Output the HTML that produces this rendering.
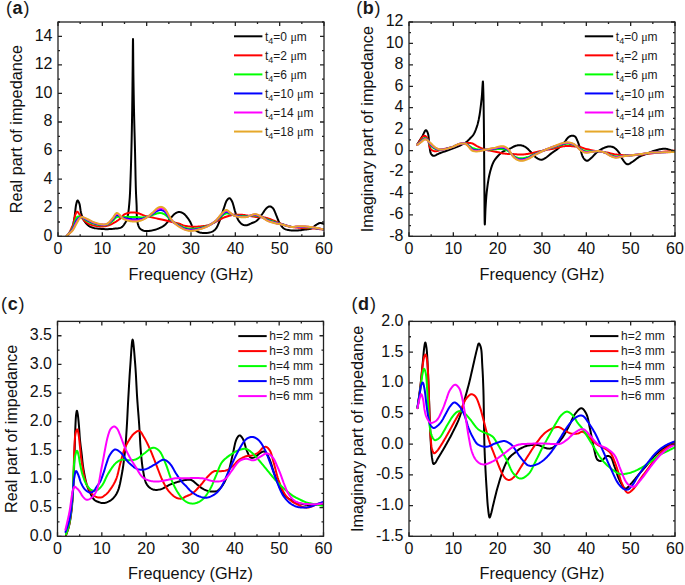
<!DOCTYPE html>
<html><head><meta charset="utf-8"><style>
html,body{margin:0;padding:0;background:#fff;}
svg{display:block;}
.tk{font-family:"Liberation Sans", sans-serif;font-size:16px;fill:#111;}
.pl{font-family:"Liberation Sans", sans-serif;font-size:18px;fill:#1a1a1a;}
.tt{font-family:"Liberation Sans", sans-serif;font-size:16.3px;fill:#111;}
.lg{font-family:"Liberation Sans", sans-serif;font-size:12px;fill:#1a1a1a;}
</style></head><body>
<svg width="685" height="585" viewBox="0 0 685 585">
<defs><clipPath id="ca"><rect x="58" y="22" width="266" height="214.3"/></clipPath><clipPath id="cb"><rect x="409" y="22" width="266" height="214.3"/></clipPath><clipPath id="cc"><rect x="57.5" y="321.4" width="266.0" height="214.89999999999998"/></clipPath><clipPath id="cd"><rect x="409" y="321.4" width="266" height="214.89999999999998"/></clipPath></defs>
<rect width="685" height="585" fill="#fff"/>
<g clip-path="url(#ca)" fill="none" stroke-width="2" stroke-linejoin="round" stroke-linecap="round">
<path d="M66.90,236.00 L67.46,235.38 L68.04,234.80 L68.63,234.23 L69.22,233.65 L69.79,233.05 L70.33,232.40 L70.84,231.69 L71.30,230.90 L71.85,229.67 L72.32,228.30 L72.73,226.82 L73.09,225.25 L73.41,223.62 L73.71,221.97 L74.01,220.32 L74.30,218.70 L74.60,216.90 L74.85,214.97 L75.07,212.98 L75.27,210.99 L75.48,209.07 L75.69,207.27 L75.92,205.66 L76.20,204.30 L76.36,203.65 L76.52,202.99 L76.68,202.36 L76.85,201.78 L77.03,201.28 L77.21,200.88 L77.40,200.61 L77.60,200.50 L77.80,200.55 L78.01,200.74 L78.23,201.03 L78.46,201.41 L78.68,201.85 L78.90,202.32 L79.11,202.82 L79.30,203.30 L79.58,204.19 L79.80,205.24 L80.00,206.40 L80.17,207.63 L80.34,208.90 L80.53,210.16 L80.74,211.37 L81.00,212.50 L81.25,213.46 L81.50,214.40 L81.76,215.33 L82.03,216.24 L82.34,217.14 L82.68,218.01 L83.06,218.87 L83.50,219.70 L84.02,220.55 L84.59,221.41 L85.21,222.25 L85.87,223.08 L86.56,223.86 L87.26,224.58 L87.98,225.23 L88.70,225.80 L89.29,226.20 L89.88,226.54 L90.47,226.83 L91.08,227.08 L91.71,227.31 L92.37,227.51 L93.06,227.71 L93.80,227.90 L94.90,228.15 L96.09,228.37 L97.35,228.56 L98.66,228.72 L100.01,228.85 L101.36,228.96 L102.70,229.04 L104.00,229.10 L105.29,229.14 L106.59,229.14 L107.90,229.13 L109.21,229.08 L110.51,229.02 L111.78,228.93 L113.01,228.83 L114.20,228.70 L115.19,228.60 L116.17,228.51 L117.14,228.41 L118.08,228.29 L118.99,228.14 L119.86,227.93 L120.66,227.66 L121.40,227.30 L121.99,226.90 L122.54,226.43 L123.04,225.91 L123.51,225.34 L123.94,224.76 L124.35,224.16 L124.73,223.57 L125.10,223.00 L125.40,222.51 L125.68,222.03 L125.94,221.55 L126.18,221.06 L126.40,220.57 L126.61,220.06 L126.81,219.54 L127.00,219.00 L127.20,218.38 L127.38,217.77 L127.53,217.14 L127.68,216.49 L127.81,215.82 L127.94,215.10 L128.07,214.33 L128.20,213.50 L128.42,211.97 L128.63,210.25 L128.84,208.39 L129.03,206.42 L129.22,204.38 L129.39,202.30 L129.55,200.23 L129.70,198.20 L129.84,196.03 L129.96,193.87 L130.07,191.69 L130.16,189.48 L130.24,187.23 L130.33,184.91 L130.41,182.50 L130.50,180.00 L130.62,176.62 L130.74,173.08 L130.86,169.40 L130.97,165.61 L131.09,161.75 L131.20,157.84 L131.30,153.91 L131.40,150.00 L131.50,145.77 L131.60,141.49 L131.69,137.18 L131.78,132.81 L131.87,128.41 L131.95,123.98 L132.03,119.51 L132.10,115.00 L132.18,110.11 L132.24,105.14 L132.31,100.10 L132.37,95.04 L132.43,89.96 L132.49,84.91 L132.54,79.92 L132.60,75.00 L132.65,69.92 L132.71,64.18 L132.76,58.20 L132.80,52.38 L132.85,47.14 L132.90,42.89 L132.95,40.04 L133.00,39.00 L133.05,40.04 L133.09,42.89 L133.14,47.14 L133.18,52.38 L133.23,58.20 L133.28,64.18 L133.34,69.92 L133.40,75.00 L133.47,79.92 L133.55,84.91 L133.63,89.96 L133.72,95.04 L133.81,100.10 L133.90,105.14 L134.00,110.11 L134.10,115.00 L134.20,119.47 L134.31,123.86 L134.42,128.19 L134.54,132.50 L134.66,136.81 L134.77,141.14 L134.89,145.53 L135.00,150.00 L135.11,155.00 L135.22,160.26 L135.33,165.65 L135.44,171.04 L135.54,176.29 L135.66,181.29 L135.77,185.90 L135.90,190.00 L135.98,192.22 L136.07,194.24 L136.15,196.12 L136.24,197.90 L136.33,199.63 L136.42,201.36 L136.51,203.14 L136.60,205.00 L136.67,207.10 L136.71,209.29 L136.73,211.54 L136.77,213.78 L136.83,215.97 L136.94,218.05 L137.12,219.98 L137.40,221.70 L137.62,222.73 L137.84,223.71 L138.09,224.64 L138.36,225.51 L138.67,226.33 L139.02,227.09 L139.43,227.78 L139.90,228.40 L140.36,228.87 L140.87,229.29 L141.41,229.67 L141.99,230.00 L142.60,230.28 L143.22,230.53 L143.86,230.73 L144.50,230.90 L145.21,231.03 L145.95,231.10 L146.70,231.12 L147.48,231.09 L148.27,231.03 L149.07,230.94 L149.88,230.82 L150.70,230.70 L151.68,230.53 L152.69,230.32 L153.73,230.07 L154.78,229.79 L155.83,229.48 L156.85,229.14 L157.85,228.78 L158.80,228.40 L159.64,228.03 L160.47,227.65 L161.27,227.25 L162.06,226.82 L162.83,226.37 L163.57,225.88 L164.30,225.36 L165.00,224.80 L165.71,224.15 L166.37,223.43 L167.01,222.66 L167.63,221.86 L168.23,221.04 L168.84,220.23 L169.46,219.45 L170.10,218.70 L170.73,217.99 L171.35,217.27 L171.99,216.54 L172.62,215.83 L173.26,215.15 L173.90,214.53 L174.55,213.97 L175.20,213.50 L175.71,213.19 L176.22,212.90 L176.73,212.64 L177.24,212.42 L177.76,212.25 L178.27,212.11 L178.79,212.03 L179.30,212.00 L179.82,212.03 L180.34,212.12 L180.86,212.26 L181.39,212.44 L181.90,212.66 L182.41,212.92 L182.91,213.20 L183.40,213.50 L183.94,213.89 L184.48,214.34 L185.01,214.84 L185.52,215.38 L186.02,215.93 L186.50,216.50 L186.96,217.06 L187.40,217.60 L187.77,218.07 L188.12,218.54 L188.45,219.00 L188.76,219.47 L189.07,219.95 L189.37,220.44 L189.68,220.96 L190.00,221.50 L190.39,222.23 L190.75,223.03 L191.10,223.87 L191.46,224.73 L191.84,225.59 L192.24,226.42 L192.69,227.20 L193.20,227.90 L193.73,228.52 L194.30,229.11 L194.90,229.68 L195.52,230.21 L196.18,230.70 L196.87,231.15 L197.57,231.55 L198.30,231.90 L199.11,232.21 L199.96,232.45 L200.85,232.65 L201.77,232.80 L202.70,232.90 L203.62,232.97 L204.52,233.00 L205.40,233.00 L206.21,232.98 L207.02,232.93 L207.83,232.84 L208.63,232.73 L209.42,232.58 L210.18,232.39 L210.91,232.16 L211.60,231.90 L212.19,231.63 L212.75,231.35 L213.28,231.03 L213.80,230.69 L214.29,230.30 L214.77,229.88 L215.24,229.42 L215.70,228.90 L216.29,228.12 L216.83,227.23 L217.35,226.26 L217.84,225.22 L218.31,224.13 L218.78,223.00 L219.24,221.85 L219.70,220.70 L220.25,219.28 L220.78,217.76 L221.31,216.17 L221.82,214.56 L222.32,212.94 L222.82,211.35 L223.31,209.83 L223.80,208.40 L224.19,207.26 L224.56,206.11 L224.92,204.98 L225.28,203.88 L225.65,202.83 L226.04,201.87 L226.45,201.02 L226.90,200.30 L227.20,199.90 L227.52,199.51 L227.85,199.14 L228.19,198.81 L228.52,198.54 L228.86,198.34 L229.19,198.22 L229.50,198.20 L229.83,198.30 L230.16,198.52 L230.48,198.85 L230.80,199.25 L231.11,199.72 L231.42,200.23 L231.71,200.76 L232.00,201.30 L232.44,202.28 L232.86,203.43 L233.24,204.71 L233.61,206.08 L233.97,207.48 L234.34,208.88 L234.71,210.24 L235.10,211.50 L235.45,212.59 L235.79,213.69 L236.12,214.78 L236.46,215.85 L236.82,216.88 L237.20,217.88 L237.63,218.82 L238.10,219.70 L238.54,220.40 L239.00,221.08 L239.49,221.74 L240.00,222.36 L240.53,222.94 L241.08,223.46 L241.63,223.92 L242.20,224.30 L242.68,224.56 L243.17,224.79 L243.68,224.97 L244.19,225.12 L244.71,225.23 L245.24,225.29 L245.77,225.32 L246.30,225.30 L246.92,225.21 L247.54,225.05 L248.18,224.81 L248.82,224.54 L249.47,224.23 L250.12,223.91 L250.76,223.59 L251.40,223.30 L252.06,223.03 L252.72,222.77 L253.38,222.51 L254.04,222.24 L254.70,221.95 L255.35,221.62 L255.98,221.24 L256.60,220.80 L257.33,220.17 L258.04,219.44 L258.73,218.64 L259.41,217.78 L260.07,216.90 L260.72,216.01 L261.37,215.13 L262.00,214.30 L262.58,213.52 L263.14,212.70 L263.69,211.87 L264.22,211.05 L264.76,210.26 L265.30,209.52 L265.84,208.86 L266.40,208.30 L266.81,207.94 L267.22,207.60 L267.63,207.27 L268.04,206.99 L268.46,206.75 L268.87,206.56 L269.29,206.44 L269.70,206.40 L270.12,206.44 L270.54,206.55 L270.97,206.72 L271.40,206.96 L271.82,207.24 L272.23,207.56 L272.63,207.92 L273.00,208.30 L273.49,208.94 L273.95,209.71 L274.37,210.57 L274.76,211.51 L275.14,212.49 L275.52,213.48 L275.90,214.46 L276.30,215.40 L276.71,216.35 L277.10,217.32 L277.48,218.30 L277.87,219.29 L278.26,220.26 L278.68,221.21 L279.12,222.13 L279.60,223.00 L280.07,223.78 L280.55,224.56 L281.04,225.33 L281.56,226.08 L282.10,226.78 L282.67,227.43 L283.27,228.00 L283.90,228.50 L284.51,228.87 L285.14,229.18 L285.80,229.43 L286.49,229.63 L287.19,229.80 L287.91,229.94 L288.65,230.07 L289.40,230.20 L290.29,230.33 L291.23,230.43 L292.19,230.50 L293.17,230.54 L294.15,230.55 L295.15,230.55 L296.13,230.53 L297.10,230.50 L298.06,230.45 L299.02,230.37 L299.98,230.26 L300.94,230.14 L301.89,230.01 L302.84,229.87 L303.78,229.73 L304.70,229.60 L305.56,229.49 L306.43,229.41 L307.29,229.32 L308.15,229.23 L308.98,229.12 L309.79,228.97 L310.57,228.77 L311.30,228.50 L311.92,228.19 L312.50,227.81 L313.05,227.38 L313.58,226.92 L314.10,226.46 L314.62,226.01 L315.15,225.58 L315.70,225.20 L316.24,224.86 L316.79,224.51 L317.34,224.16 L317.89,223.83 L318.45,223.53 L319.00,223.28 L319.55,223.10 L320.10,223.00 L320.59,222.99 L321.08,223.05 L321.57,223.17 L322.05,223.32 L322.54,223.50 L323.03,223.68 L323.51,223.86 L324.00,224.00" stroke="#000000"/>
<path d="M67.70,236.00 L68.42,234.47 L69.18,232.92 L69.95,231.37 L70.71,229.82 L71.45,228.28 L72.14,226.76 L72.76,225.26 L73.30,223.80 L73.67,222.57 L73.97,221.31 L74.21,220.04 L74.43,218.80 L74.63,217.61 L74.85,216.49 L75.10,215.48 L75.40,214.60 L75.60,214.11 L75.81,213.61 L76.03,213.13 L76.25,212.68 L76.47,212.30 L76.71,211.99 L76.95,211.79 L77.20,211.70 L77.46,211.76 L77.74,211.96 L78.02,212.26 L78.31,212.65 L78.61,213.08 L78.90,213.54 L79.20,213.99 L79.50,214.40 L79.85,214.89 L80.19,215.40 L80.53,215.94 L80.87,216.49 L81.23,217.05 L81.62,217.61 L82.04,218.16 L82.50,218.70 L83.13,219.37 L83.80,220.06 L84.51,220.75 L85.27,221.44 L86.07,222.10 L86.91,222.72 L87.78,223.29 L88.70,223.80 L89.82,224.31 L91.04,224.75 L92.33,225.14 L93.66,225.48 L95.01,225.76 L96.35,225.99 L97.65,226.17 L98.90,226.30 L99.96,226.38 L101.00,226.42 L102.03,226.42 L103.05,226.38 L104.06,226.29 L105.05,226.17 L106.03,226.01 L107.00,225.80 L107.94,225.55 L108.86,225.25 L109.77,224.90 L110.67,224.52 L111.56,224.10 L112.45,223.65 L113.32,223.18 L114.20,222.70 L115.15,222.15 L116.12,221.54 L117.10,220.89 L118.07,220.22 L119.00,219.54 L119.88,218.86 L120.69,218.21 L121.40,217.60 L121.81,217.20 L122.15,216.80 L122.45,216.39 L122.72,216.00 L123.01,215.62 L123.31,215.25 L123.67,214.91 L124.10,214.60 L124.80,214.21 L125.60,213.85 L126.49,213.53 L127.42,213.24 L128.39,212.99 L129.36,212.78 L130.30,212.61 L131.20,212.50 L131.99,212.44 L132.77,212.42 L133.54,212.44 L134.30,212.49 L135.07,212.58 L135.84,212.70 L136.62,212.84 L137.40,213.00 L138.27,213.23 L139.14,213.52 L140.01,213.85 L140.89,214.21 L141.78,214.58 L142.67,214.95 L143.58,215.29 L144.50,215.60 L145.48,215.89 L146.48,216.16 L147.48,216.41 L148.50,216.65 L149.53,216.89 L150.57,217.13 L151.63,217.36 L152.70,217.60 L153.93,217.87 L155.20,218.13 L156.49,218.39 L157.80,218.65 L159.11,218.91 L160.40,219.17 L161.67,219.43 L162.90,219.70 L163.97,219.94 L165.02,220.19 L166.04,220.44 L167.06,220.69 L168.07,220.94 L169.07,221.19 L170.08,221.44 L171.10,221.70 L172.14,221.96 L173.19,222.21 L174.25,222.47 L175.30,222.73 L176.34,222.99 L177.36,223.25 L178.35,223.52 L179.30,223.80 L180.06,224.05 L180.78,224.31 L181.47,224.58 L182.14,224.85 L182.82,225.12 L183.52,225.37 L184.24,225.60 L185.00,225.80 L185.95,226.00 L186.93,226.19 L187.96,226.35 L189.00,226.48 L190.05,226.60 L191.11,226.69 L192.17,226.76 L193.20,226.80 L194.21,226.82 L195.23,226.80 L196.24,226.76 L197.25,226.70 L198.26,226.62 L199.28,226.53 L200.29,226.42 L201.30,226.30 L202.33,226.18 L203.36,226.05 L204.39,225.91 L205.42,225.76 L206.45,225.58 L207.48,225.36 L208.49,225.11 L209.50,224.80 L210.55,224.41 L211.61,223.94 L212.66,223.43 L213.70,222.88 L214.73,222.31 L215.75,221.75 L216.74,221.20 L217.70,220.70 L218.50,220.29 L219.28,219.87 L220.04,219.46 L220.79,219.06 L221.53,218.67 L222.28,218.29 L223.03,217.93 L223.80,217.60 L224.57,217.29 L225.36,217.00 L226.16,216.73 L226.96,216.47 L227.76,216.22 L228.53,216.00 L229.28,215.79 L230.00,215.60 L230.53,215.46 L231.02,215.34 L231.49,215.22 L231.96,215.12 L232.43,215.02 L232.92,214.94 L233.43,214.86 L234.00,214.80 L234.88,214.73 L235.84,214.68 L236.86,214.65 L237.92,214.64 L239.00,214.65 L240.08,214.68 L241.16,214.73 L242.20,214.80 L243.24,214.90 L244.28,215.04 L245.33,215.20 L246.37,215.39 L247.41,215.58 L248.43,215.76 L249.43,215.94 L250.40,216.10 L251.21,216.23 L251.99,216.35 L252.74,216.47 L253.49,216.59 L254.23,216.70 L254.99,216.81 L255.78,216.91 L256.60,217.00 L257.62,217.08 L258.67,217.13 L259.76,217.15 L260.87,217.18 L261.99,217.22 L263.10,217.29 L264.21,217.41 L265.30,217.60 L266.42,217.87 L267.55,218.22 L268.67,218.61 L269.80,219.04 L270.91,219.48 L272.00,219.94 L273.07,220.38 L274.10,220.80 L274.96,221.15 L275.78,221.50 L276.57,221.86 L277.35,222.21 L278.14,222.56 L278.95,222.91 L279.80,223.26 L280.70,223.60 L281.92,224.04 L283.22,224.49 L284.56,224.95 L285.95,225.40 L287.37,225.83 L288.79,226.24 L290.21,226.59 L291.60,226.90 L292.96,227.14 L294.33,227.34 L295.71,227.50 L297.09,227.62 L298.47,227.73 L299.85,227.82 L301.22,227.91 L302.60,228.00 L303.97,228.09 L305.33,228.15 L306.70,228.20 L308.07,228.25 L309.43,228.29 L310.79,228.35 L312.15,228.41 L313.50,228.50 L314.82,228.61 L316.14,228.73 L317.45,228.87 L318.76,229.01 L320.07,229.16 L321.38,229.31 L322.69,229.46 L324.00,229.60" stroke="#ff0000"/>
<path d="M66.80,235.71 L67.56,235.14 L68.30,234.50 L69.07,233.51 L69.80,232.42 L70.56,231.36 L71.30,230.26 L72.07,229.04 L72.80,227.71 L73.57,225.77 L74.30,223.67 L75.02,221.38 L75.80,219.26 L76.50,217.92 L77.30,216.94 L78.03,216.59 L78.80,216.48 L79.55,216.54 L80.30,216.75 L81.06,217.09 L81.80,217.49 L82.55,217.94 L83.30,218.41 L84.05,218.92 L84.80,219.45 L85.55,219.94 L86.30,220.42 L87.05,220.86 L87.80,221.28 L88.55,221.67 L89.30,222.06 L90.05,222.41 L90.80,222.75 L91.55,223.06 L92.30,223.35 L93.05,223.61 L93.80,223.85 L94.55,224.07 L95.30,224.27 L96.05,224.46 L96.80,224.63 L97.55,224.79 L98.30,224.93 L99.05,225.06 L99.80,225.17 L100.55,225.26 L101.30,225.32 L102.05,225.36 L102.80,225.37 L103.55,225.37 L104.30,225.33 L105.05,225.25 L105.80,225.13 L106.56,224.94 L107.30,224.68 L108.06,224.32 L108.80,223.89 L109.56,223.36 L110.30,222.79 L111.05,222.19 L111.80,221.57 L112.56,220.91 L113.30,220.22 L114.05,219.44 L114.80,218.65 L115.53,217.92 L116.30,217.32 L117.04,217.01 L117.80,216.84 L118.55,216.86 L119.30,216.96 L120.05,217.08 L120.80,217.20 L121.55,217.29 L122.30,217.31 L123.05,217.15 L123.80,216.97 L124.55,216.92 L125.30,216.90 L126.05,216.88 L126.80,216.87 L127.55,216.87 L128.30,216.87 L129.05,216.87 L129.80,216.88 L130.55,216.88 L131.30,216.89 L132.05,216.91 L132.80,216.93 L133.55,216.96 L134.30,217.00 L135.05,217.04 L135.80,217.08 L136.55,217.12 L137.30,217.16 L138.05,217.20 L138.80,217.25 L139.55,217.30 L140.30,217.35 L141.05,217.38 L141.80,217.39 L142.55,217.39 L143.30,217.35 L144.05,217.29 L144.80,217.20 L145.55,217.09 L146.30,216.95 L147.05,216.79 L147.80,216.62 L148.55,216.41 L149.30,216.18 L150.05,215.94 L150.80,215.69 L151.55,215.44 L152.30,215.18 L153.05,214.92 L153.80,214.65 L154.55,214.36 L155.30,214.06 L156.05,213.77 L156.80,213.52 L157.55,213.33 L158.30,213.19 L159.05,213.09 L159.80,213.04 L160.55,213.05 L161.30,213.12 L162.05,213.28 L162.80,213.52 L163.56,213.82 L164.30,214.19 L165.06,214.64 L165.80,215.17 L166.56,215.87 L167.30,216.63 L168.05,217.42 L168.80,218.20 L169.55,218.91 L170.30,219.61 L171.05,220.31 L171.80,220.97 L172.54,221.54 L173.30,222.08 L174.05,222.55 L174.80,222.99 L175.55,223.41 L176.30,223.81 L177.05,224.20 L177.80,224.57 L178.55,224.94 L179.30,225.30 L180.05,225.66 L180.80,226.03 L181.55,226.39 L182.30,226.74 L183.05,227.07 L183.80,227.37 L184.55,227.63 L185.30,227.87 L186.05,228.07 L186.80,228.24 L187.55,228.40 L188.30,228.53 L189.05,228.63 L189.80,228.71 L190.55,228.77 L191.30,228.80 L192.05,228.81 L192.80,228.79 L193.55,228.75 L194.30,228.70 L195.05,228.62 L195.80,228.53 L196.55,228.43 L197.30,228.32 L198.05,228.19 L198.80,228.06 L199.55,227.91 L200.30,227.77 L201.05,227.61 L201.80,227.44 L202.55,227.27 L203.30,227.09 L204.05,226.91 L204.80,226.70 L205.55,226.48 L206.30,226.25 L207.05,225.99 L207.80,225.71 L208.55,225.41 L209.30,225.08 L210.05,224.73 L210.80,224.35 L211.55,223.93 L212.30,223.50 L213.05,223.04 L213.80,222.55 L214.55,222.05 L215.30,221.52 L216.05,220.97 L216.80,220.38 L217.55,219.75 L218.30,219.09 L219.05,218.39 L219.80,217.70 L220.55,217.04 L221.30,216.40 L222.05,215.82 L222.80,215.27 L223.54,214.73 L224.30,214.24 L225.04,213.81 L225.80,213.49 L226.55,213.33 L227.30,213.30 L228.05,213.45 L228.80,213.68 L229.55,213.90 L230.30,214.13 L231.05,214.36 L231.80,214.59 L232.55,214.83 L233.30,215.04 L234.05,215.21 L234.80,215.34 L235.55,215.44 L236.30,215.54 L237.05,215.62 L237.80,215.69 L238.55,215.76 L239.30,215.82 L240.05,215.88 L240.80,215.94 L241.55,216.00 L242.30,216.05 L243.05,216.10 L243.80,216.15 L244.55,216.19 L245.30,216.22 L246.05,216.24 L246.80,216.22 L247.55,216.17 L248.30,216.09 L249.05,215.99 L249.80,215.88 L250.55,215.78 L251.30,215.69 L252.05,215.61 L252.80,215.54 L253.55,215.47 L254.30,215.44 L255.05,215.46 L255.80,215.52 L256.55,215.65 L257.30,215.82 L258.05,216.00 L258.80,216.21 L259.55,216.42 L260.30,216.64 L261.05,216.86 L261.80,217.09 L262.55,217.37 L263.30,217.66 L264.05,217.98 L264.80,218.31 L265.55,218.65 L266.30,218.99 L267.05,219.31 L267.80,219.62 L268.55,219.92 L269.30,220.21 L270.05,220.49 L270.80,220.76 L271.55,221.03 L272.30,221.29 L273.05,221.55 L273.80,221.80 L274.55,222.05 L275.30,222.29 L276.05,222.53 L276.80,222.78 L277.55,223.01 L278.30,223.25 L279.05,223.47 L279.80,223.69 L280.55,223.90 L281.30,224.10 L282.05,224.31 L282.80,224.52 L283.55,224.75 L284.30,224.97 L285.05,225.20 L285.80,225.44 L286.55,225.67 L287.30,225.89 L288.05,226.11 L288.80,226.32 L289.55,226.50 L290.30,226.67 L291.05,226.81 L291.80,226.92 L292.55,227.00 L293.30,227.05 L294.05,227.06 L294.80,227.06 L295.55,227.05 L296.30,227.03 L297.05,227.01 L297.80,227.00 L298.55,227.01 L299.30,227.02 L300.05,227.03 L300.80,227.05 L301.55,227.07 L302.30,227.10 L303.05,227.13 L303.80,227.16 L304.55,227.20 L305.30,227.25 L306.05,227.29 L306.80,227.34 L307.55,227.39 L308.30,227.45 L309.05,227.51 L309.80,227.58 L310.55,227.64 L311.30,227.72 L312.05,227.79 L312.80,227.87 L313.55,227.96 L314.30,228.05 L315.05,228.14 L315.80,228.25 L316.55,228.35 L317.30,228.46 L318.05,228.58 L318.80,228.69 L319.55,228.81 L320.30,228.93 L321.05,229.05 L321.80,229.16 L322.55,229.28 L323.30,229.40" stroke="#00ff00"/>
<path d="M66.80,235.57 L67.56,235.00 L68.30,234.39 L69.06,233.62 L69.80,232.80 L70.56,231.97 L71.30,231.10 L72.07,230.10 L72.80,228.98 L73.57,227.42 L74.30,225.73 L75.04,223.87 L75.80,222.07 L76.52,220.73 L77.30,219.56 L78.02,218.71 L78.80,218.02 L79.53,217.60 L80.30,217.34 L81.05,217.26 L81.80,217.31 L82.56,217.52 L83.30,217.84 L84.05,218.23 L84.80,218.66 L85.55,219.08 L86.30,219.50 L87.05,219.88 L87.80,220.26 L88.55,220.66 L89.30,221.04 L90.05,221.42 L90.80,221.79 L91.55,222.13 L92.30,222.46 L93.05,222.75 L93.80,223.03 L94.55,223.27 L95.30,223.50 L96.05,223.71 L96.80,223.92 L97.55,224.10 L98.30,224.28 L99.05,224.43 L99.80,224.57 L100.55,224.69 L101.30,224.77 L102.05,224.83 L102.80,224.86 L103.55,224.88 L104.30,224.86 L105.05,224.80 L105.80,224.67 L106.56,224.46 L107.30,224.16 L108.06,223.72 L108.80,223.20 L109.56,222.55 L110.30,221.85 L111.05,221.12 L111.80,220.36 L112.56,219.57 L113.30,218.73 L114.05,217.76 L114.80,216.80 L115.52,215.93 L116.30,215.28 L117.04,215.05 L117.80,215.06 L118.56,215.35 L119.30,215.78 L120.05,216.24 L120.80,216.74 L121.54,217.24 L122.30,217.67 L123.04,217.89 L123.80,218.05 L124.55,218.21 L125.30,218.36 L126.05,218.48 L126.80,218.59 L127.55,218.70 L128.30,218.80 L129.05,218.89 L129.80,218.97 L130.55,219.04 L131.30,219.10 L132.05,219.15 L132.80,219.19 L133.55,219.22 L134.30,219.25 L135.05,219.26 L135.80,219.27 L136.55,219.26 L137.30,219.25 L138.05,219.22 L138.80,219.17 L139.55,219.12 L140.30,219.04 L141.05,218.93 L141.80,218.80 L142.55,218.63 L143.30,218.44 L144.05,218.21 L144.80,217.96 L145.55,217.68 L146.30,217.37 L147.05,217.04 L147.80,216.68 L148.55,216.28 L149.30,215.85 L150.05,215.40 L150.80,214.94 L151.55,214.48 L152.30,214.02 L153.05,213.55 L153.80,213.06 L154.55,212.53 L155.30,212.01 L156.04,211.51 L156.80,211.05 L157.54,210.70 L158.30,210.42 L159.05,210.19 L159.80,210.04 L160.55,209.98 L161.30,210.01 L162.06,210.17 L162.80,210.44 L163.56,210.81 L164.30,211.28 L165.07,211.87 L165.80,212.57 L166.56,213.53 L167.30,214.58 L168.05,215.66 L168.80,216.74 L169.55,217.72 L170.30,218.67 L171.04,219.61 L171.80,220.51 L172.54,221.28 L173.30,221.99 L174.04,222.61 L174.80,223.18 L175.55,223.72 L176.30,224.23 L177.05,224.71 L177.80,225.17 L178.55,225.62 L179.30,226.05 L180.05,226.47 L180.80,226.88 L181.55,227.28 L182.30,227.65 L183.05,228.00 L183.80,228.33 L184.55,228.61 L185.30,228.87 L186.05,229.09 L186.80,229.28 L187.55,229.45 L188.30,229.59 L189.05,229.70 L189.80,229.78 L190.55,229.83 L191.30,229.85 L192.05,229.83 L192.80,229.79 L193.55,229.73 L194.30,229.64 L195.05,229.53 L195.80,229.41 L196.55,229.27 L197.30,229.12 L198.05,228.96 L198.80,228.80 L199.55,228.62 L200.30,228.44 L201.05,228.25 L201.80,228.05 L202.55,227.83 L203.30,227.61 L204.05,227.38 L204.80,227.13 L205.55,226.86 L206.30,226.57 L207.05,226.26 L207.80,225.93 L208.55,225.57 L209.30,225.19 L210.05,224.79 L210.80,224.37 L211.55,223.91 L212.30,223.44 L213.05,222.94 L213.80,222.42 L214.55,221.87 L215.30,221.29 L216.06,220.66 L216.80,219.99 L217.56,219.23 L218.30,218.43 L219.05,217.59 L219.80,216.75 L220.54,215.96 L221.30,215.20 L222.05,214.53 L222.80,213.89 L223.54,213.25 L224.30,212.65 L225.04,212.16 L225.80,211.81 L226.55,211.70 L227.30,211.77 L228.06,212.11 L228.80,212.56 L229.55,212.99 L230.30,213.43 L231.05,213.87 L231.80,214.32 L232.55,214.74 L233.30,215.12 L234.05,215.41 L234.80,215.64 L235.55,215.82 L236.30,215.97 L237.05,216.10 L237.80,216.21 L238.55,216.31 L239.30,216.40 L240.05,216.48 L240.80,216.55 L241.55,216.62 L242.30,216.67 L243.05,216.71 L243.80,216.74 L244.55,216.75 L245.30,216.73 L246.05,216.69 L246.80,216.60 L247.55,216.46 L248.30,216.27 L249.05,216.05 L249.80,215.81 L250.55,215.61 L251.30,215.41 L252.05,215.23 L252.80,215.07 L253.55,214.91 L254.30,214.80 L255.05,214.78 L255.80,214.83 L256.55,214.98 L257.30,215.19 L258.05,215.45 L258.80,215.75 L259.55,216.05 L260.30,216.38 L261.05,216.70 L261.80,217.04 L262.55,217.42 L263.30,217.83 L264.05,218.27 L264.80,218.71 L265.55,219.14 L266.30,219.56 L267.05,219.93 L267.80,220.28 L268.55,220.60 L269.30,220.89 L270.05,221.16 L270.80,221.42 L271.55,221.67 L272.30,221.91 L273.05,222.14 L273.80,222.36 L274.55,222.58 L275.30,222.79 L276.05,222.99 L276.80,223.18 L277.55,223.37 L278.30,223.55 L279.05,223.73 L279.80,223.90 L280.55,224.08 L281.30,224.25 L282.05,224.43 L282.80,224.61 L283.55,224.81 L284.30,225.03 L285.05,225.25 L285.80,225.48 L286.55,225.71 L287.30,225.93 L288.05,226.15 L288.80,226.35 L289.55,226.54 L290.30,226.70 L291.05,226.82 L291.80,226.92 L292.55,226.96 L293.30,226.97 L294.05,226.94 L294.80,226.89 L295.55,226.83 L296.30,226.76 L297.05,226.71 L297.80,226.66 L298.55,226.64 L299.30,226.64 L300.05,226.63 L300.80,226.63 L301.55,226.64 L302.30,226.65 L303.05,226.68 L303.80,226.71 L304.55,226.75 L305.30,226.79 L306.05,226.85 L306.80,226.91 L307.55,226.98 L308.30,227.05 L309.05,227.13 L309.80,227.21 L310.55,227.30 L311.30,227.39 L312.05,227.48 L312.80,227.58 L313.55,227.68 L314.30,227.79 L315.05,227.90 L315.80,228.02 L316.55,228.14 L317.30,228.27 L318.05,228.40 L318.80,228.53 L319.55,228.66 L320.30,228.80 L321.05,228.93 L321.80,229.07 L322.55,229.20 L323.30,229.33" stroke="#0000ff"/>
<path d="M66.80,235.48 L67.55,234.91 L68.30,234.32 L69.05,233.69 L69.80,233.03 L70.56,232.34 L71.30,231.60 L72.07,230.73 L72.80,229.75 L73.57,228.42 L74.30,226.97 L75.05,225.36 L75.80,223.76 L76.54,222.40 L77.30,221.13 L78.03,219.98 L78.80,218.95 L79.53,218.24 L80.30,217.70 L81.04,217.36 L81.80,217.21 L82.55,217.28 L83.30,217.50 L84.05,217.82 L84.80,218.19 L85.55,218.56 L86.30,218.94 L87.05,219.30 L87.80,219.66 L88.55,220.04 L89.30,220.44 L90.05,220.83 L90.80,221.21 L91.55,221.58 L92.30,221.93 L93.05,222.24 L93.80,222.53 L94.55,222.79 L95.30,223.03 L96.05,223.27 L96.80,223.49 L97.55,223.69 L98.30,223.89 L99.05,224.06 L99.80,224.21 L100.55,224.34 L101.30,224.45 L102.05,224.52 L102.80,224.56 L103.55,224.59 L104.30,224.58 L105.05,224.52 L105.80,224.39 L106.56,224.17 L107.30,223.85 L108.06,223.37 L108.80,222.78 L109.56,222.06 L110.30,221.29 L111.05,220.47 L111.80,219.63 L112.56,218.76 L113.30,217.84 L114.05,216.76 L114.80,215.69 L115.52,214.74 L116.30,214.05 L117.04,213.89 L117.80,214.00 L118.57,214.44 L119.30,215.07 L120.06,215.75 L120.80,216.46 L121.54,217.21 L122.30,217.88 L123.04,218.34 L123.80,218.70 L124.55,218.99 L125.30,219.23 L126.05,219.44 L126.80,219.63 L127.55,219.80 L128.30,219.95 L129.05,220.09 L129.80,220.22 L130.55,220.33 L131.30,220.42 L132.05,220.49 L132.80,220.54 L133.55,220.58 L134.30,220.60 L135.05,220.60 L135.80,220.58 L136.55,220.55 L137.30,220.50 L138.05,220.43 L138.80,220.33 L139.55,220.21 L140.30,220.05 L141.05,219.86 L141.80,219.64 L142.55,219.38 L143.30,219.09 L144.05,218.76 L144.80,218.41 L145.55,218.03 L146.30,217.63 L147.05,217.19 L147.80,216.72 L148.55,216.20 L149.30,215.65 L150.05,215.08 L150.80,214.50 L151.55,213.91 L152.30,213.32 L153.05,212.72 L153.80,212.11 L154.55,211.44 L155.30,210.78 L156.04,210.15 L156.80,209.57 L157.54,209.12 L158.30,208.75 L159.04,208.45 L159.80,208.24 L160.55,208.13 L161.30,208.14 L162.06,208.30 L162.80,208.59 L163.56,209.00 L164.30,209.53 L165.07,210.21 L165.80,211.01 L166.57,212.13 L167.30,213.34 L168.05,214.61 L168.80,215.86 L169.54,217.00 L170.30,218.10 L171.04,219.20 L171.80,220.24 L172.54,221.13 L173.30,221.95 L174.04,222.65 L174.80,223.30 L175.55,223.90 L176.30,224.48 L177.05,225.01 L177.80,225.53 L178.55,226.02 L179.30,226.50 L180.05,226.96 L180.80,227.39 L181.55,227.81 L182.30,228.20 L183.05,228.56 L183.80,228.90 L184.55,229.20 L185.30,229.47 L186.05,229.70 L186.80,229.91 L187.55,230.09 L188.30,230.23 L189.05,230.34 L189.80,230.42 L190.55,230.47 L191.30,230.48 L192.05,230.45 L192.80,230.39 L193.55,230.31 L194.30,230.20 L195.05,230.08 L195.80,229.94 L196.55,229.78 L197.30,229.61 L198.05,229.43 L198.80,229.24 L199.55,229.05 L200.30,228.84 L201.05,228.63 L201.80,228.41 L202.55,228.17 L203.30,227.92 L204.05,227.66 L204.80,227.38 L205.55,227.08 L206.30,226.76 L207.05,226.42 L207.80,226.05 L208.55,225.67 L209.30,225.26 L210.05,224.83 L210.80,224.38 L211.55,223.90 L212.30,223.41 L213.05,222.88 L213.80,222.34 L214.55,221.76 L215.30,221.15 L216.06,220.47 L216.80,219.75 L217.56,218.92 L218.30,218.04 L219.05,217.11 L219.80,216.19 L220.54,215.32 L221.30,214.48 L222.04,213.76 L222.80,213.06 L223.54,212.36 L224.30,211.70 L225.04,211.17 L225.80,210.80 L226.55,210.72 L227.30,210.85 L228.06,211.30 L228.80,211.89 L229.55,212.44 L230.30,213.01 L231.05,213.58 L231.80,214.15 L232.54,214.69 L233.30,215.17 L234.04,215.53 L234.80,215.82 L235.55,216.05 L236.30,216.23 L237.05,216.39 L237.80,216.53 L238.55,216.65 L239.30,216.75 L240.05,216.84 L240.80,216.92 L241.55,216.99 L242.30,217.04 L243.05,217.08 L243.80,217.09 L244.55,217.08 L245.30,217.04 L246.05,216.96 L246.80,216.83 L247.55,216.63 L248.30,216.37 L249.05,216.08 L249.80,215.78 L250.55,215.50 L251.30,215.25 L252.05,215.01 L252.80,214.79 L253.55,214.58 L254.30,214.42 L255.05,214.37 L255.80,214.42 L256.55,214.58 L257.30,214.82 L258.05,215.13 L258.80,215.47 L259.55,215.84 L260.30,216.22 L261.05,216.60 L261.80,217.00 L262.55,217.46 L263.30,217.94 L264.05,218.44 L264.80,218.95 L265.55,219.44 L266.30,219.90 L267.05,220.31 L267.80,220.68 L268.55,221.00 L269.30,221.30 L270.05,221.57 L270.80,221.82 L271.55,222.05 L272.30,222.27 L273.05,222.49 L273.80,222.70 L274.55,222.90 L275.30,223.09 L276.05,223.26 L276.80,223.43 L277.55,223.59 L278.30,223.74 L279.05,223.89 L279.80,224.03 L280.55,224.18 L281.30,224.33 L282.05,224.49 L282.80,224.66 L283.55,224.85 L284.30,225.06 L285.05,225.28 L285.80,225.50 L286.55,225.73 L287.30,225.96 L288.05,226.17 L288.80,226.38 L289.55,226.56 L290.30,226.71 L291.05,226.83 L291.80,226.91 L292.55,226.94 L293.30,226.93 L294.05,226.87 L294.80,226.79 L295.55,226.70 L296.30,226.61 L297.05,226.53 L297.80,226.46 L298.55,226.43 L299.30,226.41 L300.05,226.39 L300.80,226.38 L301.55,226.38 L302.30,226.39 L303.05,226.41 L303.80,226.44 L304.55,226.47 L305.30,226.52 L306.05,226.58 L306.80,226.65 L307.55,226.73 L308.30,226.81 L309.05,226.90 L309.80,226.99 L310.55,227.09 L311.30,227.19 L312.05,227.30 L312.80,227.41 L313.55,227.52 L314.30,227.63 L315.05,227.76 L315.80,227.88 L316.55,228.02 L317.30,228.15 L318.05,228.29 L318.80,228.43 L319.55,228.58 L320.30,228.72 L321.05,228.86 L321.80,229.01 L322.55,229.15 L323.30,229.29" stroke="#ff00ff"/>
<path d="M66.70,235.50 L67.41,234.94 L68.14,234.40 L68.87,233.86 L69.61,233.33 L70.32,232.77 L71.02,232.19 L71.68,231.57 L72.30,230.90 L72.91,230.11 L73.47,229.26 L74.00,228.35 L74.50,227.42 L74.98,226.47 L75.46,225.54 L75.92,224.65 L76.40,223.80 L76.80,223.10 L77.19,222.39 L77.57,221.68 L77.94,220.99 L78.32,220.33 L78.70,219.72 L79.09,219.17 L79.50,218.70 L79.79,218.40 L80.08,218.13 L80.38,217.87 L80.67,217.64 L80.98,217.44 L81.30,217.29 L81.64,217.17 L82.00,217.10 L82.49,217.10 L83.02,217.19 L83.57,217.36 L84.15,217.58 L84.74,217.85 L85.35,218.13 L85.97,218.42 L86.60,218.70 L87.42,219.07 L88.28,219.49 L89.16,219.96 L90.06,220.44 L90.98,220.92 L91.91,221.39 L92.85,221.82 L93.80,222.20 L94.80,222.56 L95.84,222.90 L96.90,223.24 L97.97,223.54 L99.03,223.81 L100.07,224.03 L101.06,224.20 L102.00,224.30 L102.68,224.35 L103.35,224.38 L103.99,224.40 L104.61,224.38 L105.22,224.32 L105.82,224.21 L106.41,224.04 L107.00,223.80 L107.70,223.40 L108.38,222.88 L109.04,222.27 L109.69,221.59 L110.33,220.87 L110.96,220.13 L111.59,219.40 L112.20,218.70 L112.81,217.95 L113.41,217.08 L114.01,216.16 L114.59,215.26 L115.16,214.43 L115.72,213.73 L116.27,213.24 L116.80,213.00 L117.13,213.00 L117.44,213.09 L117.75,213.25 L118.06,213.47 L118.36,213.74 L118.67,214.02 L118.98,214.32 L119.30,214.60 L119.75,215.02 L120.19,215.52 L120.63,216.07 L121.09,216.64 L121.56,217.22 L122.04,217.77 L122.56,218.27 L123.10,218.70 L123.67,219.06 L124.27,219.37 L124.89,219.65 L125.53,219.90 L126.18,220.13 L126.85,220.33 L127.52,220.52 L128.20,220.70 L128.93,220.88 L129.67,221.03 L130.44,221.17 L131.21,221.28 L131.98,221.38 L132.76,221.44 L133.53,221.49 L134.30,221.50 L135.06,221.49 L135.83,221.46 L136.60,221.41 L137.37,221.33 L138.13,221.22 L138.89,221.08 L139.65,220.91 L140.40,220.70 L141.19,220.43 L141.98,220.13 L142.77,219.78 L143.55,219.40 L144.32,218.98 L145.09,218.54 L145.85,218.08 L146.60,217.60 L147.39,217.05 L148.18,216.45 L148.96,215.82 L149.72,215.16 L150.48,214.48 L151.23,213.81 L151.97,213.14 L152.70,212.50 L153.37,211.89 L154.02,211.25 L154.66,210.60 L155.30,209.96 L155.93,209.35 L156.56,208.78 L157.18,208.30 L157.80,207.90 L158.26,207.66 L158.71,207.44 L159.17,207.25 L159.62,207.09 L160.07,206.97 L160.52,206.90 L160.96,206.87 L161.40,206.90 L161.86,206.99 L162.33,207.14 L162.79,207.35 L163.25,207.60 L163.70,207.90 L164.14,208.24 L164.58,208.60 L165.00,209.00 L165.55,209.62 L166.07,210.35 L166.57,211.17 L167.05,212.05 L167.53,212.96 L168.01,213.87 L168.50,214.76 L169.00,215.60 L169.49,216.39 L169.97,217.18 L170.44,217.96 L170.93,218.75 L171.42,219.51 L171.94,220.27 L172.50,221.00 L173.10,221.70 L173.78,222.41 L174.50,223.11 L175.26,223.79 L176.05,224.44 L176.86,225.08 L177.67,225.68 L178.49,226.26 L179.30,226.80 L180.04,227.28 L180.80,227.73 L181.56,228.17 L182.32,228.58 L183.09,228.96 L183.86,229.31 L184.63,229.62 L185.40,229.90 L186.10,230.12 L186.79,230.32 L187.49,230.49 L188.18,230.64 L188.88,230.75 L189.60,230.84 L190.34,230.88 L191.10,230.90 L192.06,230.86 L193.05,230.77 L194.08,230.62 L195.12,230.43 L196.17,230.20 L197.23,229.95 L198.27,229.68 L199.30,229.40 L200.34,229.10 L201.38,228.79 L202.41,228.45 L203.44,228.08 L204.47,227.69 L205.49,227.26 L206.50,226.80 L207.50,226.30 L208.56,225.73 L209.63,225.11 L210.70,224.45 L211.76,223.76 L212.79,223.04 L213.80,222.28 L214.77,221.50 L215.70,220.70 L216.55,219.86 L217.36,218.95 L218.14,217.99 L218.88,217.02 L219.61,216.05 L220.34,215.13 L221.06,214.27 L221.80,213.50 L222.39,212.93 L222.97,212.33 L223.56,211.75 L224.14,211.21 L224.72,210.73 L225.29,210.35 L225.85,210.10 L226.40,210.00 L226.87,210.06 L227.32,210.25 L227.77,210.54 L228.22,210.90 L228.66,211.31 L229.10,211.73 L229.55,212.13 L230.00,212.50 L230.48,212.88 L230.96,213.28 L231.43,213.70 L231.90,214.13 L232.39,214.54 L232.90,214.93 L233.43,215.29 L234.00,215.60 L234.69,215.90 L235.42,216.16 L236.19,216.38 L236.98,216.58 L237.79,216.74 L238.60,216.88 L239.41,217.00 L240.20,217.10 L240.97,217.18 L241.74,217.25 L242.52,217.30 L243.29,217.33 L244.06,217.32 L244.83,217.29 L245.57,217.21 L246.30,217.10 L246.97,216.94 L247.63,216.72 L248.28,216.45 L248.92,216.16 L249.55,215.87 L250.17,215.58 L250.79,215.32 L251.40,215.10 L251.93,214.92 L252.44,214.74 L252.94,214.55 L253.44,214.38 L253.94,214.24 L254.45,214.14 L254.97,214.09 L255.50,214.10 L256.15,214.20 L256.82,214.40 L257.51,214.66 L258.20,214.98 L258.89,215.33 L259.60,215.72 L260.30,216.11 L261.00,216.50 L261.80,216.97 L262.60,217.51 L263.40,218.08 L264.20,218.67 L265.02,219.26 L265.83,219.83 L266.66,220.35 L267.50,220.80 L268.30,221.17 L269.09,221.49 L269.90,221.79 L270.71,222.05 L271.53,222.30 L272.37,222.54 L273.22,222.77 L274.10,223.00 L275.12,223.25 L276.18,223.47 L277.27,223.68 L278.37,223.87 L279.48,224.06 L280.59,224.26 L281.70,224.47 L282.80,224.70 L283.91,224.97 L285.03,225.29 L286.15,225.63 L287.27,225.97 L288.39,226.28 L289.48,226.56 L290.56,226.77 L291.60,226.90 L292.47,226.93 L293.31,226.90 L294.14,226.82 L294.96,226.71 L295.77,226.58 L296.57,226.46 L297.38,226.36 L298.20,226.30 L299.01,226.27 L299.81,226.24 L300.60,226.22 L301.39,226.21 L302.19,226.21 L303.01,226.23 L303.84,226.25 L304.70,226.30 L305.73,226.38 L306.79,226.48 L307.87,226.60 L308.97,226.73 L310.09,226.89 L311.22,227.05 L312.36,227.22 L313.50,227.40 L314.77,227.61 L316.06,227.84 L317.37,228.09 L318.70,228.35 L320.02,228.61 L321.35,228.88 L322.68,229.14 L324.00,229.40" stroke="#e6a82a"/>
</g>
<rect x="58" y="22" width="266" height="214.3" fill="none" stroke="#222" stroke-width="1.3"/>
<path d="M58.00,236.3v-4M58.00,22v4M80.17,236.3v-2M80.17,22v2M102.33,236.3v-4M102.33,22v4M124.50,236.3v-2M124.50,22v2M146.67,236.3v-4M146.67,22v4M168.83,236.3v-2M168.83,22v2M191.00,236.3v-4M191.00,22v4M213.17,236.3v-2M213.17,22v2M235.33,236.3v-4M235.33,22v4M257.50,236.3v-2M257.50,22v2M279.67,236.3v-4M279.67,22v4M301.83,236.3v-2M301.83,22v2M324.00,236.3v-4M324.00,22v4M58,236.30h4M324,236.30h-4M58,222.01h2M324,222.01h-2M58,207.73h4M324,207.73h-4M58,193.44h2M324,193.44h-2M58,179.15h4M324,179.15h-4M58,164.87h2M324,164.87h-2M58,150.58h4M324,150.58h-4M58,136.29h2M324,136.29h-2M58,122.01h4M324,122.01h-4M58,107.72h2M324,107.72h-2M58,93.43h4M324,93.43h-4M58,79.15h2M324,79.15h-2M58,64.86h4M324,64.86h-4M58,50.57h2M324,50.57h-2M58,36.29h4M324,36.29h-4M58,22.00h2M324,22.00h-2" stroke="#222" stroke-width="1.3" fill="none"/>
<text x="58.00" y="253.80" text-anchor="middle" class="tk">0</text>
<text x="102.33" y="253.80" text-anchor="middle" class="tk">10</text>
<text x="146.67" y="253.80" text-anchor="middle" class="tk">20</text>
<text x="191.00" y="253.80" text-anchor="middle" class="tk">30</text>
<text x="235.33" y="253.80" text-anchor="middle" class="tk">40</text>
<text x="279.67" y="253.80" text-anchor="middle" class="tk">50</text>
<text x="324.00" y="253.80" text-anchor="middle" class="tk">60</text>
<text x="52.50" y="240.70" text-anchor="end" class="tk">0</text>
<text x="52.50" y="212.13" text-anchor="end" class="tk">2</text>
<text x="52.50" y="183.55" text-anchor="end" class="tk">4</text>
<text x="52.50" y="154.98" text-anchor="end" class="tk">6</text>
<text x="52.50" y="126.41" text-anchor="end" class="tk">8</text>
<text x="52.50" y="97.83" text-anchor="end" class="tk">10</text>
<text x="52.50" y="69.26" text-anchor="end" class="tk">12</text>
<text x="52.50" y="40.69" text-anchor="end" class="tk">14</text>
<text x="191.00" y="279.60" text-anchor="middle" class="tt">Frequency (GHz)</text>
<text transform="translate(21.90,129.15) rotate(-90)" text-anchor="middle" class="tt">Real part of impedance</text>
<text x="6.00" y="13.70" class="pl">(<tspan dx="0.6" font-weight="bold">a</tspan><tspan dx="0.8">)</tspan></text>
<line x1="234" y1="36.30" x2="262.4" y2="36.30" stroke="#000000" stroke-width="2"/>
<text x="265" y="40.60" class="lg">t<tspan font-size="9" dy="3">4</tspan><tspan dy="-3">=0 </tspan><tspan font-family="Liberation Serif">&#956;</tspan>m</text>
<line x1="234" y1="55.35" x2="262.4" y2="55.35" stroke="#ff0000" stroke-width="2"/>
<text x="265" y="59.65" class="lg">t<tspan font-size="9" dy="3">4</tspan><tspan dy="-3">=2 </tspan><tspan font-family="Liberation Serif">&#956;</tspan>m</text>
<line x1="234" y1="74.40" x2="262.4" y2="74.40" stroke="#00ff00" stroke-width="2"/>
<text x="265" y="78.70" class="lg">t<tspan font-size="9" dy="3">4</tspan><tspan dy="-3">=6 </tspan><tspan font-family="Liberation Serif">&#956;</tspan>m</text>
<line x1="234" y1="93.45" x2="262.4" y2="93.45" stroke="#0000ff" stroke-width="2"/>
<text x="265" y="97.75" class="lg">t<tspan font-size="9" dy="3">4</tspan><tspan dy="-3">=10 </tspan><tspan font-family="Liberation Serif">&#956;</tspan>m</text>
<line x1="234" y1="112.50" x2="262.4" y2="112.50" stroke="#ff00ff" stroke-width="2"/>
<text x="265" y="116.80" class="lg">t<tspan font-size="9" dy="3">4</tspan><tspan dy="-3">=14 </tspan><tspan font-family="Liberation Serif">&#956;</tspan>m</text>
<line x1="234" y1="131.55" x2="262.4" y2="131.55" stroke="#e6a82a" stroke-width="2"/>
<text x="265" y="135.85" class="lg">t<tspan font-size="9" dy="3">4</tspan><tspan dy="-3">=18 </tspan><tspan font-family="Liberation Serif">&#956;</tspan>m</text>
<g clip-path="url(#cb)" fill="none" stroke-width="2" stroke-linejoin="round" stroke-linecap="round">
<path d="M417.20,144.50 L417.84,143.47 L418.50,142.42 L419.15,141.37 L419.81,140.33 L420.46,139.29 L421.09,138.27 L421.71,137.27 L422.30,136.30 L422.79,135.41 L423.27,134.43 L423.74,133.42 L424.20,132.44 L424.65,131.57 L425.08,130.86 L425.50,130.38 L425.90,130.20 L426.18,130.27 L426.45,130.47 L426.72,130.79 L426.98,131.20 L427.23,131.68 L427.47,132.20 L427.69,132.75 L427.90,133.30 L428.22,134.44 L428.46,135.81 L428.64,137.36 L428.79,139.03 L428.92,140.73 L429.06,142.43 L429.21,144.04 L429.40,145.50 L429.56,146.65 L429.71,147.81 L429.85,148.96 L429.99,150.08 L430.17,151.14 L430.38,152.11 L430.66,152.97 L431.00,153.70 L431.25,154.10 L431.51,154.46 L431.79,154.80 L432.08,155.10 L432.40,155.35 L432.74,155.56 L433.11,155.71 L433.50,155.80 L434.12,155.79 L434.80,155.62 L435.53,155.32 L436.31,154.93 L437.12,154.48 L437.96,154.02 L438.83,153.58 L439.70,153.20 L440.85,152.77 L442.07,152.33 L443.34,151.90 L444.64,151.45 L445.97,151.00 L447.29,150.54 L448.61,150.07 L449.90,149.60 L451.20,149.11 L452.52,148.62 L453.86,148.11 L455.18,147.60 L456.49,147.08 L457.75,146.56 L458.96,146.03 L460.10,145.50 L460.96,145.08 L461.80,144.65 L462.60,144.23 L463.38,143.80 L464.12,143.37 L464.84,142.92 L465.54,142.47 L466.20,142.00 L466.74,141.59 L467.25,141.17 L467.74,140.74 L468.20,140.31 L468.66,139.87 L469.11,139.42 L469.55,138.96 L470.00,138.50 L470.46,138.04 L470.92,137.58 L471.37,137.12 L471.82,136.66 L472.25,136.17 L472.68,135.65 L473.10,135.10 L473.50,134.50 L474.00,133.65 L474.49,132.72 L474.95,131.73 L475.40,130.69 L475.83,129.61 L476.24,128.51 L476.63,127.41 L477.00,126.30 L477.38,125.08 L477.73,123.83 L478.05,122.54 L478.35,121.24 L478.64,119.93 L478.90,118.61 L479.16,117.30 L479.40,116.00 L479.62,114.73 L479.82,113.45 L480.01,112.18 L480.18,110.91 L480.34,109.63 L480.49,108.36 L480.65,107.08 L480.80,105.80 L480.96,104.51 L481.11,103.22 L481.26,101.93 L481.40,100.63 L481.54,99.34 L481.67,98.05 L481.79,96.77 L481.90,95.50 L482.00,94.27 L482.08,93.02 L482.16,91.76 L482.23,90.51 L482.30,89.29 L482.36,88.12 L482.43,87.02 L482.50,86.00 L482.55,85.30 L482.60,84.55 L482.66,83.79 L482.71,83.08 L482.76,82.45 L482.81,81.95 L482.85,81.62 L482.90,81.50 L482.96,81.74 L483.02,82.39 L483.07,83.38 L483.12,84.62 L483.17,86.03 L483.21,87.51 L483.26,89.00 L483.30,90.40 L483.36,92.44 L483.42,94.60 L483.47,96.89 L483.52,99.29 L483.57,101.81 L483.61,104.43 L483.66,107.17 L483.70,110.00 L483.76,114.32 L483.82,119.01 L483.87,123.97 L483.92,129.12 L483.97,134.38 L484.01,139.67 L484.06,144.90 L484.10,150.00 L484.14,155.02 L484.18,160.07 L484.21,165.13 L484.25,170.18 L484.28,175.22 L484.32,180.21 L484.36,185.14 L484.40,190.00 L484.44,194.91 L484.47,200.42 L484.50,206.16 L484.54,211.72 L484.58,216.73 L484.64,220.78 L484.71,223.51 L484.80,224.50 L484.88,223.98 L484.96,222.57 L485.04,220.47 L485.13,217.88 L485.24,215.03 L485.35,212.11 L485.47,209.33 L485.60,206.90 L485.74,204.75 L485.87,202.60 L486.02,200.46 L486.17,198.33 L486.34,196.19 L486.53,194.06 L486.75,191.93 L487.00,189.80 L487.28,187.63 L487.57,185.44 L487.88,183.23 L488.21,181.03 L488.58,178.86 L488.98,176.73 L489.42,174.67 L489.90,172.70 L490.33,171.07 L490.78,169.47 L491.24,167.90 L491.73,166.37 L492.26,164.89 L492.85,163.47 L493.49,162.10 L494.20,160.80 L494.92,159.67 L495.73,158.57 L496.60,157.50 L497.50,156.48 L498.41,155.52 L499.31,154.63 L500.18,153.82 L501.00,153.10 L501.52,152.67 L502.02,152.28 L502.51,151.94 L502.99,151.62 L503.47,151.33 L503.96,151.05 L504.47,150.78 L505.00,150.50 L505.60,150.21 L506.22,149.95 L506.85,149.71 L507.50,149.48 L508.16,149.25 L508.81,149.01 L509.46,148.77 L510.10,148.50 L510.74,148.20 L511.38,147.87 L512.01,147.52 L512.64,147.17 L513.27,146.83 L513.91,146.52 L514.55,146.23 L515.20,146.00 L515.83,145.81 L516.46,145.63 L517.10,145.48 L517.74,145.35 L518.39,145.25 L519.03,145.19 L519.67,145.17 L520.30,145.20 L520.95,145.28 L521.60,145.41 L522.25,145.59 L522.89,145.80 L523.53,146.05 L524.17,146.34 L524.79,146.65 L525.40,147.00 L526.07,147.44 L526.73,147.94 L527.37,148.50 L528.00,149.09 L528.63,149.70 L529.25,150.34 L529.88,150.97 L530.50,151.60 L531.15,152.28 L531.79,153.02 L532.41,153.77 L533.04,154.54 L533.68,155.28 L534.33,155.99 L535.00,156.64 L535.70,157.20 L536.36,157.66 L537.05,158.11 L537.76,158.53 L538.48,158.91 L539.20,159.23 L539.92,159.48 L540.62,159.64 L541.30,159.70 L541.90,159.65 L542.48,159.52 L543.06,159.31 L543.64,159.05 L544.20,158.74 L544.77,158.40 L545.33,158.05 L545.90,157.70 L546.54,157.28 L547.16,156.82 L547.78,156.32 L548.40,155.79 L549.02,155.24 L549.66,154.69 L550.32,154.14 L551.00,153.60 L551.83,152.99 L552.70,152.38 L553.61,151.76 L554.52,151.14 L555.45,150.50 L556.36,149.86 L557.25,149.19 L558.10,148.50 L558.93,147.78 L559.75,147.04 L560.56,146.28 L561.35,145.50 L562.13,144.71 L562.88,143.93 L563.61,143.16 L564.30,142.40 L564.87,141.73 L565.40,141.03 L565.90,140.32 L566.39,139.63 L566.88,138.95 L567.37,138.33 L567.87,137.77 L568.40,137.30 L568.82,136.99 L569.26,136.70 L569.69,136.44 L570.14,136.21 L570.58,136.02 L571.03,135.87 L571.47,135.76 L571.90,135.70 L572.30,135.68 L572.71,135.70 L573.12,135.74 L573.53,135.82 L573.92,135.94 L574.31,136.09 L574.67,136.28 L575.00,136.50 L575.35,136.82 L575.66,137.19 L575.94,137.63 L576.20,138.10 L576.45,138.62 L576.69,139.16 L576.94,139.72 L577.20,140.30 L577.58,141.16 L577.96,142.10 L578.34,143.11 L578.71,144.16 L579.08,145.24 L579.46,146.34 L579.83,147.43 L580.20,148.50 L580.57,149.66 L580.92,150.89 L581.26,152.15 L581.60,153.42 L581.96,154.64 L582.36,155.78 L582.80,156.81 L583.30,157.70 L583.69,158.26 L584.10,158.80 L584.54,159.32 L584.99,159.78 L585.45,160.18 L585.93,160.49 L586.41,160.71 L586.90,160.80 L587.44,160.74 L588.00,160.53 L588.58,160.18 L589.16,159.75 L589.75,159.25 L590.34,158.72 L590.93,158.19 L591.50,157.70 L592.14,157.14 L592.76,156.52 L593.38,155.86 L594.00,155.19 L594.63,154.51 L595.26,153.84 L595.92,153.20 L596.60,152.60 L597.31,152.02 L598.05,151.45 L598.80,150.90 L599.56,150.36 L600.34,149.84 L601.12,149.36 L601.91,148.91 L602.70,148.50 L603.45,148.14 L604.21,147.80 L604.98,147.48 L605.75,147.18 L606.53,146.93 L607.30,146.73 L608.06,146.58 L608.80,146.50 L609.46,146.48 L610.12,146.49 L610.77,146.55 L611.42,146.64 L612.06,146.78 L612.68,146.97 L613.30,147.21 L613.90,147.50 L614.60,147.93 L615.29,148.45 L615.97,149.05 L616.63,149.71 L617.27,150.42 L617.88,151.14 L618.46,151.88 L619.00,152.60 L619.47,153.31 L619.89,154.06 L620.26,154.84 L620.61,155.63 L620.96,156.42 L621.33,157.20 L621.73,157.97 L622.20,158.70 L622.75,159.50 L623.33,160.37 L623.94,161.26 L624.59,162.12 L625.25,162.90 L625.92,163.56 L626.61,164.04 L627.30,164.30 L627.90,164.32 L628.52,164.19 L629.14,163.93 L629.78,163.57 L630.42,163.14 L631.07,162.69 L631.73,162.23 L632.40,161.80 L633.25,161.25 L634.12,160.63 L635.00,159.95 L635.90,159.25 L636.80,158.54 L637.71,157.87 L638.61,157.24 L639.50,156.70 L640.28,156.29 L641.05,155.93 L641.83,155.59 L642.60,155.29 L643.38,154.99 L644.15,154.70 L644.93,154.41 L645.70,154.10 L646.46,153.78 L647.21,153.46 L647.96,153.13 L648.72,152.81 L649.47,152.50 L650.23,152.19 L651.01,151.89 L651.80,151.60 L652.66,151.30 L653.54,151.01 L654.43,150.71 L655.33,150.43 L656.24,150.17 L657.14,149.92 L658.03,149.70 L658.90,149.50 L659.69,149.33 L660.49,149.17 L661.28,149.02 L662.06,148.89 L662.84,148.78 L663.60,148.71 L664.36,148.68 L665.10,148.70 L665.77,148.77 L666.42,148.88 L667.06,149.03 L667.70,149.21 L668.33,149.41 L668.95,149.61 L669.58,149.81 L670.20,150.00 L670.81,150.18 L671.41,150.36 L672.01,150.55 L672.61,150.74 L673.21,150.93 L673.80,151.12 L674.40,151.31 L675.00,151.50" stroke="#000000"/>
<path d="M417.20,144.50 L418.10,143.30 L419.03,141.94 L419.97,140.52 L420.90,139.13 L421.81,137.87 L422.70,136.83 L423.53,136.11 L424.30,135.80 L424.74,135.82 L425.16,135.97 L425.57,136.22 L425.96,136.56 L426.34,136.96 L426.71,137.41 L427.06,137.90 L427.40,138.40 L427.88,139.37 L428.26,140.61 L428.59,142.02 L428.88,143.51 L429.19,145.00 L429.54,146.41 L429.96,147.64 L430.50,148.60 L430.92,149.11 L431.35,149.57 L431.82,149.98 L432.30,150.33 L432.82,150.63 L433.35,150.87 L433.91,151.06 L434.50,151.20 L435.27,151.26 L436.10,151.19 L436.97,151.01 L437.87,150.76 L438.80,150.47 L439.76,150.16 L440.72,149.86 L441.70,149.60 L442.89,149.33 L444.13,149.04 L445.40,148.76 L446.70,148.46 L448.01,148.14 L449.32,147.81 L450.62,147.47 L451.90,147.10 L453.20,146.68 L454.54,146.20 L455.88,145.68 L457.22,145.15 L458.52,144.65 L459.79,144.19 L460.98,143.79 L462.10,143.50 L462.81,143.35 L463.48,143.24 L464.13,143.15 L464.74,143.09 L465.35,143.04 L465.96,143.02 L466.57,143.00 L467.20,143.00 L467.85,143.00 L468.51,143.00 L469.17,143.02 L469.83,143.05 L470.49,143.11 L471.14,143.20 L471.78,143.33 L472.40,143.50 L473.01,143.73 L473.58,144.02 L474.14,144.35 L474.69,144.71 L475.25,145.09 L475.83,145.47 L476.44,145.85 L477.10,146.20 L478.03,146.65 L479.03,147.12 L480.08,147.59 L481.16,148.06 L482.27,148.52 L483.39,148.95 L484.50,149.35 L485.60,149.70 L486.66,149.99 L487.71,150.24 L488.77,150.45 L489.84,150.64 L490.91,150.81 L491.99,150.99 L493.09,151.18 L494.20,151.40 L495.44,151.67 L496.71,151.97 L497.99,152.27 L499.29,152.59 L500.59,152.89 L501.88,153.16 L503.15,153.41 L504.40,153.60 L505.53,153.73 L506.65,153.83 L507.76,153.89 L508.86,153.94 L509.95,153.97 L511.04,154.01 L512.12,154.05 L513.20,154.10 L514.23,154.17 L515.25,154.26 L516.26,154.35 L517.27,154.44 L518.28,154.52 L519.28,154.58 L520.29,154.61 L521.30,154.60 L522.32,154.55 L523.35,154.47 L524.38,154.37 L525.40,154.24 L526.43,154.10 L527.45,153.94 L528.48,153.77 L529.50,153.60 L530.53,153.41 L531.55,153.21 L532.58,152.98 L533.60,152.75 L534.63,152.51 L535.65,152.27 L536.68,152.03 L537.70,151.80 L538.73,151.57 L539.75,151.34 L540.78,151.11 L541.80,150.88 L542.83,150.65 L543.85,150.43 L544.88,150.21 L545.90,150.00 L546.91,149.80 L547.93,149.62 L548.94,149.44 L549.95,149.26 L550.96,149.08 L551.98,148.90 L552.99,148.71 L554.00,148.50 L555.03,148.26 L556.07,148.00 L557.12,147.72 L558.17,147.44 L559.20,147.17 L560.22,146.91 L561.23,146.69 L562.20,146.50 L563.01,146.37 L563.80,146.25 L564.57,146.15 L565.34,146.06 L566.09,145.99 L566.85,145.94 L567.62,145.91 L568.40,145.90 L569.23,145.92 L570.09,145.98 L570.96,146.07 L571.83,146.17 L572.69,146.27 L573.51,146.37 L574.29,146.45 L575.00,146.50 L575.45,146.51 L575.85,146.50 L576.22,146.47 L576.59,146.45 L576.95,146.43 L577.33,146.43 L577.74,146.45 L578.20,146.50 L579.03,146.67 L579.95,146.92 L580.93,147.24 L581.96,147.59 L583.03,147.97 L584.11,148.34 L585.21,148.69 L586.30,149.00 L587.52,149.30 L588.78,149.59 L590.06,149.87 L591.37,150.13 L592.68,150.39 L593.99,150.63 L595.30,150.87 L596.60,151.10 L597.88,151.31 L599.15,151.50 L600.43,151.68 L601.70,151.86 L602.98,152.03 L604.25,152.20 L605.53,152.39 L606.80,152.60 L608.07,152.84 L609.32,153.10 L610.57,153.37 L611.82,153.65 L613.08,153.92 L614.36,154.18 L615.66,154.41 L617.00,154.60 L618.54,154.78 L620.11,154.93 L621.71,155.05 L623.34,155.15 L624.98,155.22 L626.65,155.27 L628.32,155.30 L630.00,155.30 L631.82,155.27 L633.68,155.20 L635.55,155.10 L637.44,154.98 L639.33,154.83 L641.23,154.66 L643.12,154.48 L645.00,154.30 L646.88,154.10 L648.75,153.87 L650.63,153.61 L652.50,153.35 L654.38,153.08 L656.25,152.81 L658.12,152.55 L660.00,152.30 L661.87,152.07 L663.75,151.84 L665.62,151.61 L667.50,151.39 L669.37,151.17 L671.25,150.95 L673.12,150.72 L675.00,150.50" stroke="#ff0000"/>
<path d="M417.20,144.80 L417.95,144.06 L418.70,143.31 L419.45,142.52 L420.20,141.74 L420.95,140.98 L421.70,140.23 L422.44,139.48 L423.20,138.81 L423.94,138.31 L424.70,138.04 L425.46,138.14 L426.20,138.48 L426.98,139.09 L427.70,139.94 L428.47,141.47 L429.20,143.12 L429.93,144.35 L430.70,145.43 L431.43,146.21 L432.20,146.90 L432.94,147.53 L433.70,148.08 L434.44,148.54 L435.20,148.91 L435.94,149.16 L436.70,149.35 L437.45,149.49 L438.20,149.59 L438.95,149.64 L439.70,149.67 L440.45,149.66 L441.20,149.63 L441.95,149.58 L442.70,149.49 L443.45,149.38 L444.20,149.24 L444.95,149.08 L445.70,148.91 L446.45,148.72 L447.20,148.52 L447.95,148.31 L448.70,148.09 L449.45,147.87 L450.20,147.64 L450.95,147.40 L451.70,147.16 L452.45,146.91 L453.20,146.63 L453.95,146.33 L454.70,146.01 L455.45,145.67 L456.20,145.33 L456.95,145.00 L457.70,144.68 L458.45,144.38 L459.20,144.11 L459.95,143.88 L460.70,143.70 L461.45,143.55 L462.20,143.43 L462.95,143.36 L463.70,143.33 L464.45,143.36 L465.20,143.47 L465.96,143.71 L466.70,144.04 L467.46,144.45 L468.20,144.92 L468.95,145.49 L469.70,146.09 L470.44,146.68 L471.20,147.23 L471.94,147.61 L472.70,147.94 L473.45,148.23 L474.20,148.50 L474.95,148.76 L475.70,148.99 L476.45,149.18 L477.20,149.34 L477.95,149.45 L478.70,149.54 L479.45,149.61 L480.20,149.65 L480.95,149.68 L481.70,149.70 L482.45,149.71 L483.20,149.71 L483.95,149.71 L484.70,149.70 L485.45,149.70 L486.20,149.69 L486.95,149.68 L487.70,149.65 L488.45,149.62 L489.20,149.58 L489.95,149.54 L490.70,149.49 L491.45,149.44 L492.20,149.40 L492.95,149.36 L493.70,149.32 L494.45,149.29 L495.20,149.25 L495.95,149.19 L496.70,149.14 L497.45,149.08 L498.20,149.02 L498.95,148.97 L499.70,148.94 L500.45,148.92 L501.20,148.93 L501.95,148.97 L502.70,149.05 L503.45,149.18 L504.20,149.36 L504.95,149.57 L505.70,149.83 L506.45,150.13 L507.20,150.48 L507.96,150.89 L508.70,151.36 L509.46,151.99 L510.20,152.69 L510.95,153.46 L511.70,154.24 L512.44,154.96 L513.20,155.61 L513.94,156.12 L514.70,156.55 L515.45,156.93 L516.20,157.26 L516.95,157.55 L517.70,157.81 L518.45,158.02 L519.20,158.18 L519.95,158.29 L520.70,158.34 L521.45,158.34 L522.20,158.29 L522.95,158.20 L523.70,158.07 L524.45,157.91 L525.20,157.73 L525.95,157.54 L526.70,157.33 L527.45,157.11 L528.20,156.87 L528.95,156.61 L529.70,156.32 L530.45,156.01 L531.20,155.68 L531.95,155.35 L532.70,155.00 L533.45,154.65 L534.20,154.31 L534.95,153.98 L535.70,153.66 L536.45,153.35 L537.20,153.05 L537.95,152.75 L538.70,152.45 L539.45,152.15 L540.20,151.85 L540.95,151.55 L541.70,151.26 L542.45,150.97 L543.20,150.69 L543.95,150.41 L544.70,150.13 L545.45,149.86 L546.20,149.60 L546.95,149.34 L547.70,149.09 L548.45,148.85 L549.20,148.61 L549.95,148.37 L550.70,148.14 L551.45,147.91 L552.20,147.68 L552.95,147.44 L553.70,147.21 L554.45,146.97 L555.20,146.73 L555.95,146.49 L556.70,146.24 L557.45,145.98 L558.20,145.72 L558.95,145.47 L559.70,145.22 L560.45,144.98 L561.20,144.76 L561.95,144.56 L562.70,144.38 L563.45,144.23 L564.20,144.10 L564.95,143.99 L565.70,143.90 L566.45,143.83 L567.20,143.79 L567.95,143.79 L568.70,143.82 L569.45,143.90 L570.20,144.01 L570.95,144.16 L571.70,144.34 L572.45,144.55 L573.20,144.78 L573.95,145.05 L574.70,145.36 L575.46,145.73 L576.20,146.14 L576.95,146.61 L577.70,147.12 L578.45,147.65 L579.20,148.17 L579.95,148.64 L580.70,149.08 L581.45,149.50 L582.20,149.88 L582.95,150.24 L583.70,150.55 L584.45,150.81 L585.20,151.02 L585.95,151.16 L586.70,151.25 L587.45,151.30 L588.20,151.31 L588.95,151.31 L589.70,151.29 L590.45,151.26 L591.20,151.24 L591.95,151.23 L592.70,151.22 L593.45,151.21 L594.20,151.20 L594.95,151.17 L595.70,151.15 L596.45,151.14 L597.20,151.15 L597.95,151.18 L598.70,151.24 L599.45,151.33 L600.20,151.43 L600.95,151.56 L601.70,151.71 L602.45,151.87 L603.20,152.05 L603.95,152.25 L604.70,152.47 L605.45,152.73 L606.20,153.01 L606.95,153.34 L607.70,153.69 L608.45,154.04 L609.20,154.40 L609.95,154.72 L610.70,155.02 L611.45,155.29 L612.20,155.54 L612.95,155.77 L613.70,155.98 L614.45,156.16 L615.20,156.30 L615.95,156.39 L616.70,156.43 L617.45,156.41 L618.20,156.35 L618.95,156.26 L619.70,156.16 L620.45,156.08 L621.20,156.02 L621.95,155.96 L622.70,155.91 L623.45,155.86 L624.20,155.80 L624.95,155.75 L625.70,155.70 L626.45,155.64 L627.20,155.59 L627.95,155.53 L628.70,155.47 L629.45,155.41 L630.20,155.35 L630.95,155.29 L631.70,155.22 L632.45,155.16 L633.20,155.09 L633.95,155.02 L634.70,154.95 L635.45,154.88 L636.20,154.81 L636.95,154.74 L637.70,154.66 L638.45,154.58 L639.20,154.50 L639.95,154.41 L640.70,154.33 L641.45,154.23 L642.20,154.14 L642.95,154.04 L643.70,153.94 L644.45,153.83 L645.20,153.73 L645.95,153.62 L646.70,153.51 L647.45,153.41 L648.20,153.31 L648.95,153.21 L649.70,153.12 L650.45,153.04 L651.20,152.96 L651.95,152.89 L652.70,152.82 L653.45,152.76 L654.20,152.71 L654.95,152.66 L655.70,152.61 L656.45,152.57 L657.20,152.53 L657.95,152.49 L658.70,152.44 L659.45,152.40 L660.20,152.36 L660.95,152.31 L661.70,152.26 L662.45,152.22 L663.20,152.17 L663.95,152.12 L664.70,152.07 L665.45,152.02 L666.20,151.97 L666.95,151.92 L667.70,151.88 L668.45,151.83 L669.20,151.78 L669.95,151.73 L670.70,151.68 L671.45,151.63 L672.20,151.58 L672.95,151.53 L673.70,151.48" stroke="#00ff00"/>
<path d="M417.20,144.90 L417.95,144.25 L418.70,143.60 L419.45,142.93 L420.20,142.26 L420.95,141.61 L421.70,140.97 L422.44,140.27 L423.20,139.62 L423.94,139.10 L424.70,138.77 L425.45,138.80 L426.20,139.04 L426.98,139.56 L427.70,140.26 L428.46,141.34 L429.20,142.48 L429.94,143.42 L430.70,144.29 L431.44,145.06 L432.20,145.79 L432.94,146.47 L433.70,147.11 L434.44,147.66 L435.20,148.13 L435.94,148.48 L436.70,148.77 L437.45,149.02 L438.20,149.23 L438.95,149.39 L439.70,149.50 L440.45,149.57 L441.20,149.60 L441.95,149.59 L442.70,149.53 L443.45,149.44 L444.20,149.31 L444.95,149.16 L445.70,148.98 L446.45,148.79 L447.20,148.58 L447.95,148.36 L448.70,148.13 L449.45,147.90 L450.20,147.65 L450.95,147.41 L451.70,147.17 L452.45,146.90 L453.20,146.62 L453.95,146.30 L454.70,145.97 L455.45,145.62 L456.20,145.26 L456.95,144.91 L457.70,144.58 L458.45,144.28 L459.20,144.01 L459.95,143.80 L460.70,143.64 L461.45,143.51 L462.20,143.42 L462.95,143.37 L463.70,143.37 L464.46,143.44 L465.20,143.60 L465.96,143.94 L466.70,144.38 L467.46,144.93 L468.20,145.56 L468.95,146.32 L469.70,147.11 L470.44,147.88 L471.20,148.56 L471.94,149.03 L472.70,149.39 L473.45,149.66 L474.20,149.87 L474.95,150.04 L475.70,150.19 L476.45,150.29 L477.20,150.37 L477.95,150.40 L478.70,150.40 L479.45,150.37 L480.20,150.32 L480.95,150.25 L481.70,150.17 L482.45,150.08 L483.20,149.99 L483.95,149.89 L484.70,149.80 L485.45,149.72 L486.20,149.64 L486.95,149.55 L487.70,149.46 L488.45,149.36 L489.20,149.26 L489.95,149.16 L490.70,149.06 L491.45,148.96 L492.20,148.86 L492.95,148.76 L493.70,148.66 L494.45,148.56 L495.20,148.46 L495.95,148.33 L496.70,148.19 L497.45,148.06 L498.20,147.92 L498.95,147.80 L499.70,147.69 L500.45,147.61 L501.20,147.56 L501.95,147.56 L502.70,147.62 L503.45,147.76 L504.20,147.95 L504.96,148.21 L505.70,148.52 L506.46,148.91 L507.20,149.36 L507.96,149.88 L508.70,150.50 L509.46,151.34 L510.20,152.26 L510.95,153.29 L511.70,154.31 L512.44,155.26 L513.20,156.12 L513.94,156.77 L514.70,157.34 L515.44,157.81 L516.20,158.23 L516.94,158.60 L517.70,158.92 L518.45,159.18 L519.20,159.38 L519.95,159.51 L520.70,159.59 L521.45,159.59 L522.20,159.53 L522.95,159.43 L523.70,159.28 L524.45,159.09 L525.20,158.89 L525.95,158.66 L526.70,158.41 L527.45,158.16 L528.20,157.89 L528.95,157.58 L529.70,157.24 L530.45,156.87 L531.20,156.49 L531.95,156.09 L532.70,155.68 L533.45,155.28 L534.20,154.88 L534.95,154.50 L535.70,154.13 L536.45,153.78 L537.20,153.43 L537.95,153.08 L538.70,152.74 L539.45,152.39 L540.20,152.05 L540.95,151.71 L541.70,151.38 L542.45,151.05 L543.20,150.72 L543.95,150.40 L544.70,150.09 L545.45,149.78 L546.20,149.48 L546.95,149.19 L547.70,148.90 L548.45,148.62 L549.20,148.35 L549.95,148.08 L550.70,147.81 L551.45,147.55 L552.20,147.28 L552.95,147.02 L553.70,146.76 L554.45,146.50 L555.20,146.24 L555.95,145.97 L556.70,145.70 L557.45,145.43 L558.20,145.15 L558.95,144.88 L559.70,144.61 L560.45,144.35 L561.20,144.11 L561.95,143.89 L562.70,143.70 L563.45,143.54 L564.20,143.40 L564.95,143.28 L565.70,143.18 L566.45,143.12 L567.20,143.08 L567.95,143.08 L568.70,143.12 L569.45,143.22 L570.20,143.35 L570.95,143.53 L571.70,143.74 L572.45,143.98 L573.20,144.26 L573.96,144.59 L574.70,144.98 L575.46,145.47 L576.20,146.02 L576.95,146.67 L577.70,147.34 L578.45,148.02 L579.20,148.66 L579.94,149.21 L580.70,149.72 L581.45,150.19 L582.20,150.62 L582.94,151.00 L583.70,151.34 L584.45,151.60 L585.20,151.80 L585.95,151.92 L586.70,151.97 L587.45,151.97 L588.20,151.93 L588.95,151.87 L589.70,151.79 L590.45,151.70 L591.20,151.62 L591.95,151.56 L592.70,151.50 L593.45,151.44 L594.20,151.37 L594.95,151.30 L595.70,151.22 L596.45,151.17 L597.20,151.13 L597.95,151.14 L598.70,151.17 L599.45,151.25 L600.20,151.36 L600.95,151.50 L601.70,151.66 L602.45,151.84 L603.20,152.05 L603.95,152.28 L604.70,152.53 L605.45,152.84 L606.20,153.19 L606.95,153.58 L607.70,154.00 L608.45,154.42 L609.20,154.84 L609.95,155.22 L610.70,155.57 L611.45,155.87 L612.20,156.14 L612.95,156.40 L613.70,156.63 L614.45,156.82 L615.20,156.96 L615.95,157.04 L616.70,157.06 L617.45,157.00 L618.20,156.88 L618.95,156.74 L619.70,156.59 L620.45,156.46 L621.20,156.35 L621.95,156.26 L622.70,156.17 L623.45,156.09 L624.20,156.01 L624.95,155.93 L625.70,155.85 L626.45,155.77 L627.20,155.69 L627.95,155.61 L628.70,155.53 L629.45,155.44 L630.20,155.36 L630.95,155.28 L631.70,155.21 L632.45,155.13 L633.20,155.05 L633.95,154.97 L634.70,154.89 L635.45,154.81 L636.20,154.73 L636.95,154.64 L637.70,154.56 L638.45,154.47 L639.20,154.38 L639.95,154.29 L640.70,154.20 L641.45,154.10 L642.20,153.99 L642.95,153.88 L643.70,153.77 L644.45,153.66 L645.20,153.54 L645.95,153.43 L646.70,153.31 L647.45,153.20 L648.20,153.10 L648.95,153.00 L649.70,152.91 L650.45,152.83 L651.20,152.76 L651.95,152.70 L652.70,152.65 L653.45,152.61 L654.20,152.58 L654.95,152.55 L655.70,152.52 L656.45,152.50 L657.20,152.48 L657.95,152.46 L658.70,152.44 L659.45,152.41 L660.20,152.39 L660.95,152.36 L661.70,152.32 L662.45,152.29 L663.20,152.26 L663.95,152.22 L664.70,152.19 L665.45,152.15 L666.20,152.12 L666.95,152.08 L667.70,152.05 L668.45,152.01 L669.20,151.97 L669.95,151.94 L670.70,151.90 L671.45,151.87 L672.20,151.83 L672.95,151.80 L673.70,151.76" stroke="#0000ff"/>
<path d="M417.20,144.95 L417.95,144.35 L418.70,143.74 L419.45,143.13 L420.20,142.52 L420.95,141.93 L421.70,141.33 L422.45,140.66 L423.20,140.03 L423.94,139.50 L424.70,139.14 L425.45,139.12 L426.20,139.32 L426.97,139.79 L427.70,140.43 L428.46,141.27 L429.20,142.16 L429.95,142.95 L430.70,143.72 L431.45,144.48 L432.20,145.23 L432.94,145.95 L433.70,146.63 L434.44,147.22 L435.20,147.73 L435.94,148.14 L436.70,148.49 L437.45,148.79 L438.20,149.05 L438.95,149.26 L439.70,149.42 L440.45,149.52 L441.20,149.58 L441.95,149.59 L442.70,149.55 L443.45,149.47 L444.20,149.35 L444.95,149.20 L445.70,149.02 L446.45,148.82 L447.20,148.61 L447.95,148.39 L448.70,148.15 L449.45,147.91 L450.20,147.66 L450.95,147.42 L451.70,147.17 L452.45,146.90 L453.20,146.61 L453.95,146.29 L454.70,145.95 L455.45,145.59 L456.20,145.22 L456.95,144.87 L457.70,144.53 L458.45,144.23 L459.20,143.96 L459.95,143.76 L460.70,143.60 L461.45,143.48 L462.20,143.41 L462.95,143.37 L463.70,143.39 L464.46,143.48 L465.20,143.67 L465.96,144.05 L466.70,144.55 L467.46,145.18 L468.20,145.89 L468.95,146.73 L469.70,147.61 L470.44,148.47 L471.20,149.23 L471.93,149.73 L472.70,150.11 L473.44,150.37 L474.20,150.55 L474.95,150.69 L475.70,150.78 L476.45,150.85 L477.20,150.88 L477.95,150.87 L478.70,150.83 L479.45,150.75 L480.20,150.65 L480.95,150.53 L481.70,150.40 L482.45,150.27 L483.20,150.12 L483.95,149.98 L484.70,149.85 L485.45,149.73 L486.20,149.61 L486.95,149.48 L487.70,149.36 L488.45,149.23 L489.20,149.11 L489.95,148.98 L490.70,148.85 L491.45,148.72 L492.20,148.59 L492.95,148.46 L493.70,148.33 L494.45,148.20 L495.20,148.06 L495.95,147.90 L496.70,147.72 L497.45,147.54 L498.20,147.37 L498.95,147.21 L499.70,147.07 L500.45,146.95 L501.20,146.88 L501.95,146.86 L502.70,146.91 L503.45,147.05 L504.20,147.25 L504.96,147.53 L505.70,147.87 L506.46,148.30 L507.20,148.79 L507.97,149.38 L508.70,150.07 L509.47,151.01 L510.20,152.04 L510.95,153.20 L511.70,154.35 L512.43,155.41 L513.20,156.37 L513.93,157.10 L514.70,157.73 L515.44,158.25 L516.20,158.72 L516.94,159.12 L517.70,159.47 L518.45,159.76 L519.20,159.98 L519.95,160.13 L520.70,160.21 L521.45,160.21 L522.20,160.15 L522.95,160.04 L523.70,159.88 L524.45,159.69 L525.20,159.46 L525.95,159.22 L526.70,158.96 L527.45,158.69 L528.20,158.40 L528.95,158.07 L529.70,157.70 L530.45,157.30 L531.20,156.89 L531.95,156.46 L532.70,156.02 L533.45,155.59 L534.20,155.16 L534.95,154.76 L535.70,154.37 L536.45,153.99 L537.20,153.62 L537.95,153.25 L538.70,152.88 L539.45,152.52 L540.20,152.15 L540.95,151.79 L541.70,151.44 L542.45,151.09 L543.20,150.74 L543.95,150.40 L544.70,150.07 L545.45,149.74 L546.20,149.42 L546.95,149.11 L547.70,148.81 L548.45,148.51 L549.20,148.22 L549.95,147.93 L550.70,147.64 L551.45,147.36 L552.20,147.09 L552.95,146.81 L553.70,146.53 L554.45,146.26 L555.20,145.99 L555.95,145.71 L556.70,145.44 L557.45,145.15 L558.20,144.87 L558.95,144.58 L559.70,144.31 L560.45,144.04 L561.20,143.79 L561.95,143.56 L562.70,143.36 L563.45,143.19 L564.20,143.05 L564.95,142.93 L565.70,142.83 L566.45,142.76 L567.20,142.73 L567.95,142.73 L568.70,142.78 L569.45,142.88 L570.20,143.02 L570.95,143.21 L571.70,143.44 L572.45,143.70 L573.20,144.00 L573.96,144.37 L574.70,144.80 L575.46,145.35 L576.20,145.97 L576.95,146.70 L577.70,147.45 L578.44,148.20 L579.20,148.90 L579.94,149.50 L580.70,150.04 L581.44,150.53 L582.20,150.99 L582.94,151.38 L583.70,151.73 L584.45,151.99 L585.20,152.19 L585.95,152.29 L586.70,152.33 L587.45,152.30 L588.20,152.24 L588.95,152.15 L589.70,152.03 L590.45,151.92 L591.20,151.81 L591.95,151.72 L592.70,151.64 L593.45,151.55 L594.20,151.46 L594.95,151.36 L595.70,151.26 L596.45,151.18 L597.20,151.12 L597.95,151.11 L598.70,151.14 L599.45,151.21 L600.20,151.32 L600.95,151.46 L601.70,151.63 L602.45,151.83 L603.20,152.05 L603.95,152.29 L604.70,152.57 L605.45,152.90 L606.20,153.27 L606.95,153.70 L607.70,154.15 L608.45,154.61 L609.20,155.06 L609.95,155.46 L610.70,155.84 L611.45,156.15 L612.20,156.44 L612.95,156.71 L613.70,156.95 L614.45,157.15 L615.20,157.29 L615.95,157.37 L616.70,157.37 L617.45,157.29 L618.20,157.15 L618.95,156.98 L619.70,156.80 L620.45,156.65 L621.20,156.52 L621.95,156.41 L622.70,156.31 L623.45,156.21 L624.20,156.11 L624.95,156.01 L625.70,155.92 L626.45,155.83 L627.20,155.74 L627.95,155.64 L628.70,155.55 L629.45,155.46 L630.20,155.37 L630.95,155.28 L631.70,155.20 L632.45,155.11 L633.20,155.03 L633.95,154.94 L634.70,154.86 L635.45,154.77 L636.20,154.69 L636.95,154.60 L637.70,154.51 L638.45,154.42 L639.20,154.33 L639.95,154.23 L640.70,154.14 L641.45,154.03 L642.20,153.92 L642.95,153.81 L643.70,153.69 L644.45,153.57 L645.20,153.45 L645.95,153.33 L646.70,153.21 L647.45,153.10 L648.20,153.00 L648.95,152.90 L649.70,152.81 L650.45,152.73 L651.20,152.67 L651.95,152.61 L652.70,152.57 L653.45,152.54 L654.20,152.51 L654.95,152.49 L655.70,152.47 L656.45,152.46 L657.20,152.45 L657.95,152.44 L658.70,152.43 L659.45,152.42 L660.20,152.40 L660.95,152.38 L661.70,152.35 L662.45,152.33 L663.20,152.30 L663.95,152.27 L664.70,152.24 L665.45,152.22 L666.20,152.19 L666.95,152.16 L667.70,152.13 L668.45,152.10 L669.20,152.07 L669.95,152.04 L670.70,152.01 L671.45,151.99 L672.20,151.96 L672.95,151.93 L673.70,151.90" stroke="#ff00ff"/>
<path d="M417.20,145.00 L417.71,144.62 L418.22,144.24 L418.74,143.86 L419.25,143.48 L419.76,143.10 L420.27,142.73 L420.79,142.36 L421.30,142.00 L421.80,141.63 L422.30,141.21 L422.80,140.78 L423.29,140.36 L423.79,139.98 L424.29,139.68 L424.80,139.48 L425.30,139.40 L425.81,139.46 L426.31,139.65 L426.81,139.93 L427.31,140.28 L427.82,140.69 L428.34,141.13 L428.86,141.57 L429.40,142.00 L430.12,142.61 L430.87,143.31 L431.62,144.07 L432.39,144.87 L433.17,145.65 L433.97,146.39 L434.78,147.05 L435.60,147.60 L436.32,148.00 L437.04,148.37 L437.77,148.70 L438.51,148.99 L439.26,149.22 L440.04,149.41 L440.85,149.53 L441.70,149.60 L442.86,149.57 L444.09,149.40 L445.39,149.13 L446.72,148.78 L448.06,148.38 L449.39,147.95 L450.67,147.51 L451.90,147.10 L452.98,146.70 L454.04,146.23 L455.09,145.73 L456.12,145.23 L457.13,144.74 L458.11,144.30 L459.07,143.95 L460.00,143.70 L460.69,143.57 L461.38,143.47 L462.06,143.41 L462.72,143.38 L463.36,143.39 L463.98,143.44 L464.56,143.55 L465.10,143.70 L465.52,143.88 L465.91,144.10 L466.28,144.36 L466.62,144.65 L466.96,144.97 L467.29,145.30 L467.64,145.65 L468.00,146.00 L468.47,146.50 L468.94,147.09 L469.41,147.72 L469.88,148.37 L470.37,149.00 L470.88,149.59 L471.42,150.10 L472.00,150.50 L472.56,150.78 L473.15,150.99 L473.76,151.15 L474.39,151.27 L475.03,151.34 L475.70,151.38 L476.39,151.40 L477.10,151.40 L478.06,151.34 L479.07,151.20 L480.13,151.00 L481.21,150.76 L482.32,150.49 L483.42,150.21 L484.52,149.94 L485.60,149.70 L486.67,149.48 L487.75,149.25 L488.82,149.03 L489.90,148.80 L490.98,148.57 L492.05,148.35 L493.13,148.12 L494.20,147.90 L495.28,147.65 L496.38,147.34 L497.49,147.02 L498.60,146.71 L499.69,146.44 L500.74,146.25 L501.75,146.16 L502.70,146.20 L503.43,146.33 L504.12,146.52 L504.79,146.77 L505.43,147.07 L506.06,147.43 L506.67,147.83 L507.29,148.29 L507.90,148.80 L508.72,149.66 L509.51,150.72 L510.26,151.93 L511.01,153.21 L511.76,154.50 L512.54,155.72 L513.34,156.81 L514.20,157.70 L514.91,158.29 L515.64,158.83 L516.38,159.32 L517.14,159.75 L517.91,160.12 L518.69,160.43 L519.49,160.65 L520.30,160.80 L521.16,160.85 L522.04,160.80 L522.93,160.66 L523.84,160.45 L524.76,160.19 L525.68,159.88 L526.59,159.54 L527.50,159.20 L528.51,158.77 L529.52,158.26 L530.53,157.69 L531.53,157.09 L532.55,156.46 L533.58,155.82 L534.63,155.20 L535.70,154.60 L536.92,153.96 L538.16,153.31 L539.43,152.65 L540.71,151.99 L542.01,151.35 L543.31,150.71 L544.61,150.09 L545.90,149.50 L547.18,148.94 L548.48,148.38 L549.79,147.84 L551.10,147.32 L552.40,146.81 L553.67,146.32 L554.91,145.85 L556.10,145.40 L557.05,145.03 L557.98,144.67 L558.89,144.31 L559.78,143.97 L560.66,143.65 L561.52,143.36 L562.37,143.11 L563.20,142.90 L563.89,142.76 L564.56,142.63 L565.23,142.53 L565.89,142.45 L566.53,142.40 L567.17,142.37 L567.79,142.37 L568.40,142.40 L568.93,142.45 L569.46,142.54 L569.98,142.64 L570.50,142.77 L570.99,142.91 L571.48,143.06 L571.95,143.23 L572.40,143.40 L572.77,143.55 L573.11,143.70 L573.44,143.86 L573.76,144.02 L574.08,144.21 L574.41,144.41 L574.74,144.64 L575.10,144.90 L575.68,145.39 L576.28,145.99 L576.90,146.67 L577.54,147.38 L578.19,148.11 L578.85,148.81 L579.52,149.45 L580.20,150.00 L580.80,150.43 L581.41,150.85 L582.02,151.25 L582.64,151.61 L583.27,151.93 L583.93,152.21 L584.60,152.44 L585.30,152.60 L586.13,152.69 L587.01,152.68 L587.91,152.59 L588.84,152.44 L589.78,152.27 L590.71,152.09 L591.62,151.92 L592.50,151.80 L593.29,151.70 L594.06,151.57 L594.83,151.44 L595.59,151.31 L596.34,151.20 L597.09,151.12 L597.84,151.08 L598.60,151.10 L599.37,151.17 L600.14,151.28 L600.91,151.42 L601.67,151.60 L602.44,151.81 L603.20,152.05 L603.95,152.31 L604.70,152.60 L605.49,152.96 L606.28,153.40 L607.06,153.89 L607.84,154.40 L608.61,154.91 L609.38,155.39 L610.14,155.83 L610.90,156.20 L611.55,156.48 L612.19,156.74 L612.83,156.98 L613.46,157.20 L614.09,157.39 L614.73,157.54 L615.36,157.64 L616.00,157.70 L616.63,157.69 L617.24,157.62 L617.85,157.50 L618.47,157.35 L619.09,157.18 L619.74,157.00 L620.40,156.84 L621.10,156.70 L622.02,156.55 L622.98,156.40 L623.97,156.24 L625.00,156.10 L626.04,155.95 L627.11,155.80 L628.20,155.65 L629.30,155.50 L630.62,155.33 L631.99,155.15 L633.39,154.98 L634.82,154.81 L636.26,154.64 L637.69,154.46 L639.11,154.28 L640.50,154.10 L641.81,153.91 L643.11,153.71 L644.40,153.49 L645.68,153.28 L646.96,153.07 L648.24,152.89 L649.52,152.73 L650.80,152.60 L652.06,152.51 L653.31,152.46 L654.55,152.44 L655.80,152.43 L657.06,152.43 L658.34,152.43 L659.65,152.42 L661.00,152.40 L662.64,152.36 L664.34,152.31 L666.09,152.26 L667.86,152.21 L669.65,152.16 L671.45,152.10 L673.23,152.05 L675.00,152.00" stroke="#e6a82a"/>
</g>
<rect x="409" y="22" width="266" height="214.3" fill="none" stroke="#222" stroke-width="1.3"/>
<path d="M409.00,236.3v-4M409.00,22v4M431.17,236.3v-2M431.17,22v2M453.33,236.3v-4M453.33,22v4M475.50,236.3v-2M475.50,22v2M497.67,236.3v-4M497.67,22v4M519.83,236.3v-2M519.83,22v2M542.00,236.3v-4M542.00,22v4M564.17,236.3v-2M564.17,22v2M586.33,236.3v-4M586.33,22v4M608.50,236.3v-2M608.50,22v2M630.67,236.3v-4M630.67,22v4M652.83,236.3v-2M652.83,22v2M675.00,236.3v-4M675.00,22v4M409,236.30h4M675,236.30h-4M409,225.59h2M675,225.59h-2M409,214.87h4M675,214.87h-4M409,204.16h2M675,204.16h-2M409,193.44h4M675,193.44h-4M409,182.73h2M675,182.73h-2M409,172.01h4M675,172.01h-4M409,161.30h2M675,161.30h-2M409,150.58h4M675,150.58h-4M409,139.87h2M675,139.87h-2M409,129.15h4M675,129.15h-4M409,118.44h2M675,118.44h-2M409,107.72h4M675,107.72h-4M409,97.00h2M675,97.00h-2M409,86.29h4M675,86.29h-4M409,75.57h2M675,75.57h-2M409,64.86h4M675,64.86h-4M409,54.15h2M675,54.15h-2M409,43.43h4M675,43.43h-4M409,32.72h2M675,32.72h-2M409,22.00h4M675,22.00h-4" stroke="#222" stroke-width="1.3" fill="none"/>
<text x="409.00" y="253.80" text-anchor="middle" class="tk">0</text>
<text x="453.33" y="253.80" text-anchor="middle" class="tk">10</text>
<text x="497.67" y="253.80" text-anchor="middle" class="tk">20</text>
<text x="542.00" y="253.80" text-anchor="middle" class="tk">30</text>
<text x="586.33" y="253.80" text-anchor="middle" class="tk">40</text>
<text x="630.67" y="253.80" text-anchor="middle" class="tk">50</text>
<text x="675.00" y="253.80" text-anchor="middle" class="tk">60</text>
<text x="403.50" y="240.70" text-anchor="end" class="tk">-8</text>
<text x="403.50" y="219.27" text-anchor="end" class="tk">-6</text>
<text x="403.50" y="197.84" text-anchor="end" class="tk">-4</text>
<text x="403.50" y="176.41" text-anchor="end" class="tk">-2</text>
<text x="403.50" y="154.98" text-anchor="end" class="tk">0</text>
<text x="403.50" y="133.55" text-anchor="end" class="tk">2</text>
<text x="403.50" y="112.12" text-anchor="end" class="tk">4</text>
<text x="403.50" y="90.69" text-anchor="end" class="tk">6</text>
<text x="403.50" y="69.26" text-anchor="end" class="tk">8</text>
<text x="403.50" y="47.83" text-anchor="end" class="tk">10</text>
<text x="403.50" y="26.40" text-anchor="end" class="tk">12</text>
<text x="542.00" y="279.60" text-anchor="middle" class="tt">Frequency (GHz)</text>
<text transform="translate(372.90,129.15) rotate(-90)" text-anchor="middle" class="tt">Imaginary part of impedance</text>
<text x="356.20" y="13.70" class="pl">(<tspan dx="0.6" font-weight="bold">b</tspan><tspan dx="0.8">)</tspan></text>
<line x1="584.8" y1="36.30" x2="613.1999999999999" y2="36.30" stroke="#000000" stroke-width="2"/>
<text x="615.8" y="40.60" class="lg">t<tspan font-size="9" dy="3">4</tspan><tspan dy="-3">=0 </tspan><tspan font-family="Liberation Serif">&#956;</tspan>m</text>
<line x1="584.8" y1="55.35" x2="613.1999999999999" y2="55.35" stroke="#ff0000" stroke-width="2"/>
<text x="615.8" y="59.65" class="lg">t<tspan font-size="9" dy="3">4</tspan><tspan dy="-3">=2 </tspan><tspan font-family="Liberation Serif">&#956;</tspan>m</text>
<line x1="584.8" y1="74.40" x2="613.1999999999999" y2="74.40" stroke="#00ff00" stroke-width="2"/>
<text x="615.8" y="78.70" class="lg">t<tspan font-size="9" dy="3">4</tspan><tspan dy="-3">=6 </tspan><tspan font-family="Liberation Serif">&#956;</tspan>m</text>
<line x1="584.8" y1="93.45" x2="613.1999999999999" y2="93.45" stroke="#0000ff" stroke-width="2"/>
<text x="615.8" y="97.75" class="lg">t<tspan font-size="9" dy="3">4</tspan><tspan dy="-3">=10 </tspan><tspan font-family="Liberation Serif">&#956;</tspan>m</text>
<line x1="584.8" y1="112.50" x2="613.1999999999999" y2="112.50" stroke="#ff00ff" stroke-width="2"/>
<text x="615.8" y="116.80" class="lg">t<tspan font-size="9" dy="3">4</tspan><tspan dy="-3">=14 </tspan><tspan font-family="Liberation Serif">&#956;</tspan>m</text>
<line x1="584.8" y1="131.55" x2="613.1999999999999" y2="131.55" stroke="#e6a82a" stroke-width="2"/>
<text x="615.8" y="135.85" class="lg">t<tspan font-size="9" dy="3">4</tspan><tspan dy="-3">=18 </tspan><tspan font-family="Liberation Serif">&#956;</tspan>m</text>
<g clip-path="url(#cc)" fill="none" stroke-width="2" stroke-linejoin="round" stroke-linecap="round">
<path d="M66.00,535.20 L66.32,534.30 L66.64,533.41 L66.97,532.52 L67.30,531.63 L67.62,530.74 L67.93,529.84 L68.23,528.92 L68.50,528.00 L68.76,527.04 L69.00,526.08 L69.22,525.11 L69.43,524.14 L69.63,523.15 L69.82,522.13 L70.01,521.08 L70.20,520.00 L70.43,518.63 L70.65,517.22 L70.86,515.76 L71.06,514.27 L71.26,512.74 L71.45,511.18 L71.63,509.60 L71.80,508.00 L71.99,506.13 L72.16,504.22 L72.31,502.28 L72.46,500.31 L72.60,498.29 L72.74,496.23 L72.87,494.14 L73.00,492.00 L73.15,489.43 L73.29,486.78 L73.42,484.07 L73.54,481.31 L73.66,478.51 L73.78,475.68 L73.89,472.84 L74.00,470.00 L74.11,466.94 L74.22,463.81 L74.32,460.65 L74.42,457.46 L74.51,454.29 L74.61,451.13 L74.70,448.03 L74.80,445.00 L74.89,442.23 L74.97,439.44 L75.05,436.65 L75.13,433.90 L75.21,431.23 L75.30,428.66 L75.39,426.24 L75.50,424.00 L75.57,422.54 L75.65,421.11 L75.72,419.73 L75.80,418.42 L75.88,417.18 L75.97,416.02 L76.08,414.96 L76.20,414.00 L76.28,413.47 L76.36,412.92 L76.44,412.39 L76.53,411.89 L76.62,411.45 L76.71,411.11 L76.81,410.88 L76.90,410.80 L77.00,410.88 L77.10,411.11 L77.20,411.45 L77.30,411.88 L77.40,412.38 L77.51,412.92 L77.61,413.47 L77.70,414.00 L77.86,414.97 L78.00,416.05 L78.15,417.24 L78.28,418.50 L78.41,419.83 L78.54,421.20 L78.67,422.60 L78.80,424.00 L78.96,425.83 L79.10,427.76 L79.24,429.76 L79.38,431.82 L79.52,433.90 L79.66,435.97 L79.82,438.02 L80.00,440.00 L80.19,441.85 L80.39,443.69 L80.61,445.53 L80.83,447.35 L81.06,449.15 L81.28,450.93 L81.50,452.68 L81.70,454.40 L81.87,455.92 L82.03,457.41 L82.18,458.88 L82.33,460.34 L82.48,461.78 L82.64,463.20 L82.81,464.60 L83.00,466.00 L83.19,467.28 L83.38,468.54 L83.58,469.79 L83.79,471.03 L84.01,472.26 L84.23,473.48 L84.46,474.69 L84.70,475.90 L84.93,477.07 L85.17,478.25 L85.41,479.42 L85.65,480.59 L85.91,481.73 L86.19,482.86 L86.48,483.95 L86.80,485.00 L87.09,485.87 L87.39,486.70 L87.70,487.51 L88.02,488.30 L88.36,489.08 L88.71,489.87 L89.09,490.67 L89.50,491.50 L90.00,492.54 L90.53,493.66 L91.09,494.81 L91.67,495.97 L92.29,497.08 L92.93,498.12 L93.60,499.04 L94.30,499.80 L94.85,500.27 L95.43,500.66 L96.02,501.00 L96.63,501.30 L97.25,501.55 L97.88,501.78 L98.49,501.99 L99.10,502.20 L99.64,502.39 L100.17,502.58 L100.70,502.75 L101.23,502.90 L101.77,503.01 L102.32,503.09 L102.90,503.12 L103.50,503.10 L104.38,502.98 L105.33,502.76 L106.33,502.47 L107.35,502.10 L108.37,501.66 L109.37,501.16 L110.32,500.60 L111.20,500.00 L112.09,499.29 L112.95,498.50 L113.76,497.65 L114.54,496.72 L115.29,495.73 L116.00,494.66 L116.67,493.52 L117.30,492.30 L118.10,490.44 L118.81,488.36 L119.43,486.12 L119.99,483.76 L120.50,481.30 L120.98,478.79 L121.44,476.28 L121.90,473.80 L122.40,471.05 L122.85,468.22 L123.28,465.33 L123.67,462.40 L124.03,459.46 L124.38,456.54 L124.70,453.64 L125.00,450.80 L125.26,448.18 L125.50,445.63 L125.70,443.12 L125.89,440.61 L126.07,438.08 L126.24,435.48 L126.42,432.80 L126.60,430.00 L126.82,426.37 L127.04,422.59 L127.25,418.69 L127.45,414.69 L127.65,410.63 L127.86,406.54 L128.07,402.45 L128.30,398.40 L128.54,394.15 L128.79,389.81 L129.04,385.43 L129.30,381.03 L129.56,376.67 L129.83,372.38 L130.11,368.21 L130.40,364.20 L130.65,360.59 L130.91,356.61 L131.18,352.52 L131.45,348.57 L131.73,345.05 L132.01,342.20 L132.30,340.29 L132.60,339.60 L132.91,340.29 L133.24,342.19 L133.58,345.04 L133.93,348.57 L134.27,352.51 L134.60,356.61 L134.91,360.59 L135.20,364.20 L135.50,368.23 L135.77,372.45 L136.02,376.80 L136.25,381.21 L136.48,385.64 L136.71,390.02 L136.94,394.29 L137.20,398.40 L137.44,401.89 L137.69,405.30 L137.95,408.64 L138.21,411.93 L138.47,415.20 L138.72,418.46 L138.97,421.72 L139.20,425.00 L139.41,428.27 L139.60,431.55 L139.78,434.85 L139.96,438.13 L140.14,441.39 L140.33,444.59 L140.55,447.74 L140.80,450.80 L141.03,453.45 L141.26,456.07 L141.50,458.66 L141.75,461.21 L142.03,463.70 L142.34,466.14 L142.69,468.51 L143.10,470.80 L143.46,472.72 L143.81,474.64 L144.17,476.54 L144.57,478.39 L145.02,480.15 L145.54,481.80 L146.16,483.29 L146.90,484.60 L147.53,485.47 L148.21,486.27 L148.94,487.00 L149.72,487.66 L150.53,488.25 L151.37,488.75 L152.23,489.17 L153.10,489.50 L153.99,489.73 L154.91,489.86 L155.86,489.91 L156.84,489.88 L157.83,489.79 L158.82,489.63 L159.82,489.44 L160.80,489.20 L161.93,488.83 L163.07,488.34 L164.21,487.75 L165.36,487.10 L166.52,486.42 L167.67,485.76 L168.83,485.14 L170.00,484.60 L171.15,484.14 L172.32,483.70 L173.51,483.28 L174.69,482.88 L175.86,482.50 L177.01,482.15 L178.13,481.81 L179.20,481.50 L180.03,481.26 L180.83,481.03 L181.61,480.80 L182.38,480.60 L183.13,480.41 L183.88,480.25 L184.64,480.11 L185.40,480.00 L186.13,479.91 L186.87,479.81 L187.60,479.73 L188.34,479.68 L189.06,479.67 L189.78,479.70 L190.50,479.81 L191.20,480.00 L191.99,480.34 L192.77,480.80 L193.53,481.37 L194.28,481.99 L195.03,482.66 L195.78,483.34 L196.54,483.99 L197.30,484.60 L198.06,485.19 L198.81,485.81 L199.56,486.43 L200.31,487.05 L201.07,487.65 L201.85,488.21 L202.66,488.74 L203.50,489.20 L204.40,489.63 L205.35,490.02 L206.32,490.38 L207.31,490.71 L208.31,490.99 L209.30,491.21 L210.26,491.39 L211.20,491.50 L212.00,491.56 L212.79,491.61 L213.57,491.62 L214.35,491.59 L215.11,491.50 L215.86,491.35 L216.59,491.12 L217.30,490.80 L218.16,490.27 L219.00,489.58 L219.82,488.78 L220.61,487.88 L221.38,486.90 L222.12,485.88 L222.83,484.84 L223.50,483.80 L224.20,482.63 L224.84,481.42 L225.44,480.16 L226.01,478.85 L226.55,477.49 L227.07,476.08 L227.58,474.62 L228.10,473.10 L228.75,471.03 L229.36,468.82 L229.95,466.48 L230.52,464.08 L231.07,461.65 L231.62,459.23 L232.16,456.87 L232.70,454.60 L233.18,452.53 L233.62,450.39 L234.05,448.24 L234.48,446.12 L234.92,444.11 L235.40,442.24 L235.92,440.59 L236.50,439.20 L236.85,438.51 L237.22,437.84 L237.60,437.21 L237.99,436.63 L238.39,436.14 L238.80,435.76 L239.20,435.50 L239.60,435.40 L239.98,435.46 L240.37,435.65 L240.77,435.96 L241.17,436.36 L241.57,436.83 L241.96,437.36 L242.33,437.93 L242.70,438.50 L243.29,439.64 L243.83,441.05 L244.34,442.64 L244.83,444.34 L245.32,446.09 L245.82,447.79 L246.34,449.39 L246.90,450.80 L247.35,451.84 L247.78,452.90 L248.22,453.96 L248.67,454.96 L249.14,455.87 L249.65,456.66 L250.20,457.28 L250.80,457.70 L251.31,457.87 L251.86,457.93 L252.44,457.89 L253.04,457.78 L253.65,457.61 L254.25,457.39 L254.84,457.15 L255.40,456.90 L256.00,456.56 L256.58,456.12 L257.15,455.61 L257.71,455.06 L258.27,454.50 L258.83,453.97 L259.40,453.49 L260.00,453.10 L260.56,452.78 L261.14,452.44 L261.74,452.11 L262.33,451.82 L262.93,451.58 L263.51,451.44 L264.07,451.40 L264.60,451.50 L265.26,451.86 L265.89,452.45 L266.49,453.24 L267.06,454.17 L267.62,455.20 L268.16,456.30 L268.68,457.41 L269.20,458.50 L269.85,459.98 L270.46,461.61 L271.03,463.33 L271.58,465.13 L272.12,466.96 L272.66,468.79 L273.22,470.58 L273.80,472.30 L274.36,473.88 L274.92,475.46 L275.47,477.02 L276.03,478.57 L276.61,480.11 L277.20,481.63 L277.83,483.12 L278.50,484.60 L279.17,486.04 L279.84,487.50 L280.53,488.95 L281.25,490.38 L282.00,491.77 L282.81,493.08 L283.67,494.30 L284.60,495.40 L285.49,496.28 L286.45,497.08 L287.45,497.82 L288.49,498.49 L289.56,499.12 L290.64,499.71 L291.72,500.26 L292.80,500.80 L293.84,501.29 L294.90,501.74 L295.97,502.16 L297.05,502.54 L298.13,502.89 L299.22,503.22 L300.31,503.52 L301.40,503.80 L302.46,504.05 L303.53,504.28 L304.61,504.49 L305.69,504.67 L306.77,504.83 L307.83,504.95 L308.88,505.04 L309.90,505.10 L310.80,505.12 L311.68,505.09 L312.54,505.04 L313.40,504.97 L314.25,504.88 L315.10,504.78 L315.95,504.69 L316.80,504.60 L317.64,504.51 L318.48,504.42 L319.32,504.32 L320.16,504.22 L320.99,504.11 L321.83,504.01 L322.66,503.90 L323.50,503.80" stroke="#000000"/>
<path d="M66.00,534.60 L66.32,533.72 L66.65,532.84 L66.98,531.97 L67.31,531.10 L67.63,530.22 L67.94,529.33 L68.23,528.43 L68.50,527.50 L68.76,526.49 L69.00,525.48 L69.23,524.46 L69.44,523.42 L69.63,522.36 L69.82,521.28 L70.01,520.16 L70.20,519.00 L70.43,517.52 L70.65,515.98 L70.86,514.39 L71.06,512.76 L71.26,511.10 L71.45,509.41 L71.63,507.71 L71.80,506.00 L71.98,504.11 L72.15,502.20 L72.32,500.28 L72.47,498.33 L72.61,496.34 L72.75,494.29 L72.88,492.18 L73.00,490.00 L73.14,487.13 L73.25,484.10 L73.35,480.95 L73.44,477.73 L73.53,474.48 L73.61,471.25 L73.70,468.07 L73.80,465.00 L73.89,462.18 L73.98,459.33 L74.06,456.48 L74.15,453.67 L74.24,450.93 L74.35,448.30 L74.46,445.81 L74.60,443.50 L74.69,441.97 L74.78,440.48 L74.86,439.04 L74.95,437.66 L75.06,436.35 L75.20,435.13 L75.38,434.01 L75.60,433.00 L75.77,432.40 L75.96,431.78 L76.17,431.17 L76.39,430.61 L76.61,430.12 L76.83,429.74 L77.02,429.49 L77.20,429.40 L77.32,429.46 L77.43,429.61 L77.53,429.85 L77.63,430.14 L77.73,430.47 L77.82,430.82 L77.91,431.17 L78.00,431.50 L78.12,431.96 L78.23,432.45 L78.33,432.97 L78.43,433.51 L78.52,434.09 L78.61,434.69 L78.70,435.33 L78.80,436.00 L78.95,437.14 L79.11,438.41 L79.26,439.77 L79.41,441.20 L79.56,442.66 L79.71,444.14 L79.86,445.59 L80.00,447.00 L80.14,448.38 L80.27,449.78 L80.40,451.17 L80.53,452.57 L80.66,453.96 L80.79,455.33 L80.94,456.68 L81.10,458.00 L81.26,459.17 L81.42,460.32 L81.59,461.45 L81.76,462.56 L81.94,463.67 L82.13,464.78 L82.31,465.88 L82.50,467.00 L82.69,468.13 L82.87,469.26 L83.06,470.40 L83.25,471.54 L83.45,472.67 L83.65,473.78 L83.87,474.86 L84.10,475.90 L84.31,476.78 L84.53,477.64 L84.75,478.49 L84.98,479.32 L85.22,480.13 L85.47,480.93 L85.73,481.72 L86.00,482.50 L86.25,483.20 L86.50,483.89 L86.76,484.56 L87.02,485.22 L87.30,485.87 L87.61,486.54 L87.94,487.21 L88.30,487.90 L88.78,488.79 L89.31,489.74 L89.88,490.72 L90.47,491.69 L91.10,492.64 L91.75,493.53 L92.42,494.33 L93.10,495.00 L93.66,495.46 L94.24,495.87 L94.84,496.23 L95.45,496.55 L96.07,496.83 L96.69,497.06 L97.30,497.25 L97.90,497.40 L98.43,497.49 L98.96,497.55 L99.50,497.57 L100.04,497.55 L100.56,497.51 L101.07,497.44 L101.55,497.33 L102.00,497.20 L102.36,497.06 L102.68,496.89 L102.99,496.70 L103.29,496.48 L103.58,496.25 L103.88,496.01 L104.18,495.76 L104.50,495.50 L104.92,495.18 L105.35,494.85 L105.79,494.51 L106.23,494.15 L106.68,493.76 L107.15,493.33 L107.62,492.84 L108.10,492.30 L109.00,491.19 L109.97,489.90 L111.00,488.44 L112.04,486.87 L113.08,485.20 L114.07,483.48 L114.99,481.74 L115.80,480.00 L116.57,478.05 L117.23,476.00 L117.81,473.89 L118.34,471.72 L118.84,469.53 L119.33,467.35 L119.84,465.20 L120.40,463.10 L120.95,461.12 L121.48,459.12 L122.00,457.12 L122.53,455.14 L123.08,453.20 L123.66,451.30 L124.30,449.46 L125.00,447.70 L125.69,446.19 L126.43,444.68 L127.23,443.20 L128.04,441.77 L128.87,440.40 L129.68,439.12 L130.46,437.95 L131.20,436.90 L131.64,436.30 L132.05,435.74 L132.46,435.23 L132.85,434.75 L133.26,434.31 L133.68,433.89 L134.12,433.49 L134.60,433.10 L135.12,432.69 L135.68,432.26 L136.27,431.84 L136.87,431.44 L137.48,431.11 L138.07,430.88 L138.65,430.76 L139.20,430.80 L139.83,431.08 L140.43,431.58 L141.01,432.26 L141.57,433.08 L142.12,433.99 L142.67,434.96 L143.23,435.95 L143.80,436.90 L144.58,438.20 L145.36,439.61 L146.15,441.10 L146.93,442.65 L147.71,444.26 L148.49,445.90 L149.25,447.55 L150.00,449.20 L150.81,451.03 L151.60,452.91 L152.38,454.83 L153.15,456.77 L153.91,458.74 L154.67,460.70 L155.43,462.66 L156.20,464.60 L156.96,466.55 L157.71,468.52 L158.44,470.51 L159.19,472.50 L159.93,474.46 L160.70,476.37 L161.48,478.23 L162.30,480.00 L163.02,481.49 L163.74,482.95 L164.46,484.37 L165.20,485.76 L165.97,487.10 L166.76,488.39 L167.61,489.63 L168.50,490.80 L169.37,491.84 L170.28,492.88 L171.23,493.88 L172.21,494.84 L173.21,495.72 L174.21,496.51 L175.21,497.17 L176.20,497.70 L176.97,498.01 L177.78,498.26 L178.60,498.44 L179.41,498.57 L180.20,498.63 L180.96,498.64 L181.67,498.60 L182.30,498.50 L182.69,498.39 L183.04,498.24 L183.35,498.06 L183.64,497.85 L183.94,497.62 L184.25,497.38 L184.60,497.14 L185.00,496.90 L185.78,496.51 L186.66,496.12 L187.63,495.71 L188.65,495.27 L189.69,494.80 L190.74,494.28 L191.75,493.72 L192.70,493.10 L193.71,492.32 L194.71,491.45 L195.68,490.52 L196.64,489.54 L197.58,488.52 L198.52,487.48 L199.46,486.44 L200.40,485.40 L201.38,484.28 L202.36,483.10 L203.32,481.89 L204.29,480.66 L205.24,479.45 L206.20,478.29 L207.15,477.20 L208.10,476.20 L208.86,475.43 L209.61,474.67 L210.36,473.93 L211.10,473.23 L211.85,472.59 L212.61,472.03 L213.39,471.56 L214.20,471.20 L214.94,471.01 L215.70,470.93 L216.47,470.93 L217.26,471.00 L218.05,471.08 L218.84,471.17 L219.62,471.21 L220.40,471.20 L221.17,471.15 L221.94,471.10 L222.71,471.05 L223.48,470.98 L224.25,470.87 L225.01,470.74 L225.76,470.55 L226.50,470.30 L227.30,469.95 L228.10,469.54 L228.89,469.07 L229.67,468.55 L230.44,468.00 L231.20,467.41 L231.95,466.81 L232.70,466.20 L233.48,465.50 L234.23,464.72 L234.97,463.91 L235.70,463.07 L236.43,462.23 L237.19,461.43 L237.97,460.68 L238.80,460.00 L239.66,459.40 L240.56,458.82 L241.49,458.28 L242.43,457.77 L243.39,457.30 L244.34,456.88 L245.28,456.51 L246.20,456.20 L246.98,456.00 L247.75,455.89 L248.52,455.82 L249.28,455.79 L250.04,455.75 L250.80,455.69 L251.55,455.58 L252.30,455.40 L253.10,455.13 L253.90,454.83 L254.71,454.48 L255.51,454.10 L256.30,453.69 L257.06,453.25 L257.80,452.78 L258.50,452.30 L259.14,451.77 L259.75,451.17 L260.34,450.51 L260.90,449.84 L261.45,449.20 L262.00,448.60 L262.54,448.09 L263.10,447.70 L263.49,447.48 L263.89,447.28 L264.28,447.11 L264.67,446.97 L265.05,446.87 L265.44,446.82 L265.82,446.83 L266.20,446.90 L266.70,447.10 L267.19,447.41 L267.69,447.81 L268.18,448.30 L268.66,448.85 L269.13,449.47 L269.58,450.12 L270.00,450.80 L270.59,451.96 L271.12,453.29 L271.60,454.76 L272.04,456.35 L272.47,458.00 L272.89,459.70 L273.33,461.41 L273.80,463.10 L274.36,465.10 L274.91,467.18 L275.46,469.33 L276.01,471.51 L276.58,473.70 L277.18,475.86 L277.82,477.97 L278.50,480.00 L279.17,481.85 L279.85,483.71 L280.56,485.55 L281.30,487.36 L282.07,489.11 L282.87,490.78 L283.72,492.35 L284.60,493.80 L285.33,494.86 L286.09,495.86 L286.86,496.80 L287.66,497.68 L288.49,498.52 L289.33,499.31 L290.20,500.07 L291.10,500.80 L292.00,501.46 L292.93,502.08 L293.89,502.66 L294.87,503.20 L295.86,503.71 L296.85,504.20 L297.83,504.66 L298.80,505.10 L299.67,505.50 L300.55,505.91 L301.44,506.30 L302.31,506.67 L303.18,507.00 L304.04,507.27 L304.88,507.48 L305.70,507.60 L306.37,507.64 L307.01,507.62 L307.65,507.56 L308.28,507.45 L308.90,507.32 L309.52,507.16 L310.16,506.99 L310.80,506.80 L311.53,506.55 L312.27,506.25 L313.01,505.90 L313.75,505.53 L314.50,505.16 L315.25,504.80 L316.02,504.47 L316.80,504.20 L317.61,503.97 L318.43,503.78 L319.27,503.61 L320.11,503.46 L320.96,503.33 L321.81,503.19 L322.66,503.05 L323.50,502.90" stroke="#ff0000"/>
<path d="M66.00,534.30 L66.32,533.39 L66.65,532.50 L66.98,531.60 L67.31,530.71 L67.63,529.80 L67.94,528.89 L68.23,527.96 L68.50,527.00 L68.77,525.94 L69.01,524.87 L69.23,523.78 L69.44,522.67 L69.63,521.55 L69.82,520.40 L70.01,519.21 L70.20,518.00 L70.43,516.50 L70.64,514.94 L70.85,513.35 L71.06,511.71 L71.25,510.05 L71.44,508.37 L71.63,506.69 L71.80,505.00 L71.98,503.20 L72.15,501.39 L72.31,499.57 L72.47,497.73 L72.61,495.86 L72.75,493.95 L72.88,492.00 L73.00,490.00 L73.12,487.51 L73.20,484.87 L73.27,482.15 L73.33,479.38 L73.39,476.63 L73.47,473.95 L73.56,471.39 L73.70,469.00 L73.82,467.25 L73.93,465.53 L74.06,463.85 L74.19,462.23 L74.35,460.67 L74.53,459.19 L74.74,457.80 L75.00,456.50 L75.21,455.59 L75.44,454.64 L75.70,453.68 L75.96,452.79 L76.23,452.00 L76.50,451.37 L76.76,450.95 L77.00,450.80 L77.20,450.91 L77.40,451.22 L77.59,451.68 L77.79,452.27 L77.97,452.93 L78.16,453.63 L78.33,454.34 L78.50,455.00 L78.72,455.94 L78.91,456.95 L79.08,458.03 L79.24,459.16 L79.40,460.32 L79.58,461.51 L79.77,462.70 L80.00,463.90 L80.29,465.33 L80.60,466.82 L80.92,468.35 L81.26,469.90 L81.63,471.45 L82.02,472.98 L82.45,474.47 L82.90,475.90 L83.34,477.19 L83.80,478.49 L84.28,479.78 L84.79,481.04 L85.32,482.26 L85.88,483.42 L86.47,484.50 L87.10,485.50 L87.63,486.26 L88.19,487.01 L88.76,487.72 L89.36,488.39 L89.97,489.00 L90.60,489.53 L91.24,489.97 L91.90,490.30 L92.47,490.50 L93.06,490.64 L93.67,490.73 L94.28,490.75 L94.90,490.72 L95.51,490.64 L96.11,490.49 L96.70,490.30 L97.40,489.97 L98.08,489.55 L98.76,489.03 L99.43,488.43 L100.09,487.77 L100.74,487.05 L101.37,486.29 L102.00,485.50 L102.81,484.32 L103.58,482.97 L104.31,481.51 L105.03,479.96 L105.75,478.38 L106.49,476.79 L107.27,475.26 L108.10,473.80 L108.98,472.37 L109.89,470.89 L110.84,469.41 L111.80,467.95 L112.78,466.56 L113.78,465.26 L114.79,464.10 L115.80,463.10 L116.54,462.47 L117.28,461.89 L118.04,461.37 L118.79,460.91 L119.56,460.51 L120.33,460.17 L121.11,459.90 L121.90,459.70 L122.65,459.61 L123.40,459.62 L124.16,459.72 L124.92,459.86 L125.70,460.02 L126.48,460.17 L127.28,460.27 L128.10,460.30 L129.07,460.28 L130.07,460.25 L131.10,460.20 L132.14,460.11 L133.19,459.98 L134.22,459.79 L135.23,459.53 L136.20,459.20 L137.20,458.74 L138.16,458.16 L139.09,457.50 L140.01,456.78 L140.93,456.03 L141.86,455.26 L142.82,454.51 L143.80,453.80 L144.92,452.97 L146.09,452.03 L147.29,451.03 L148.49,450.06 L149.69,449.17 L150.87,448.44 L152.01,447.92 L153.10,447.70 L153.92,447.72 L154.73,447.88 L155.53,448.15 L156.31,448.53 L157.06,449.00 L157.80,449.54 L158.51,450.14 L159.20,450.80 L160.12,451.88 L160.97,453.17 L161.77,454.63 L162.53,456.22 L163.26,457.91 L163.97,459.64 L164.68,461.39 L165.40,463.10 L166.21,465.09 L166.97,467.18 L167.72,469.35 L168.45,471.55 L169.18,473.75 L169.93,475.92 L170.69,478.01 L171.50,480.00 L172.23,481.67 L172.97,483.32 L173.72,484.93 L174.48,486.51 L175.26,488.04 L176.05,489.52 L176.87,490.94 L177.70,492.30 L178.42,493.41 L179.15,494.50 L179.90,495.56 L180.66,496.57 L181.43,497.54 L182.21,498.44 L183.00,499.26 L183.80,500.00 L184.43,500.52 L185.06,501.00 L185.71,501.43 L186.35,501.82 L187.00,502.18 L187.66,502.49 L188.33,502.77 L189.00,503.00 L189.63,503.19 L190.26,503.35 L190.89,503.48 L191.53,503.57 L192.18,503.62 L192.84,503.63 L193.51,503.59 L194.20,503.50 L195.11,503.31 L196.07,503.05 L197.05,502.71 L198.05,502.30 L199.05,501.83 L200.03,501.28 L200.99,500.67 L201.90,500.00 L202.97,499.07 L204.00,498.00 L205.01,496.82 L205.99,495.55 L206.94,494.21 L207.86,492.82 L208.74,491.41 L209.60,490.00 L210.49,488.42 L211.32,486.76 L212.10,485.05 L212.85,483.29 L213.59,481.51 L214.31,479.73 L215.05,477.95 L215.80,476.20 L216.54,474.42 L217.25,472.59 L217.94,470.73 L218.64,468.88 L219.36,467.07 L220.13,465.35 L220.97,463.75 L221.90,462.30 L222.74,461.23 L223.64,460.24 L224.59,459.32 L225.56,458.46 L226.56,457.66 L227.58,456.89 L228.59,456.14 L229.60,455.40 L230.55,454.72 L231.54,454.06 L232.54,453.42 L233.55,452.81 L234.54,452.24 L235.51,451.70 L236.43,451.22 L237.30,450.80 L237.87,450.54 L238.41,450.30 L238.93,450.08 L239.44,449.89 L239.94,449.72 L240.45,449.56 L240.96,449.43 L241.50,449.30 L242.07,449.17 L242.64,449.04 L243.23,448.92 L243.82,448.82 L244.41,448.76 L245.01,448.74 L245.60,448.78 L246.20,448.90 L246.95,449.16 L247.71,449.53 L248.47,449.99 L249.23,450.53 L250.00,451.13 L250.76,451.77 L251.53,452.43 L252.30,453.10 L253.26,453.98 L254.22,454.94 L255.19,455.96 L256.15,457.04 L257.12,458.15 L258.09,459.27 L259.05,460.40 L260.00,461.50 L260.97,462.63 L261.94,463.78 L262.90,464.94 L263.86,466.11 L264.82,467.29 L265.78,468.46 L266.74,469.64 L267.70,470.80 L268.65,471.96 L269.60,473.11 L270.54,474.27 L271.48,475.43 L272.43,476.58 L273.40,477.73 L274.38,478.87 L275.40,480.00 L276.50,481.18 L277.62,482.38 L278.78,483.58 L279.95,484.76 L281.13,485.93 L282.30,487.07 L283.46,488.16 L284.60,489.20 L285.59,490.08 L286.58,490.94 L287.57,491.77 L288.56,492.58 L289.53,493.36 L290.49,494.09 L291.41,494.77 L292.30,495.40 L292.93,495.82 L293.52,496.21 L294.09,496.56 L294.65,496.89 L295.22,497.21 L295.81,497.53 L296.43,497.85 L297.10,498.20 L298.05,498.69 L299.06,499.20 L300.12,499.72 L301.22,500.24 L302.34,500.75 L303.47,501.24 L304.60,501.69 L305.70,502.10 L306.75,502.44 L307.80,502.75 L308.85,503.03 L309.91,503.28 L310.97,503.52 L312.04,503.75 L313.11,503.97 L314.20,504.20 L315.34,504.44 L316.49,504.66 L317.65,504.87 L318.82,505.08 L319.99,505.28 L321.16,505.49 L322.33,505.69 L323.50,505.90" stroke="#00ff00"/>
<path d="M65.50,532.00 L65.82,531.13 L66.14,530.27 L66.46,529.42 L66.78,528.56 L67.10,527.70 L67.41,526.82 L67.71,525.92 L68.00,525.00 L68.31,523.95 L68.61,522.88 L68.90,521.79 L69.19,520.69 L69.46,519.56 L69.72,518.40 L69.97,517.22 L70.20,516.00 L70.46,514.49 L70.69,512.93 L70.90,511.31 L71.09,509.66 L71.28,507.99 L71.45,506.31 L71.63,504.64 L71.80,503.00 L71.97,501.37 L72.13,499.74 L72.28,498.10 L72.42,496.47 L72.56,494.84 L72.71,493.21 L72.85,491.60 L73.00,490.00 L73.14,488.45 L73.26,486.89 L73.38,485.31 L73.51,483.75 L73.64,482.23 L73.80,480.75 L73.98,479.33 L74.20,478.00 L74.39,476.95 L74.59,475.82 L74.81,474.68 L75.04,473.60 L75.28,472.63 L75.54,471.85 L75.81,471.32 L76.10,471.10 L76.34,471.17 L76.59,471.42 L76.85,471.81 L77.12,472.31 L77.39,472.88 L77.67,473.50 L77.94,474.11 L78.20,474.70 L78.56,475.58 L78.91,476.58 L79.25,477.65 L79.59,478.78 L79.93,479.91 L80.29,481.03 L80.68,482.11 L81.10,483.10 L81.49,483.93 L81.89,484.75 L82.30,485.56 L82.73,486.34 L83.18,487.09 L83.66,487.81 L84.16,488.48 L84.70,489.10 L85.23,489.65 L85.81,490.19 L86.41,490.71 L87.03,491.19 L87.66,491.61 L88.29,491.97 L88.91,492.24 L89.50,492.40 L89.96,492.46 L90.42,492.46 L90.88,492.41 L91.34,492.32 L91.79,492.18 L92.23,491.99 L92.67,491.77 L93.10,491.50 L93.70,491.00 L94.29,490.35 L94.87,489.59 L95.43,488.75 L95.98,487.88 L96.51,487.02 L97.02,486.21 L97.50,485.50 L97.85,485.03 L98.18,484.61 L98.50,484.21 L98.80,483.82 L99.10,483.42 L99.40,482.99 L99.70,482.53 L100.00,482.00 L100.46,481.09 L100.91,480.07 L101.36,478.97 L101.80,477.80 L102.24,476.60 L102.67,475.38 L103.09,474.17 L103.50,473.00 L103.90,471.82 L104.28,470.63 L104.65,469.43 L105.01,468.22 L105.38,467.02 L105.74,465.82 L106.11,464.65 L106.50,463.50 L106.86,462.44 L107.19,461.38 L107.53,460.32 L107.87,459.28 L108.24,458.26 L108.64,457.27 L109.09,456.31 L109.60,455.40 L110.16,454.51 L110.76,453.57 L111.41,452.62 L112.10,451.73 L112.81,450.92 L113.53,450.25 L114.27,449.76 L115.00,449.50 L115.65,449.48 L116.32,449.61 L117.00,449.88 L117.69,450.26 L118.39,450.71 L119.07,451.22 L119.75,451.76 L120.40,452.30 L121.21,453.06 L122.02,453.97 L122.81,454.97 L123.60,456.04 L124.36,457.12 L125.10,458.17 L125.81,459.14 L126.50,460.00 L126.96,460.55 L127.39,461.05 L127.79,461.53 L128.18,461.98 L128.58,462.43 L129.01,462.87 L129.48,463.33 L130.00,463.80 L130.79,464.50 L131.66,465.26 L132.60,466.05 L133.58,466.83 L134.60,467.58 L135.64,468.24 L136.67,468.79 L137.70,469.20 L138.63,469.45 L139.57,469.61 L140.53,469.70 L141.49,469.72 L142.46,469.67 L143.44,469.57 L144.42,469.41 L145.40,469.20 L146.53,468.86 L147.68,468.40 L148.83,467.85 L149.98,467.22 L151.14,466.56 L152.30,465.88 L153.45,465.22 L154.60,464.60 L155.77,463.93 L156.95,463.15 L158.14,462.32 L159.33,461.51 L160.50,460.77 L161.64,460.19 L162.75,459.81 L163.80,459.70 L164.65,459.83 L165.48,460.11 L166.28,460.54 L167.06,461.07 L167.82,461.68 L168.56,462.36 L169.29,463.07 L170.00,463.80 L170.86,464.80 L171.67,465.94 L172.44,467.20 L173.19,468.53 L173.93,469.89 L174.67,471.24 L175.42,472.56 L176.20,473.80 L176.96,474.93 L177.73,476.08 L178.51,477.22 L179.30,478.35 L180.08,479.43 L180.84,480.47 L181.58,481.43 L182.30,482.30 L182.78,482.85 L183.25,483.34 L183.70,483.79 L184.15,484.22 L184.59,484.64 L185.05,485.06 L185.51,485.51 L186.00,486.00 L186.60,486.64 L187.20,487.32 L187.81,488.03 L188.44,488.75 L189.09,489.47 L189.76,490.18 L190.46,490.86 L191.20,491.50 L192.05,492.17 L192.94,492.84 L193.87,493.50 L194.83,494.13 L195.81,494.73 L196.81,495.28 L197.81,495.77 L198.80,496.20 L199.74,496.55 L200.69,496.88 L201.66,497.16 L202.63,497.40 L203.60,497.59 L204.58,497.70 L205.54,497.74 L206.50,497.70 L207.48,497.56 L208.48,497.32 L209.48,497.01 L210.47,496.62 L211.44,496.18 L212.39,495.68 L213.32,495.15 L214.20,494.60 L215.06,494.00 L215.90,493.36 L216.70,492.67 L217.48,491.94 L218.24,491.16 L218.97,490.32 L219.69,489.44 L220.40,488.50 L221.25,487.22 L222.06,485.81 L222.83,484.30 L223.58,482.73 L224.31,481.10 L225.03,479.46 L225.76,477.81 L226.50,476.20 L227.28,474.50 L228.06,472.77 L228.83,471.02 L229.60,469.25 L230.37,467.48 L231.14,465.73 L231.92,464.00 L232.70,462.30 L233.44,460.71 L234.18,459.13 L234.91,457.57 L235.64,456.02 L236.39,454.48 L237.17,452.97 L237.96,451.47 L238.80,450.00 L239.65,448.53 L240.52,447.01 L241.41,445.47 L242.32,443.97 L243.26,442.55 L244.21,441.25 L245.20,440.12 L246.20,439.20 L246.93,438.67 L247.68,438.19 L248.44,437.79 L249.21,437.45 L249.99,437.19 L250.76,437.00 L251.54,436.91 L252.30,436.90 L253.09,437.00 L253.88,437.20 L254.68,437.49 L255.48,437.87 L256.27,438.32 L257.04,438.83 L257.78,439.40 L258.50,440.00 L259.36,440.85 L260.18,441.81 L260.97,442.89 L261.73,444.04 L262.47,445.27 L263.19,446.55 L263.90,447.87 L264.60,449.20 L265.44,450.90 L266.26,452.71 L267.04,454.61 L267.81,456.56 L268.56,458.56 L269.31,460.59 L270.05,462.60 L270.80,464.60 L271.58,466.68 L272.33,468.81 L273.08,470.95 L273.83,473.11 L274.58,475.26 L275.34,477.39 L276.11,479.47 L276.90,481.50 L277.63,483.35 L278.35,485.20 L279.07,487.04 L279.80,488.85 L280.56,490.61 L281.36,492.30 L282.20,493.90 L283.10,495.40 L283.91,496.59 L284.75,497.74 L285.62,498.84 L286.53,499.88 L287.45,500.86 L288.39,501.78 L289.34,502.63 L290.30,503.40 L291.11,503.99 L291.94,504.52 L292.78,505.01 L293.63,505.45 L294.49,505.85 L295.35,506.21 L296.22,506.52 L297.10,506.80 L297.95,507.03 L298.81,507.21 L299.68,507.35 L300.56,507.46 L301.44,507.53 L302.30,507.58 L303.16,507.60 L304.00,507.60 L304.76,507.58 L305.51,507.53 L306.25,507.47 L306.99,507.37 L307.72,507.26 L308.44,507.13 L309.17,506.97 L309.90,506.80 L310.65,506.59 L311.39,506.36 L312.13,506.09 L312.86,505.81 L313.60,505.51 L314.35,505.21 L315.12,504.90 L315.90,504.60 L316.81,504.26 L317.74,503.91 L318.69,503.54 L319.64,503.18 L320.61,502.81 L321.58,502.44 L322.54,502.07 L323.50,501.70" stroke="#0000ff"/>
<path d="M65.40,529.80 L65.66,528.71 L65.93,527.62 L66.19,526.54 L66.45,525.46 L66.72,524.37 L66.98,523.27 L67.24,522.15 L67.50,521.00 L67.79,519.69 L68.09,518.35 L68.39,516.99 L68.69,515.61 L68.99,514.22 L69.27,512.82 L69.54,511.41 L69.80,510.00 L70.05,508.51 L70.28,506.98 L70.49,505.43 L70.70,503.87 L70.90,502.33 L71.10,500.83 L71.30,499.38 L71.50,498.00 L71.66,496.93 L71.80,495.88 L71.93,494.85 L72.07,493.85 L72.21,492.88 L72.38,491.96 L72.57,491.10 L72.80,490.30 L72.98,489.73 L73.18,489.14 L73.39,488.57 L73.60,488.02 L73.83,487.54 L74.08,487.14 L74.33,486.85 L74.60,486.70 L74.82,486.69 L75.04,486.77 L75.28,486.91 L75.52,487.10 L75.76,487.32 L76.01,487.55 L76.26,487.79 L76.50,488.00 L76.78,488.24 L77.06,488.48 L77.34,488.73 L77.62,489.00 L77.90,489.28 L78.19,489.59 L78.49,489.93 L78.80,490.30 L79.33,491.02 L79.88,491.88 L80.46,492.85 L81.05,493.86 L81.65,494.87 L82.27,495.83 L82.88,496.69 L83.50,497.40 L83.94,497.84 L84.37,498.26 L84.81,498.65 L85.25,499.01 L85.69,499.31 L86.15,499.55 L86.62,499.72 L87.10,499.80 L87.67,499.78 L88.26,499.64 L88.88,499.42 L89.50,499.11 L90.13,498.74 L90.74,498.33 L91.34,497.87 L91.90,497.40 L92.58,496.77 L93.23,496.07 L93.86,495.30 L94.47,494.46 L95.06,493.55 L95.62,492.55 L96.17,491.47 L96.70,490.30 L97.53,488.03 L98.25,485.41 L98.91,482.51 L99.51,479.39 L100.09,476.12 L100.67,472.79 L101.26,469.46 L101.90,466.20 L102.66,462.38 L103.43,458.24 L104.21,453.95 L105.00,449.64 L105.79,445.48 L106.57,441.61 L107.34,438.20 L108.10,435.40 L108.45,434.25 L108.79,433.19 L109.11,432.21 L109.44,431.32 L109.78,430.50 L110.14,429.76 L110.55,429.10 L111.00,428.50 L111.36,428.11 L111.74,427.73 L112.14,427.39 L112.56,427.09 L112.98,426.84 L113.40,426.65 L113.81,426.53 L114.20,426.50 L114.57,426.56 L114.93,426.69 L115.30,426.89 L115.66,427.15 L116.01,427.45 L116.36,427.79 L116.69,428.14 L117.00,428.50 L117.38,429.00 L117.72,429.55 L118.04,430.15 L118.34,430.79 L118.63,431.48 L118.94,432.22 L119.25,432.99 L119.60,433.80 L120.20,435.23 L120.83,436.86 L121.49,438.63 L122.18,440.49 L122.88,442.38 L123.59,444.24 L124.30,446.04 L125.00,447.70 L125.60,449.04 L126.20,450.34 L126.81,451.60 L127.42,452.83 L128.04,454.05 L128.67,455.26 L129.32,456.47 L130.00,457.70 L130.72,458.97 L131.47,460.23 L132.24,461.49 L133.03,462.75 L133.82,464.00 L134.62,465.24 L135.41,466.48 L136.20,467.70 L136.94,468.91 L137.65,470.15 L138.36,471.41 L139.07,472.65 L139.81,473.84 L140.58,474.97 L141.40,476.00 L142.30,476.90 L143.16,477.60 L144.06,478.23 L145.01,478.80 L145.99,479.30 L146.98,479.75 L147.99,480.15 L149.00,480.50 L150.00,480.80 L150.94,481.04 L151.88,481.23 L152.83,481.36 L153.78,481.45 L154.75,481.51 L155.72,481.53 L156.70,481.53 L157.70,481.50 L158.81,481.43 L159.94,481.30 L161.09,481.12 L162.25,480.92 L163.41,480.69 L164.58,480.45 L165.74,480.22 L166.90,480.00 L168.06,479.78 L169.23,479.52 L170.39,479.26 L171.56,479.00 L172.72,478.75 L173.89,478.52 L175.05,478.33 L176.20,478.20 L177.31,478.13 L178.41,478.11 L179.50,478.12 L180.60,478.16 L181.69,478.21 L182.79,478.26 L183.89,478.29 L185.00,478.30 L186.14,478.28 L187.28,478.23 L188.43,478.18 L189.58,478.13 L190.74,478.07 L191.89,478.03 L193.05,478.00 L194.20,478.00 L195.37,478.01 L196.55,478.02 L197.73,478.04 L198.91,478.07 L200.09,478.13 L201.25,478.21 L202.39,478.33 L203.50,478.50 L204.51,478.71 L205.49,478.99 L206.45,479.30 L207.40,479.64 L208.34,479.98 L209.29,480.30 L210.24,480.58 L211.20,480.80 L212.15,480.98 L213.12,481.16 L214.09,481.32 L215.05,481.45 L216.02,481.54 L216.97,481.59 L217.90,481.58 L218.80,481.50 L219.62,481.37 L220.43,481.21 L221.23,481.00 L222.02,480.75 L222.79,480.45 L223.54,480.09 L224.28,479.68 L225.00,479.20 L225.85,478.50 L226.66,477.66 L227.45,476.73 L228.21,475.72 L228.96,474.66 L229.70,473.59 L230.45,472.52 L231.20,471.50 L231.98,470.44 L232.77,469.32 L233.57,468.17 L234.35,467.03 L235.12,465.91 L235.88,464.87 L236.60,463.92 L237.30,463.10 L237.72,462.64 L238.10,462.23 L238.47,461.84 L238.84,461.49 L239.21,461.16 L239.61,460.85 L240.03,460.57 L240.50,460.30 L241.11,460.00 L241.76,459.73 L242.45,459.48 L243.17,459.27 L243.91,459.09 L244.67,458.95 L245.43,458.85 L246.20,458.80 L247.10,458.86 L248.05,459.05 L249.02,459.34 L250.00,459.66 L250.98,459.97 L251.95,460.21 L252.90,460.34 L253.80,460.30 L254.62,460.10 L255.41,459.78 L256.18,459.36 L256.94,458.89 L257.69,458.37 L258.45,457.85 L259.21,457.35 L260.00,456.90 L260.85,456.42 L261.72,455.86 L262.60,455.29 L263.49,454.72 L264.37,454.22 L265.24,453.82 L266.08,453.57 L266.90,453.50 L267.62,453.60 L268.33,453.82 L269.03,454.14 L269.71,454.56 L270.38,455.06 L271.04,455.62 L271.68,456.24 L272.30,456.90 L273.18,458.01 L274.01,459.32 L274.81,460.80 L275.58,462.40 L276.33,464.08 L277.06,465.80 L277.78,467.52 L278.50,469.20 L279.28,471.04 L280.03,472.97 L280.77,474.96 L281.49,476.96 L282.20,478.95 L282.91,480.89 L283.60,482.75 L284.30,484.50 L284.84,485.82 L285.35,487.10 L285.84,488.34 L286.34,489.54 L286.84,490.71 L287.38,491.84 L287.96,492.94 L288.60,494.00 L289.24,494.97 L289.90,495.93 L290.60,496.87 L291.32,497.78 L292.07,498.64 L292.85,499.44 L293.66,500.16 L294.50,500.80 L295.28,501.30 L296.10,501.73 L296.94,502.10 L297.80,502.42 L298.68,502.70 L299.57,502.95 L300.48,503.18 L301.40,503.40 L302.42,503.60 L303.47,503.77 L304.54,503.89 L305.63,503.98 L306.73,504.05 L307.81,504.11 L308.87,504.15 L309.90,504.20 L310.80,504.24 L311.68,504.27 L312.54,504.29 L313.40,504.29 L314.25,504.29 L315.10,504.27 L315.95,504.24 L316.80,504.20 L317.64,504.14 L318.48,504.06 L319.32,503.96 L320.16,503.85 L320.99,503.73 L321.83,503.62 L322.66,503.51 L323.50,503.40" stroke="#ff00ff"/>
</g>
<rect x="57.5" y="321.4" width="266.0" height="214.89999999999998" fill="none" stroke="#222" stroke-width="1.3"/>
<path d="M57.50,536.3v-4M57.50,321.4v4M79.67,536.3v-2M79.67,321.4v2M101.83,536.3v-4M101.83,321.4v4M124.00,536.3v-2M124.00,321.4v2M146.17,536.3v-4M146.17,321.4v4M168.33,536.3v-2M168.33,321.4v2M190.50,536.3v-4M190.50,321.4v4M212.67,536.3v-2M212.67,321.4v2M234.83,536.3v-4M234.83,321.4v4M257.00,536.3v-2M257.00,321.4v2M279.17,536.3v-4M279.17,321.4v4M301.33,536.3v-2M301.33,321.4v2M323.50,536.3v-4M323.50,321.4v4M57.5,536.30h4M323.5,536.30h-4M57.5,521.97h2M323.5,521.97h-2M57.5,507.65h4M323.5,507.65h-4M57.5,493.32h2M323.5,493.32h-2M57.5,478.99h4M323.5,478.99h-4M57.5,464.67h2M323.5,464.67h-2M57.5,450.34h4M323.5,450.34h-4M57.5,436.01h2M323.5,436.01h-2M57.5,421.69h4M323.5,421.69h-4M57.5,407.36h2M323.5,407.36h-2M57.5,393.03h4M323.5,393.03h-4M57.5,378.71h2M323.5,378.71h-2M57.5,364.38h4M323.5,364.38h-4M57.5,350.05h2M323.5,350.05h-2M57.5,335.73h4M323.5,335.73h-4M57.5,321.40h2M323.5,321.40h-2" stroke="#222" stroke-width="1.3" fill="none"/>
<text x="57.50" y="553.80" text-anchor="middle" class="tk">0</text>
<text x="101.83" y="553.80" text-anchor="middle" class="tk">10</text>
<text x="146.17" y="553.80" text-anchor="middle" class="tk">20</text>
<text x="190.50" y="553.80" text-anchor="middle" class="tk">30</text>
<text x="234.83" y="553.80" text-anchor="middle" class="tk">40</text>
<text x="279.17" y="553.80" text-anchor="middle" class="tk">50</text>
<text x="323.50" y="553.80" text-anchor="middle" class="tk">60</text>
<text x="52.00" y="540.70" text-anchor="end" class="tk">0.0</text>
<text x="52.00" y="512.05" text-anchor="end" class="tk">0.5</text>
<text x="52.00" y="483.39" text-anchor="end" class="tk">1.0</text>
<text x="52.00" y="454.74" text-anchor="end" class="tk">1.5</text>
<text x="52.00" y="426.09" text-anchor="end" class="tk">2.0</text>
<text x="52.00" y="397.43" text-anchor="end" class="tk">2.5</text>
<text x="52.00" y="368.78" text-anchor="end" class="tk">3.0</text>
<text x="52.00" y="340.13" text-anchor="end" class="tk">3.5</text>
<text x="190.50" y="579.00" text-anchor="middle" class="tt">Frequency (GHz)</text>
<text transform="translate(16.80,428.85) rotate(-90)" text-anchor="middle" class="tt">Real part of impedance</text>
<text x="1.10" y="309.70" class="pl">(<tspan dx="0.6" font-weight="bold">c</tspan><tspan dx="0.8">)</tspan></text>
<line x1="238.3" y1="336.10" x2="266.7" y2="336.10" stroke="#000000" stroke-width="2"/>
<text x="269.3" y="340.40" class="lg">h=2 mm</text>
<line x1="238.3" y1="351.10" x2="266.7" y2="351.10" stroke="#ff0000" stroke-width="2"/>
<text x="269.3" y="355.40" class="lg">h=3 mm</text>
<line x1="238.3" y1="366.10" x2="266.7" y2="366.10" stroke="#00ff00" stroke-width="2"/>
<text x="269.3" y="370.40" class="lg">h=4 mm</text>
<line x1="238.3" y1="381.10" x2="266.7" y2="381.10" stroke="#0000ff" stroke-width="2"/>
<text x="269.3" y="385.40" class="lg">h=5 mm</text>
<line x1="238.3" y1="396.10" x2="266.7" y2="396.10" stroke="#ff00ff" stroke-width="2"/>
<text x="269.3" y="400.40" class="lg">h=6 mm</text>
<g clip-path="url(#cd)" fill="none" stroke-width="2" stroke-linejoin="round" stroke-linecap="round">
<path d="M417.50,408.00 L417.88,405.13 L418.26,402.27 L418.65,399.42 L419.04,396.56 L419.42,393.70 L419.79,390.82 L420.15,387.92 L420.50,385.00 L420.85,381.87 L421.19,378.64 L421.52,375.35 L421.84,372.06 L422.15,368.83 L422.45,365.71 L422.73,362.74 L423.00,360.00 L423.18,358.13 L423.34,356.29 L423.50,354.52 L423.65,352.81 L423.80,351.19 L423.95,349.67 L424.12,348.27 L424.30,347.00 L424.42,346.26 L424.54,345.50 L424.66,344.74 L424.78,344.04 L424.91,343.42 L425.04,342.94 L425.17,342.62 L425.30,342.50 L425.45,342.64 L425.60,343.02 L425.76,343.60 L425.92,344.35 L426.07,345.20 L426.22,346.12 L426.37,347.07 L426.50,348.00 L426.72,349.84 L426.92,351.94 L427.09,354.27 L427.25,356.77 L427.39,359.40 L427.52,362.11 L427.66,364.86 L427.80,367.60 L427.97,371.09 L428.14,374.77 L428.29,378.59 L428.44,382.50 L428.58,386.44 L428.72,390.37 L428.86,394.24 L429.00,398.00 L429.13,401.47 L429.26,404.94 L429.38,408.39 L429.50,411.81 L429.62,415.19 L429.74,418.53 L429.87,421.80 L430.00,425.00 L430.12,427.79 L430.23,430.55 L430.34,433.29 L430.46,435.98 L430.58,438.61 L430.71,441.17 L430.85,443.63 L431.00,446.00 L431.12,447.82 L431.25,449.62 L431.37,451.38 L431.50,453.08 L431.64,454.72 L431.80,456.26 L431.99,457.69 L432.20,459.00 L432.34,459.80 L432.48,460.62 L432.62,461.43 L432.77,462.19 L432.93,462.86 L433.12,463.41 L433.34,463.80 L433.60,464.00 L433.80,464.01 L434.03,463.93 L434.27,463.78 L434.52,463.57 L434.77,463.32 L435.02,463.05 L435.27,462.77 L435.50,462.50 L435.79,462.14 L436.05,461.74 L436.30,461.32 L436.54,460.86 L436.80,460.37 L437.07,459.85 L437.36,459.29 L437.70,458.70 L438.40,457.52 L439.21,456.19 L440.10,454.72 L441.05,453.16 L442.03,451.55 L443.02,449.91 L443.98,448.28 L444.90,446.70 L445.82,445.10 L446.73,443.48 L447.64,441.86 L448.54,440.23 L449.44,438.58 L450.34,436.91 L451.22,435.22 L452.10,433.50 L453.04,431.65 L453.98,429.77 L454.93,427.88 L455.86,425.96 L456.78,424.01 L457.66,422.04 L458.51,420.04 L459.30,418.00 L460.08,415.79 L460.80,413.53 L461.48,411.22 L462.13,408.88 L462.75,406.54 L463.37,404.20 L463.98,401.88 L464.60,399.60 L465.20,397.47 L465.79,395.36 L466.37,393.28 L466.95,391.20 L467.52,389.12 L468.08,387.02 L468.64,384.88 L469.20,382.70 L469.80,380.26 L470.40,377.73 L470.99,375.15 L471.58,372.55 L472.16,369.97 L472.72,367.45 L473.27,365.01 L473.80,362.70 L474.22,360.88 L474.62,359.08 L475.02,357.32 L475.41,355.60 L475.79,353.95 L476.16,352.37 L476.53,350.88 L476.90,349.50 L477.14,348.55 L477.37,347.56 L477.60,346.56 L477.83,345.62 L478.05,344.79 L478.29,344.13 L478.54,343.68 L478.80,343.50 L479.04,343.57 L479.29,343.82 L479.56,344.20 L479.83,344.70 L480.09,345.28 L480.35,345.93 L480.59,346.61 L480.80,347.30 L481.16,348.91 L481.44,350.86 L481.65,353.08 L481.81,355.50 L481.93,358.05 L482.04,360.66 L482.16,363.27 L482.30,365.80 L482.47,368.60 L482.63,371.39 L482.78,374.21 L482.91,377.09 L483.04,380.07 L483.16,383.19 L483.28,386.49 L483.40,390.00 L483.56,395.90 L483.69,402.55 L483.80,409.70 L483.90,417.11 L484.01,424.53 L484.12,431.72 L484.25,438.42 L484.40,444.40 L484.52,448.08 L484.64,451.55 L484.78,454.84 L484.91,457.99 L485.05,461.05 L485.20,464.05 L485.35,467.02 L485.50,470.00 L485.64,472.63 L485.78,475.20 L485.93,477.73 L486.08,480.22 L486.23,482.69 L486.38,485.13 L486.54,487.57 L486.70,490.00 L486.85,492.34 L486.99,494.70 L487.13,497.07 L487.28,499.42 L487.43,501.71 L487.60,503.93 L487.79,506.03 L488.00,508.00 L488.17,509.46 L488.34,511.03 L488.53,512.60 L488.72,514.10 L488.92,515.43 L489.13,516.50 L489.36,517.22 L489.60,517.50 L489.76,517.42 L489.93,517.18 L490.10,516.80 L490.28,516.32 L490.46,515.77 L490.64,515.18 L490.82,514.58 L491.00,514.00 L491.28,513.05 L491.55,512.01 L491.82,510.88 L492.09,509.68 L492.37,508.43 L492.66,507.12 L492.97,505.77 L493.30,504.40 L493.78,502.45 L494.28,500.37 L494.80,498.19 L495.35,495.94 L495.93,493.64 L496.53,491.31 L497.15,488.99 L497.80,486.70 L498.54,484.19 L499.32,481.57 L500.13,478.90 L500.98,476.22 L501.83,473.61 L502.70,471.12 L503.56,468.79 L504.40,466.70 L504.96,465.40 L505.50,464.17 L506.03,463.02 L506.56,461.92 L507.12,460.87 L507.70,459.88 L508.32,458.92 L509.00,458.00 L509.67,457.21 L510.38,456.46 L511.12,455.76 L511.89,455.09 L512.68,454.45 L513.46,453.83 L514.24,453.21 L515.00,452.60 L515.68,452.04 L516.34,451.49 L516.99,450.94 L517.65,450.42 L518.32,449.91 L519.01,449.42 L519.73,448.95 L520.50,448.50 L521.42,448.02 L522.38,447.55 L523.38,447.10 L524.41,446.68 L525.47,446.29 L526.54,445.94 L527.62,445.64 L528.70,445.40 L529.85,445.19 L531.05,445.03 L532.27,444.91 L533.50,444.83 L534.73,444.81 L535.93,444.85 L537.09,444.94 L538.20,445.10 L539.13,445.33 L540.04,445.65 L540.92,446.04 L541.78,446.46 L542.62,446.89 L543.45,447.29 L544.28,447.64 L545.10,447.90 L545.80,448.08 L546.49,448.25 L547.17,448.40 L547.85,448.53 L548.52,448.61 L549.18,448.64 L549.84,448.61 L550.50,448.50 L551.21,448.30 L551.91,448.01 L552.60,447.65 L553.28,447.23 L553.96,446.75 L554.64,446.23 L555.32,445.68 L556.00,445.10 L556.88,444.30 L557.76,443.41 L558.64,442.44 L559.52,441.42 L560.39,440.34 L561.24,439.22 L562.08,438.07 L562.90,436.90 L563.81,435.51 L564.70,434.03 L565.58,432.49 L566.43,430.90 L567.27,429.30 L568.09,427.70 L568.90,426.13 L569.70,424.60 L570.41,423.18 L571.08,421.73 L571.72,420.27 L572.36,418.82 L573.00,417.42 L573.68,416.08 L574.41,414.84 L575.20,413.70 L575.92,412.78 L576.69,411.82 L577.50,410.88 L578.33,410.01 L579.16,409.26 L579.97,408.67 L580.76,408.30 L581.50,408.20 L582.16,408.37 L582.82,408.78 L583.46,409.37 L584.08,410.10 L584.68,410.96 L585.25,411.88 L585.80,412.84 L586.30,413.80 L586.95,415.27 L587.50,416.93 L587.98,418.75 L588.41,420.68 L588.80,422.68 L589.18,424.73 L589.58,426.78 L590.00,428.80 L590.49,431.08 L590.95,433.47 L591.41,435.91 L591.86,438.38 L592.32,440.83 L592.79,443.23 L593.28,445.53 L593.80,447.70 L594.22,449.46 L594.62,451.27 L595.01,453.08 L595.42,454.83 L595.86,456.45 L596.36,457.88 L596.94,459.05 L597.60,459.90 L598.01,460.23 L598.44,460.49 L598.89,460.69 L599.36,460.83 L599.84,460.90 L600.33,460.92 L600.81,460.89 L601.30,460.80 L601.99,460.50 L602.70,459.95 L603.42,459.23 L604.15,458.44 L604.88,457.65 L605.61,456.94 L606.31,456.40 L607.00,456.10 L607.49,456.02 L607.97,456.01 L608.46,456.05 L608.94,456.14 L609.40,456.30 L609.86,456.51 L610.29,456.78 L610.70,457.10 L611.30,457.80 L611.83,458.72 L612.30,459.82 L612.74,461.06 L613.15,462.39 L613.57,463.77 L614.02,465.15 L614.50,466.50 L615.14,468.25 L615.79,470.15 L616.45,472.14 L617.13,474.17 L617.82,476.18 L618.55,478.11 L619.30,479.90 L620.10,481.50 L620.72,482.64 L621.36,483.83 L622.02,484.99 L622.70,486.09 L623.39,487.05 L624.08,487.83 L624.79,488.36 L625.50,488.60 L626.13,488.53 L626.77,488.21 L627.42,487.70 L628.07,487.04 L628.73,486.29 L629.40,485.48 L630.09,484.67 L630.80,483.90 L631.81,482.83 L632.86,481.65 L633.94,480.39 L635.05,479.07 L636.17,477.72 L637.29,476.35 L638.40,475.00 L639.50,473.70 L640.59,472.42 L641.67,471.15 L642.76,469.87 L643.85,468.60 L644.94,467.32 L646.02,466.04 L647.11,464.77 L648.20,463.50 L649.28,462.21 L650.35,460.90 L651.42,459.57 L652.49,458.26 L653.56,456.96 L654.66,455.71 L655.77,454.52 L656.90,453.40 L657.94,452.45 L658.99,451.54 L660.06,450.67 L661.14,449.84 L662.23,449.04 L663.33,448.29 L664.46,447.58 L665.60,446.90 L666.73,446.30 L667.88,445.76 L669.05,445.27 L670.24,444.80 L671.43,444.36 L672.63,443.92 L673.82,443.47 L675.00,443.00" stroke="#000000"/>
<path d="M417.50,408.00 L417.85,405.52 L418.21,403.05 L418.57,400.60 L418.92,398.14 L419.28,395.67 L419.63,393.16 L419.97,390.61 L420.30,388.00 L420.66,384.90 L421.01,381.57 L421.36,378.12 L421.69,374.66 L422.02,371.30 L422.35,368.17 L422.68,365.36 L423.00,363.00 L423.16,361.95 L423.31,360.98 L423.45,360.07 L423.59,359.23 L423.74,358.45 L423.91,357.74 L424.09,357.09 L424.30,356.50 L424.44,356.17 L424.58,355.83 L424.73,355.50 L424.89,355.21 L425.05,354.95 L425.21,354.75 L425.36,354.63 L425.50,354.60 L425.71,354.75 L425.92,355.13 L426.12,355.69 L426.31,356.40 L426.50,357.22 L426.67,358.12 L426.84,359.06 L427.00,360.00 L427.30,362.22 L427.55,364.87 L427.75,367.87 L427.92,371.13 L428.07,374.56 L428.21,378.07 L428.35,381.58 L428.50,385.00 L428.67,388.96 L428.81,393.12 L428.95,397.40 L429.07,401.73 L429.19,406.03 L429.32,410.22 L429.45,414.24 L429.60,418.00 L429.72,420.78 L429.84,423.49 L429.96,426.13 L430.09,428.69 L430.22,431.16 L430.37,433.54 L430.53,435.82 L430.70,438.00 L430.83,439.57 L430.94,441.11 L431.06,442.60 L431.18,444.04 L431.33,445.41 L431.50,446.71 L431.73,447.91 L432.00,449.00 L432.21,449.70 L432.43,450.41 L432.66,451.11 L432.91,451.76 L433.18,452.33 L433.46,452.80 L433.77,453.13 L434.10,453.30 L434.42,453.29 L434.76,453.15 L435.13,452.91 L435.51,452.58 L435.89,452.20 L436.27,451.79 L436.64,451.38 L437.00,451.00 L437.40,450.56 L437.78,450.10 L438.15,449.61 L438.51,449.10 L438.88,448.56 L439.26,447.98 L439.67,447.36 L440.10,446.70 L440.87,445.50 L441.72,444.15 L442.61,442.68 L443.55,441.13 L444.50,439.52 L445.45,437.89 L446.39,436.27 L447.30,434.70 L448.22,433.09 L449.13,431.44 L450.05,429.78 L450.95,428.11 L451.86,426.45 L452.75,424.80 L453.63,423.18 L454.50,421.60 L455.29,420.20 L456.07,418.82 L456.86,417.46 L457.63,416.11 L458.39,414.78 L459.12,413.45 L459.83,412.13 L460.50,410.80 L461.07,409.56 L461.61,408.29 L462.11,407.01 L462.60,405.74 L463.08,404.51 L463.57,403.33 L464.07,402.22 L464.60,401.20 L465.01,400.50 L465.41,399.83 L465.82,399.19 L466.23,398.58 L466.66,398.01 L467.09,397.47 L467.54,396.97 L468.00,396.50 L468.41,396.11 L468.83,395.71 L469.26,395.33 L469.70,394.98 L470.14,394.67 L470.59,394.43 L471.05,394.27 L471.50,394.20 L471.98,394.24 L472.48,394.36 L472.98,394.56 L473.48,394.84 L473.98,395.18 L474.47,395.58 L474.95,396.02 L475.40,396.50 L476.08,397.43 L476.73,398.58 L477.34,399.90 L477.93,401.34 L478.48,402.85 L479.01,404.38 L479.51,405.88 L480.00,407.30 L480.44,408.60 L480.83,409.87 L481.19,411.13 L481.53,412.40 L481.87,413.70 L482.22,415.05 L482.59,416.48 L483.00,418.00 L483.64,420.39 L484.31,423.01 L485.01,425.79 L485.74,428.67 L486.49,431.60 L487.28,434.50 L488.08,437.32 L488.90,440.00 L489.67,442.33 L490.47,444.61 L491.28,446.84 L492.11,449.05 L492.97,451.23 L493.83,453.41 L494.71,455.60 L495.60,457.80 L496.52,460.13 L497.48,462.58 L498.46,465.09 L499.45,467.56 L500.44,469.93 L501.41,472.11 L502.37,474.03 L503.30,475.60 L503.77,476.30 L504.23,476.93 L504.69,477.51 L505.14,478.04 L505.60,478.50 L506.06,478.89 L506.52,479.23 L507.00,479.50 L507.36,479.66 L507.73,479.79 L508.09,479.88 L508.46,479.94 L508.84,479.96 L509.22,479.95 L509.61,479.89 L510.00,479.80 L510.59,479.58 L511.20,479.25 L511.82,478.84 L512.46,478.35 L513.10,477.80 L513.74,477.20 L514.37,476.56 L515.00,475.90 L515.86,474.89 L516.72,473.73 L517.57,472.47 L518.42,471.13 L519.26,469.74 L520.11,468.33 L520.95,466.94 L521.80,465.60 L522.66,464.26 L523.51,462.91 L524.36,461.56 L525.21,460.21 L526.06,458.85 L526.92,457.47 L527.80,456.09 L528.70,454.70 L529.68,453.18 L530.67,451.62 L531.68,450.05 L532.70,448.47 L533.74,446.90 L534.78,445.35 L535.84,443.85 L536.90,442.40 L537.89,441.09 L538.88,439.78 L539.87,438.48 L540.88,437.22 L541.90,436.01 L542.94,434.85 L544.01,433.78 L545.10,432.80 L546.08,432.02 L547.11,431.27 L548.15,430.58 L549.21,429.94 L550.27,429.36 L551.31,428.83 L552.32,428.38 L553.30,428.00 L554.02,427.75 L554.73,427.52 L555.43,427.33 L556.11,427.17 L556.79,427.06 L557.47,427.01 L558.13,427.02 L558.80,427.10 L559.49,427.28 L560.16,427.56 L560.82,427.93 L561.48,428.34 L562.14,428.79 L562.81,429.25 L563.49,429.70 L564.20,430.10 L565.02,430.55 L565.85,431.03 L566.70,431.52 L567.57,432.02 L568.45,432.48 L569.33,432.90 L570.21,433.24 L571.10,433.50 L571.95,433.66 L572.81,433.77 L573.69,433.83 L574.58,433.84 L575.45,433.80 L576.30,433.73 L577.12,433.63 L577.90,433.50 L578.52,433.32 L579.11,433.04 L579.68,432.71 L580.23,432.37 L580.78,432.06 L581.34,431.82 L581.91,431.68 L582.50,431.70 L583.38,432.00 L584.29,432.58 L585.23,433.36 L586.18,434.28 L587.13,435.29 L588.09,436.32 L589.05,437.31 L590.00,438.20 L590.94,439.04 L591.88,439.91 L592.82,440.78 L593.76,441.66 L594.70,442.51 L595.65,443.33 L596.62,444.10 L597.60,444.80 L598.52,445.37 L599.47,445.87 L600.44,446.32 L601.41,446.75 L602.38,447.17 L603.32,447.61 L604.23,448.08 L605.10,448.60 L605.87,449.11 L606.62,449.60 L607.35,450.11 L608.06,450.64 L608.75,451.20 L609.42,451.82 L610.07,452.52 L610.70,453.30 L611.54,454.57 L612.32,456.01 L613.05,457.60 L613.75,459.30 L614.42,461.07 L615.08,462.89 L615.73,464.71 L616.40,466.50 L617.12,468.54 L617.81,470.69 L618.48,472.91 L619.13,475.15 L619.80,477.37 L620.49,479.51 L621.22,481.54 L622.00,483.40 L622.65,484.85 L623.31,486.36 L623.98,487.88 L624.68,489.31 L625.39,490.59 L626.13,491.65 L626.90,492.41 L627.70,492.80 L628.35,492.82 L629.03,492.62 L629.73,492.24 L630.44,491.72 L631.16,491.10 L631.88,490.41 L632.60,489.70 L633.30,489.00 L634.27,487.95 L635.22,486.74 L636.17,485.40 L637.12,483.97 L638.08,482.49 L639.04,481.00 L640.01,479.52 L641.00,478.10 L642.06,476.65 L643.13,475.20 L644.21,473.73 L645.31,472.27 L646.41,470.80 L647.51,469.33 L648.61,467.86 L649.70,466.40 L650.78,464.92 L651.84,463.41 L652.91,461.88 L653.97,460.37 L655.05,458.88 L656.14,457.44 L657.25,456.07 L658.40,454.80 L659.44,453.75 L660.51,452.75 L661.59,451.79 L662.68,450.88 L663.79,450.01 L664.90,449.18 L666.00,448.38 L667.10,447.60 L668.08,446.94 L669.07,446.32 L670.06,445.74 L671.05,445.19 L672.03,444.65 L673.02,444.11 L674.01,443.56 L675.00,443.00" stroke="#ff0000"/>
<path d="M417.50,408.00 L417.81,406.01 L418.13,404.02 L418.44,402.04 L418.76,400.06 L419.07,398.07 L419.38,396.07 L419.69,394.05 L420.00,392.00 L420.32,389.73 L420.63,387.32 L420.93,384.85 L421.24,382.38 L421.55,379.99 L421.86,377.75 L422.17,375.73 L422.50,374.00 L422.68,373.12 L422.86,372.23 L423.04,371.37 L423.22,370.56 L423.40,369.86 L423.60,369.31 L423.79,368.94 L424.00,368.80 L424.18,368.86 L424.37,369.06 L424.56,369.37 L424.76,369.78 L424.96,370.27 L425.15,370.82 L425.33,371.40 L425.50,372.00 L425.88,373.84 L426.19,376.19 L426.46,378.95 L426.68,382.00 L426.89,385.24 L427.08,388.56 L427.28,391.85 L427.50,395.00 L427.74,398.56 L427.96,402.34 L428.16,406.24 L428.36,410.16 L428.57,414.00 L428.80,417.65 L429.08,421.02 L429.40,424.00 L429.61,425.66 L429.81,427.24 L430.02,428.72 L430.24,430.13 L430.49,431.45 L430.77,432.70 L431.11,433.88 L431.50,435.00 L431.83,435.81 L432.19,436.63 L432.57,437.42 L432.98,438.17 L433.40,438.84 L433.83,439.41 L434.26,439.84 L434.70,440.10 L434.98,440.17 L435.26,440.18 L435.54,440.14 L435.83,440.05 L436.12,439.94 L436.41,439.80 L436.71,439.65 L437.00,439.50 L437.38,439.31 L437.75,439.09 L438.13,438.85 L438.51,438.59 L438.89,438.28 L439.29,437.94 L439.69,437.54 L440.10,437.10 L440.92,436.06 L441.79,434.75 L442.69,433.25 L443.62,431.62 L444.56,429.92 L445.50,428.23 L446.41,426.60 L447.30,425.10 L448.07,423.83 L448.82,422.54 L449.56,421.25 L450.30,420.00 L451.04,418.78 L451.78,417.63 L452.53,416.57 L453.30,415.60 L453.88,414.92 L454.47,414.25 L455.05,413.61 L455.64,413.01 L456.23,412.48 L456.84,412.02 L457.46,411.66 L458.10,411.40 L458.67,411.26 L459.26,411.19 L459.87,411.19 L460.48,411.25 L461.09,411.36 L461.70,411.53 L462.31,411.74 L462.90,412.00 L463.66,412.44 L464.41,412.99 L465.14,413.66 L465.88,414.40 L466.61,415.20 L467.36,416.05 L468.12,416.92 L468.90,417.80 L469.96,419.05 L471.07,420.47 L472.20,422.01 L473.34,423.58 L474.49,425.12 L475.63,426.57 L476.73,427.85 L477.80,428.90 L478.47,429.45 L479.12,429.92 L479.76,430.33 L480.40,430.70 L481.03,431.04 L481.67,431.35 L482.33,431.67 L483.00,432.00 L483.72,432.33 L484.46,432.64 L485.23,432.93 L485.99,433.21 L486.76,433.49 L487.50,433.78 L488.22,434.08 L488.90,434.40 L489.46,434.69 L490.00,434.96 L490.53,435.23 L491.04,435.52 L491.54,435.82 L492.03,436.17 L492.52,436.55 L493.00,437.00 L493.63,437.69 L494.23,438.47 L494.81,439.32 L495.38,440.24 L495.95,441.22 L496.54,442.24 L497.15,443.31 L497.80,444.40 L498.81,446.07 L499.90,447.91 L501.04,449.86 L502.21,451.89 L503.38,453.96 L504.54,456.03 L505.65,458.06 L506.70,460.00 L507.57,461.75 L508.38,463.55 L509.15,465.37 L509.90,467.16 L510.67,468.88 L511.47,470.51 L512.34,471.99 L513.30,473.30 L514.11,474.24 L514.95,475.16 L515.83,476.04 L516.74,476.84 L517.67,477.52 L518.61,478.07 L519.55,478.44 L520.50,478.60 L521.50,478.53 L522.55,478.25 L523.62,477.77 L524.70,477.15 L525.76,476.41 L526.80,475.58 L527.78,474.70 L528.70,473.80 L529.72,472.61 L530.65,471.24 L531.52,469.74 L532.33,468.14 L533.12,466.48 L533.90,464.79 L534.69,463.12 L535.50,461.50 L536.36,459.83 L537.21,458.14 L538.06,456.43 L538.90,454.70 L539.74,452.98 L540.58,451.26 L541.44,449.57 L542.30,447.90 L543.15,446.32 L544.00,444.75 L544.87,443.20 L545.73,441.65 L546.60,440.12 L547.47,438.58 L548.34,437.04 L549.20,435.50 L550.05,433.94 L550.91,432.36 L551.77,430.76 L552.62,429.18 L553.47,427.61 L554.32,426.08 L555.16,424.61 L556.00,423.20 L556.69,422.05 L557.35,420.91 L558.01,419.79 L558.67,418.70 L559.34,417.67 L560.03,416.69 L560.75,415.80 L561.50,415.00 L562.14,414.39 L562.81,413.79 L563.50,413.21 L564.20,412.69 L564.90,412.25 L565.61,411.90 L566.31,411.68 L567.00,411.60 L567.68,411.68 L568.37,411.91 L569.07,412.26 L569.76,412.70 L570.44,413.22 L571.11,413.79 L571.77,414.39 L572.40,415.00 L573.15,415.83 L573.87,416.78 L574.57,417.83 L575.24,418.94 L575.91,420.06 L576.57,421.17 L577.23,422.23 L577.90,423.20 L578.47,423.94 L579.03,424.62 L579.58,425.26 L580.14,425.89 L580.70,426.53 L581.28,427.21 L581.87,427.96 L582.50,428.80 L583.55,430.32 L584.66,432.03 L585.83,433.90 L587.03,435.87 L588.26,437.90 L589.49,439.95 L590.71,441.96 L591.90,443.90 L593.06,445.81 L594.21,447.76 L595.36,449.73 L596.50,451.68 L597.66,453.60 L598.84,455.46 L600.05,457.24 L601.30,458.90 L602.41,460.26 L603.55,461.56 L604.70,462.81 L605.87,464.01 L607.05,465.16 L608.25,466.26 L609.47,467.30 L610.70,468.30 L611.84,469.19 L613.01,470.08 L614.20,470.95 L615.40,471.76 L616.60,472.50 L617.79,473.13 L618.96,473.64 L620.10,474.00 L620.99,474.16 L621.87,474.22 L622.73,474.20 L623.60,474.12 L624.45,473.99 L625.30,473.83 L626.15,473.66 L627.00,473.50 L627.84,473.33 L628.68,473.14 L629.50,472.93 L630.33,472.69 L631.15,472.43 L631.99,472.14 L632.83,471.83 L633.70,471.50 L634.75,471.07 L635.82,470.60 L636.91,470.10 L638.01,469.56 L639.12,469.00 L640.23,468.41 L641.32,467.81 L642.40,467.20 L643.50,466.54 L644.60,465.86 L645.70,465.15 L646.78,464.43 L647.87,463.68 L648.95,462.93 L650.02,462.17 L651.10,461.40 L652.19,460.59 L653.28,459.75 L654.35,458.88 L655.43,458.01 L656.51,457.15 L657.59,456.32 L658.69,455.53 L659.80,454.80 L660.87,454.17 L661.97,453.58 L663.08,453.02 L664.20,452.49 L665.31,451.98 L666.40,451.49 L667.47,450.99 L668.50,450.50 L669.36,450.08 L670.19,449.67 L671.01,449.27 L671.81,448.87 L672.60,448.48 L673.40,448.09 L674.19,447.70 L675.00,447.30" stroke="#00ff00"/>
<path d="M417.50,407.00 L417.75,405.49 L418.00,403.97 L418.26,402.45 L418.51,400.93 L418.76,399.42 L419.01,397.92 L419.26,396.45 L419.50,395.00 L419.71,393.66 L419.90,392.27 L420.08,390.88 L420.27,389.51 L420.46,388.20 L420.68,386.99 L420.92,385.91 L421.20,385.00 L421.37,384.56 L421.55,384.11 L421.74,383.68 L421.94,383.29 L422.14,382.96 L422.33,382.70 L422.52,382.54 L422.70,382.50 L422.96,382.70 L423.20,383.18 L423.44,383.89 L423.66,384.78 L423.88,385.79 L424.09,386.87 L424.30,387.96 L424.50,389.00 L424.79,390.67 L425.06,392.53 L425.31,394.54 L425.55,396.65 L425.78,398.81 L426.01,400.95 L426.25,403.03 L426.50,405.00 L426.74,406.72 L426.97,408.44 L427.20,410.16 L427.44,411.84 L427.68,413.49 L427.94,415.07 L428.21,416.58 L428.50,418.00 L428.71,419.01 L428.92,419.99 L429.12,420.95 L429.33,421.86 L429.56,422.73 L429.83,423.55 L430.14,424.31 L430.50,425.00 L430.82,425.51 L431.18,426.01 L431.56,426.49 L431.97,426.93 L432.38,427.32 L432.79,427.64 L433.20,427.87 L433.60,428.00 L433.90,428.02 L434.19,427.99 L434.48,427.90 L434.77,427.78 L435.06,427.61 L435.37,427.42 L435.68,427.22 L436.00,427.00 L436.57,426.60 L437.17,426.11 L437.81,425.56 L438.46,424.94 L439.12,424.28 L439.77,423.58 L440.40,422.85 L441.00,422.10 L441.69,421.13 L442.36,420.07 L443.02,418.94 L443.66,417.77 L444.28,416.59 L444.90,415.41 L445.50,414.27 L446.10,413.20 L446.60,412.30 L447.08,411.40 L447.55,410.52 L448.01,409.65 L448.48,408.81 L448.96,407.99 L449.46,407.22 L450.00,406.50 L450.49,405.87 L451.00,405.21 L451.52,404.55 L452.06,403.93 L452.61,403.39 L453.16,402.94 L453.73,402.64 L454.30,402.50 L454.90,402.55 L455.53,402.77 L456.18,403.13 L456.83,403.60 L457.47,404.15 L458.11,404.75 L458.72,405.38 L459.30,406.00 L459.99,406.82 L460.64,407.72 L461.26,408.70 L461.86,409.75 L462.44,410.85 L463.00,412.00 L463.55,413.19 L464.10,414.40 L464.76,416.03 L465.39,417.81 L465.98,419.69 L466.56,421.63 L467.13,423.56 L467.70,425.46 L468.29,427.25 L468.90,428.90 L469.39,430.10 L469.88,431.26 L470.37,432.37 L470.87,433.44 L471.37,434.48 L471.90,435.50 L472.44,436.50 L473.00,437.50 L473.53,438.45 L474.05,439.41 L474.57,440.37 L475.12,441.31 L475.69,442.20 L476.32,443.02 L477.02,443.77 L477.80,444.40 L478.72,444.97 L479.75,445.46 L480.85,445.88 L482.01,446.21 L483.20,446.47 L484.39,446.64 L485.57,446.71 L486.70,446.70 L487.82,446.54 L488.93,446.23 L490.04,445.80 L491.15,445.29 L492.26,444.74 L493.37,444.20 L494.48,443.71 L495.60,443.30 L496.70,442.93 L497.83,442.53 L498.96,442.13 L500.09,441.75 L501.20,441.43 L502.30,441.19 L503.37,441.07 L504.40,441.10 L505.31,441.26 L506.22,441.52 L507.11,441.88 L507.98,442.31 L508.83,442.79 L509.63,443.31 L510.39,443.85 L511.10,444.40 L511.68,444.91 L512.21,445.44 L512.70,446.01 L513.16,446.60 L513.60,447.22 L514.05,447.85 L514.51,448.52 L515.00,449.20 L515.64,450.12 L516.28,451.10 L516.93,452.13 L517.59,453.19 L518.26,454.26 L518.97,455.34 L519.71,456.39 L520.50,457.40 L521.40,458.53 L522.35,459.75 L523.33,460.99 L524.35,462.20 L525.40,463.33 L526.48,464.31 L527.58,465.08 L528.70,465.60 L529.67,465.82 L530.68,465.89 L531.72,465.82 L532.77,465.65 L533.82,465.38 L534.87,465.05 L535.90,464.69 L536.90,464.30 L537.97,463.84 L539.03,463.29 L540.07,462.67 L541.10,461.99 L542.12,461.26 L543.13,460.47 L544.12,459.65 L545.10,458.80 L546.19,457.78 L547.26,456.68 L548.32,455.52 L549.36,454.30 L550.38,453.05 L551.38,451.77 L552.35,450.48 L553.30,449.20 L554.22,447.90 L555.10,446.56 L555.96,445.20 L556.79,443.83 L557.61,442.44 L558.43,441.06 L559.26,439.67 L560.10,438.30 L560.96,436.91 L561.81,435.51 L562.65,434.09 L563.51,432.67 L564.36,431.28 L565.23,429.91 L566.11,428.58 L567.00,427.30 L567.82,426.17 L568.65,425.03 L569.49,423.91 L570.34,422.82 L571.19,421.78 L572.05,420.80 L572.92,419.91 L573.80,419.10 L574.51,418.52 L575.23,417.96 L575.96,417.43 L576.70,416.95 L577.42,416.53 L578.14,416.18 L578.83,415.90 L579.50,415.70 L579.96,415.60 L580.41,415.54 L580.86,415.51 L581.29,415.51 L581.72,415.56 L582.14,415.66 L582.57,415.80 L583.00,416.00 L583.66,416.43 L584.30,417.02 L584.94,417.74 L585.59,418.55 L586.23,419.44 L586.88,420.38 L587.53,421.34 L588.20,422.30 L589.11,423.60 L590.05,424.98 L591.00,426.44 L591.96,427.97 L592.92,429.55 L593.87,431.17 L594.80,432.83 L595.70,434.50 L596.69,436.46 L597.65,438.50 L598.59,440.60 L599.52,442.75 L600.44,444.92 L601.35,447.10 L602.27,449.27 L603.20,451.40 L604.14,453.52 L605.07,455.65 L606.00,457.79 L606.93,459.92 L607.86,462.04 L608.80,464.15 L609.75,466.24 L610.70,468.30 L611.62,470.29 L612.53,472.34 L613.45,474.40 L614.37,476.43 L615.31,478.39 L616.25,480.23 L617.22,481.91 L618.20,483.40 L618.89,484.33 L619.59,485.21 L620.31,486.04 L621.02,486.80 L621.74,487.49 L622.46,488.09 L623.18,488.60 L623.90,489.00 L624.42,489.23 L624.94,489.42 L625.46,489.56 L625.98,489.66 L626.50,489.71 L627.01,489.70 L627.51,489.63 L628.00,489.50 L628.57,489.25 L629.12,488.88 L629.65,488.43 L630.17,487.90 L630.69,487.31 L631.21,486.67 L631.75,485.99 L632.30,485.30 L633.15,484.15 L634.01,482.84 L634.88,481.40 L635.77,479.87 L636.67,478.30 L637.59,476.72 L638.54,475.18 L639.50,473.70 L640.52,472.23 L641.58,470.75 L642.65,469.28 L643.75,467.81 L644.85,466.36 L645.97,464.92 L647.09,463.50 L648.20,462.10 L649.26,460.76 L650.33,459.41 L651.39,458.07 L652.47,456.75 L653.55,455.45 L654.65,454.21 L655.76,453.02 L656.90,451.90 L657.94,450.95 L658.99,450.04 L660.06,449.17 L661.14,448.35 L662.23,447.56 L663.34,446.80 L664.46,446.08 L665.60,445.40 L666.73,444.78 L667.88,444.22 L669.06,443.70 L670.24,443.21 L671.43,442.74 L672.63,442.27 L673.82,441.80 L675.00,441.30" stroke="#0000ff"/>
<path d="M417.50,408.30 L417.75,407.12 L417.99,405.90 L418.23,404.67 L418.48,403.45 L418.72,402.26 L418.97,401.10 L419.23,400.01 L419.50,399.00 L419.70,398.25 L419.91,397.46 L420.12,396.66 L420.33,395.90 L420.55,395.22 L420.76,394.69 L420.98,394.33 L421.20,394.20 L421.42,394.32 L421.66,394.67 L421.89,395.20 L422.13,395.86 L422.36,396.62 L422.59,397.42 L422.80,398.23 L423.00,399.00 L423.25,400.17 L423.47,401.48 L423.66,402.90 L423.83,404.37 L423.99,405.86 L424.17,407.32 L424.37,408.72 L424.60,410.00 L424.80,410.96 L424.98,411.90 L425.17,412.80 L425.38,413.68 L425.60,414.53 L425.85,415.37 L426.15,416.19 L426.50,417.00 L426.89,417.84 L427.32,418.73 L427.78,419.63 L428.28,420.51 L428.81,421.30 L429.37,421.98 L429.97,422.49 L430.60,422.80 L431.25,422.90 L431.97,422.84 L432.73,422.66 L433.51,422.36 L434.30,421.97 L435.07,421.49 L435.81,420.97 L436.50,420.40 L437.39,419.46 L438.23,418.30 L439.03,416.97 L439.80,415.53 L440.52,414.01 L441.21,412.48 L441.87,411.00 L442.50,409.60 L443.03,408.39 L443.52,407.19 L443.97,405.99 L444.40,404.80 L444.81,403.60 L445.23,402.41 L445.65,401.21 L446.10,400.00 L446.56,398.73 L447.00,397.42 L447.44,396.09 L447.88,394.77 L448.35,393.47 L448.85,392.23 L449.39,391.06 L450.00,390.00 L450.56,389.14 L451.17,388.25 L451.81,387.37 L452.47,386.55 L453.15,385.83 L453.82,385.25 L454.47,384.86 L455.10,384.70 L455.61,384.76 L456.13,384.97 L456.66,385.31 L457.17,385.75 L457.67,386.27 L458.14,386.83 L458.59,387.42 L459.00,388.00 L459.46,388.77 L459.86,389.61 L460.22,390.53 L460.53,391.50 L460.82,392.54 L461.11,393.64 L461.39,394.79 L461.70,396.00 L462.18,398.02 L462.65,400.25 L463.11,402.64 L463.56,405.16 L464.00,407.76 L464.43,410.40 L464.87,413.02 L465.30,415.60 L465.76,418.36 L466.21,421.22 L466.65,424.12 L467.09,427.04 L467.54,429.92 L467.98,432.74 L468.44,435.44 L468.90,438.00 L469.26,439.94 L469.62,441.85 L469.97,443.70 L470.32,445.51 L470.69,447.24 L471.09,448.91 L471.52,450.50 L472.00,452.00 L472.39,453.09 L472.78,454.14 L473.20,455.14 L473.62,456.11 L474.08,457.03 L474.55,457.90 L475.06,458.72 L475.60,459.50 L476.09,460.12 L476.60,460.73 L477.13,461.30 L477.68,461.83 L478.24,462.33 L478.82,462.77 L479.41,463.17 L480.00,463.50 L480.51,463.74 L481.03,463.95 L481.55,464.13 L482.08,464.26 L482.62,464.36 L483.19,464.41 L483.78,464.43 L484.40,464.40 L485.37,464.27 L486.41,464.03 L487.50,463.69 L488.64,463.27 L489.81,462.79 L490.98,462.26 L492.15,461.69 L493.30,461.10 L494.67,460.32 L496.07,459.43 L497.48,458.46 L498.90,457.43 L500.31,456.37 L501.71,455.31 L503.07,454.28 L504.40,453.30 L505.57,452.43 L506.71,451.52 L507.84,450.61 L508.95,449.71 L510.05,448.85 L511.14,448.05 L512.22,447.32 L513.30,446.70 L514.15,446.27 L514.98,445.90 L515.79,445.57 L516.61,445.28 L517.42,445.02 L518.26,444.80 L519.11,444.59 L520.00,444.40 L521.01,444.22 L522.04,444.10 L523.08,444.01 L524.15,443.95 L525.24,443.91 L526.36,443.88 L527.51,443.85 L528.70,443.80 L530.26,443.73 L531.92,443.67 L533.64,443.61 L535.40,443.56 L537.17,443.52 L538.93,443.50 L540.65,443.49 L542.30,443.50 L543.75,443.53 L545.19,443.59 L546.63,443.67 L548.04,443.76 L549.42,443.84 L550.76,443.92 L552.06,443.97 L553.30,444.00 L554.23,444.02 L555.12,444.07 L555.99,444.12 L556.83,444.15 L557.65,444.15 L558.47,444.11 L559.28,444.00 L560.10,443.80 L560.99,443.48 L561.87,443.08 L562.75,442.59 L563.61,442.05 L564.47,441.47 L565.32,440.85 L566.16,440.22 L567.00,439.60 L567.87,438.91 L568.73,438.15 L569.57,437.36 L570.40,436.55 L571.24,435.73 L572.08,434.94 L572.93,434.19 L573.80,433.50 L574.64,432.88 L575.51,432.25 L576.40,431.62 L577.29,431.03 L578.17,430.49 L579.03,430.03 L579.84,429.66 L580.60,429.40 L581.06,429.29 L581.50,429.20 L581.92,429.15 L582.33,429.13 L582.74,429.16 L583.15,429.22 L583.57,429.34 L584.00,429.50 L584.71,429.89 L585.43,430.45 L586.17,431.14 L586.92,431.93 L587.68,432.78 L588.45,433.67 L589.22,434.55 L590.00,435.40 L590.90,436.40 L591.80,437.49 L592.70,438.62 L593.62,439.77 L594.56,440.90 L595.53,441.99 L596.54,443.00 L597.60,443.90 L598.69,444.64 L599.85,445.26 L601.05,445.82 L602.28,446.33 L603.51,446.83 L604.72,447.36 L605.89,447.94 L607.00,448.60 L608.03,449.30 L609.05,450.02 L610.05,450.75 L611.01,451.53 L611.95,452.35 L612.84,453.22 L613.70,454.17 L614.50,455.20 L615.37,456.57 L616.16,458.07 L616.86,459.69 L617.52,461.39 L618.16,463.13 L618.78,464.89 L619.42,466.62 L620.10,468.30 L620.81,470.01 L621.51,471.80 L622.22,473.63 L622.92,475.44 L623.63,477.18 L624.35,478.80 L625.07,480.26 L625.80,481.50 L626.24,482.14 L626.67,482.72 L627.10,483.25 L627.53,483.74 L627.97,484.18 L628.42,484.58 L628.90,484.95 L629.40,485.30 L629.89,485.62 L630.40,485.93 L630.93,486.23 L631.47,486.49 L632.02,486.70 L632.57,486.83 L633.14,486.87 L633.70,486.80 L634.56,486.45 L635.45,485.84 L636.36,485.00 L637.29,484.01 L638.22,482.91 L639.15,481.75 L640.08,480.60 L641.00,479.50 L642.08,478.20 L643.17,476.81 L644.25,475.36 L645.34,473.87 L646.42,472.35 L647.51,470.84 L648.60,469.35 L649.70,467.90 L650.77,466.50 L651.85,465.09 L652.92,463.68 L653.99,462.28 L655.07,460.90 L656.17,459.55 L657.27,458.25 L658.40,457.00 L659.45,455.89 L660.52,454.79 L661.60,453.72 L662.69,452.69 L663.78,451.69 L664.89,450.74 L665.99,449.84 L667.10,449.00 L668.08,448.32 L669.06,447.71 L670.04,447.14 L671.03,446.60 L672.03,446.08 L673.02,445.57 L674.01,445.05 L675.00,444.50" stroke="#ff00ff"/>
</g>
<rect x="409" y="321.4" width="266" height="214.89999999999998" fill="none" stroke="#222" stroke-width="1.3"/>
<path d="M409.00,536.3v-4M409.00,321.4v4M431.17,536.3v-2M431.17,321.4v2M453.33,536.3v-4M453.33,321.4v4M475.50,536.3v-2M475.50,321.4v2M497.67,536.3v-4M497.67,321.4v4M519.83,536.3v-2M519.83,321.4v2M542.00,536.3v-4M542.00,321.4v4M564.17,536.3v-2M564.17,321.4v2M586.33,536.3v-4M586.33,321.4v4M608.50,536.3v-2M608.50,321.4v2M630.67,536.3v-4M630.67,321.4v4M652.83,536.3v-2M652.83,321.4v2M675.00,536.3v-4M675.00,321.4v4M409,536.30h4M675,536.30h-4M409,520.95h2M675,520.95h-2M409,505.60h4M675,505.60h-4M409,490.25h2M675,490.25h-2M409,474.90h4M675,474.90h-4M409,459.55h2M675,459.55h-2M409,444.20h4M675,444.20h-4M409,428.85h2M675,428.85h-2M409,413.50h4M675,413.50h-4M409,398.15h2M675,398.15h-2M409,382.80h4M675,382.80h-4M409,367.45h2M675,367.45h-2M409,352.10h4M675,352.10h-4M409,336.75h2M675,336.75h-2M409,321.40h4M675,321.40h-4" stroke="#222" stroke-width="1.3" fill="none"/>
<text x="409.00" y="553.80" text-anchor="middle" class="tk">0</text>
<text x="453.33" y="553.80" text-anchor="middle" class="tk">10</text>
<text x="497.67" y="553.80" text-anchor="middle" class="tk">20</text>
<text x="542.00" y="553.80" text-anchor="middle" class="tk">30</text>
<text x="586.33" y="553.80" text-anchor="middle" class="tk">40</text>
<text x="630.67" y="553.80" text-anchor="middle" class="tk">50</text>
<text x="675.00" y="553.80" text-anchor="middle" class="tk">60</text>
<text x="403.50" y="540.70" text-anchor="end" class="tk">-1.5</text>
<text x="403.50" y="510.00" text-anchor="end" class="tk">-1.0</text>
<text x="403.50" y="479.30" text-anchor="end" class="tk">-0.5</text>
<text x="403.50" y="448.60" text-anchor="end" class="tk">0.0</text>
<text x="403.50" y="417.90" text-anchor="end" class="tk">0.5</text>
<text x="403.50" y="387.20" text-anchor="end" class="tk">1.0</text>
<text x="403.50" y="356.50" text-anchor="end" class="tk">1.5</text>
<text x="403.50" y="325.80" text-anchor="end" class="tk">2.0</text>
<text x="542.00" y="579.00" text-anchor="middle" class="tt">Frequency (GHz)</text>
<text transform="translate(362.90,428.85) rotate(-90)" text-anchor="middle" class="tt">Imaginary part of impedance</text>
<text x="351.50" y="309.70" class="pl">(<tspan dx="0.6" font-weight="bold">d</tspan><tspan dx="0.8">)</tspan></text>
<line x1="590" y1="336.10" x2="618.4" y2="336.10" stroke="#000000" stroke-width="2"/>
<text x="621" y="340.40" class="lg">h=2 mm</text>
<line x1="590" y1="351.10" x2="618.4" y2="351.10" stroke="#ff0000" stroke-width="2"/>
<text x="621" y="355.40" class="lg">h=3 mm</text>
<line x1="590" y1="366.10" x2="618.4" y2="366.10" stroke="#00ff00" stroke-width="2"/>
<text x="621" y="370.40" class="lg">h=4 mm</text>
<line x1="590" y1="381.10" x2="618.4" y2="381.10" stroke="#0000ff" stroke-width="2"/>
<text x="621" y="385.40" class="lg">h=5 mm</text>
<line x1="590" y1="396.10" x2="618.4" y2="396.10" stroke="#ff00ff" stroke-width="2"/>
<text x="621" y="400.40" class="lg">h=6 mm</text>
</svg>
</body></html>
